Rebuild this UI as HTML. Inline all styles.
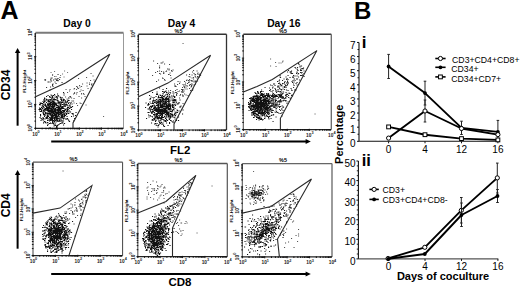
<!DOCTYPE html>
<html><head><meta charset="utf-8"><style>
html,body{margin:0;padding:0;background:#fff;}
body{width:520px;height:288px;overflow:hidden;position:relative;font-family:"Liberation Sans",sans-serif;}
svg{position:absolute;left:0;top:0;}
svg text{font-family:"Liberation Sans",sans-serif;}
</style></head><body>
<svg width="520" height="288" viewBox="0 0 520 288">
<rect width="520" height="288" fill="#fff"/>
<path fill="#777" d="M44.5 80h1.1v1.1h-1.1zM50 81.5h1.1v1.1h-1.1zM50.5 72h1.1v1.1h-1.1zM50.5 77.5h1.1v1.1h-1.1zM52 74.5h1.1v1.1h-1.1zM54 71h1.1v1.1h-1.1zM54 76h1.1v1.1h-1.1zM55.5 76h1.1v1.1h-1.1zM56 79h1.1v1.1h-1.1zM57.5 80.5h1.1v1.1h-1.1zM60 75h1.1v1.1h-1.1zM62 73.5h1.1v1.1h-1.1zM63.5 76.5h1.1v1.1h-1.1zM64 70.5h1.1v1.1h-1.1zM67 72h1.1v1.1h-1.1z"/>
<path fill="#666" d="M74 92h1.1v1.1h-1.1zM85.5 104.5h1.1v1.1h-1.1zM103 116h1.1v1.1h-1.1z"/>
<path fill="#555" d="M60.5 99h1.1v1.1h-1.1zM63.5 93h1.1v1.1h-1.1zM63.5 99h1.1v1.1h-1.1zM64.5 104h1.1v1.1h-1.1zM65 96.5h1.1v1.1h-1.1zM65 100.5h1.1v1.1h-1.1zM65 101h1.1v1.1h-1.1zM65.5 89h1.1v1.1h-1.1zM65.5 101.5h1.1v1.1h-1.1zM66.5 98.5h1.1v1.1h-1.1zM67 92h1.1v1.1h-1.1zM67 108h1.1v1.1h-1.1zM67.5 99.5h1.1v1.1h-1.1zM68 108.5h1.1v1.1h-1.1zM69 90.5h1.1v1.1h-1.1zM69.5 89h1.1v1.1h-1.1zM69.5 104.5h1.1v1.1h-1.1zM70 103h1.1v1.1h-1.1zM70.5 106.5h1.1v1.1h-1.1zM71 97.5h1.1v1.1h-1.1zM73 93.5h1.1v1.1h-1.1zM73 100.5h1.1v1.1h-1.1zM73.5 88.5h1.1v1.1h-1.1zM73.5 98h1.1v1.1h-1.1zM73.5 102.5h1.1v1.1h-1.1zM74 88h1.1v1.1h-1.1zM74 93h1.1v1.1h-1.1zM76 86h1.1v1.1h-1.1zM76 89h1.1v1.1h-1.1zM76 93.5h1.1v1.1h-1.1zM76 103h1.1v1.1h-1.1zM76.5 92h1.1v1.1h-1.1zM77 86.5h1.1v1.1h-1.1zM77 87.5h1.1v1.1h-1.1zM77 105h1.1v1.1h-1.1zM78 78h1.1v1.1h-1.1zM78 88h1.1v1.1h-1.1zM78.5 96h1.1v1.1h-1.1zM79 85h1.1v1.1h-1.1zM79.5 86.5h1.1v1.1h-1.1zM79.5 91h1.1v1.1h-1.1zM79.5 102.5h1.1v1.1h-1.1zM80.5 89.5h1.1v1.1h-1.1zM80.5 103h1.1v1.1h-1.1zM81 86h1.1v1.1h-1.1zM81 93h1.1v1.1h-1.1zM81 93.5h1.1v1.1h-1.1zM81 97.5h1.1v1.1h-1.1zM82 83.5h1.1v1.1h-1.1zM82.5 90h1.1v1.1h-1.1zM83 93h1.1v1.1h-1.1zM83.5 94h1.1v1.1h-1.1zM84.5 96h1.1v1.1h-1.1zM86 77h1.1v1.1h-1.1zM86.5 82.5h1.1v1.1h-1.1zM86.5 85.5h1.1v1.1h-1.1zM87.5 88h1.1v1.1h-1.1zM89 82.5h1.1v1.1h-1.1zM89 84h1.1v1.1h-1.1zM90 80h1.1v1.1h-1.1zM90.5 73h1.1v1.1h-1.1zM90.5 87.5h1.1v1.1h-1.1zM91 83.5h1.1v1.1h-1.1zM91 84.5h1.1v1.1h-1.1zM92 85.5h1.1v1.1h-1.1zM92.5 75.5h1.1v1.1h-1.1zM92.5 83.5h1.1v1.1h-1.1zM93.5 79.5h1.1v1.1h-1.1zM94.5 81h1.1v1.1h-1.1z"/>
<path fill="#333" d="M44.5 79h1.1v1.1h-1.1zM45 79.5h1.1v1.1h-1.1zM46 87h1.1v1.1h-1.1zM47.5 81.5h1.1v1.1h-1.1zM48.5 81.5h1.1v1.1h-1.1zM49.5 89.5h1.1v1.1h-1.1zM50 79.5h1.1v1.1h-1.1zM50 86.5h1.1v1.1h-1.1zM50.5 78.5h1.1v1.1h-1.1zM51 80.5h1.1v1.1h-1.1zM51.5 77.5h1.1v1.1h-1.1zM52 74.5h1.1v1.1h-1.1zM52 84h1.1v1.1h-1.1zM52 85h1.1v1.1h-1.1zM52.5 83.5h1.1v1.1h-1.1zM52.5 86h1.1v1.1h-1.1zM53 79.5h1.1v1.1h-1.1zM54.5 78.5h1.1v1.1h-1.1zM54.5 81.5h1.1v1.1h-1.1zM55.5 78.5h1.1v1.1h-1.1zM55.5 83h1.1v1.1h-1.1zM56 80h1.1v1.1h-1.1zM57 78.5h1.1v1.1h-1.1zM57 80h1.1v1.1h-1.1zM57.5 74h1.1v1.1h-1.1zM57.5 78h1.1v1.1h-1.1zM57.5 80h1.1v1.1h-1.1zM59 79h1.1v1.1h-1.1zM59.5 77h1.1v1.1h-1.1zM61.5 82h1.1v1.1h-1.1z"/>
<path fill="#111" d="M38.5 109h1.1v1.1h-1.1zM39 104h1.1v1.1h-1.1zM39 107.5h1.1v1.1h-1.1zM39 110.5h1.1v1.1h-1.1zM39.5 102.5h1.1v1.1h-1.1zM39.5 104h1.1v1.1h-1.1zM39.5 104.5h1.1v1.1h-1.1zM39.5 108.5h1.1v1.1h-1.1zM39.5 109h1.1v1.1h-1.1zM39.5 117h1.1v1.1h-1.1zM40 103.5h1.1v1.1h-1.1zM40 108h1.1v1.1h-1.1zM40 111h1.1v1.1h-1.1zM40 114h1.1v1.1h-1.1zM40 115h1.1v1.1h-1.1zM40 115.5h1.1v1.1h-1.1zM40.5 102.5h1.1v1.1h-1.1zM40.5 109h1.1v1.1h-1.1zM40.5 118h1.1v1.1h-1.1zM40.5 120h1.1v1.1h-1.1zM41 103h1.1v1.1h-1.1zM41 107h1.1v1.1h-1.1zM41 110h1.1v1.1h-1.1zM41 111h1.1v1.1h-1.1zM41 118.5h1.1v1.1h-1.1zM41.5 105.5h1.1v1.1h-1.1zM41.5 107.5h1.1v1.1h-1.1zM41.5 109.5h1.1v1.1h-1.1zM42 103h1.1v1.1h-1.1zM42 104.5h1.1v1.1h-1.1zM42 108h1.1v1.1h-1.1zM42 118.5h1.1v1.1h-1.1zM42.5 101h1.1v1.1h-1.1zM42.5 104.5h1.1v1.1h-1.1zM42.5 106h1.1v1.1h-1.1zM42.5 107.5h1.1v1.1h-1.1zM42.5 111.5h1.1v1.1h-1.1zM42.5 112.5h1.1v1.1h-1.1zM42.5 117h1.1v1.1h-1.1zM42.5 119.5h1.1v1.1h-1.1zM43 99.5h1.1v1.1h-1.1zM43 102h1.1v1.1h-1.1zM43 106h1.1v1.1h-1.1zM43 109.5h1.1v1.1h-1.1zM43 110h1.1v1.1h-1.1zM43 113h1.1v1.1h-1.1zM43 114h1.1v1.1h-1.1zM43 118h1.1v1.1h-1.1zM43 119.5h1.1v1.1h-1.1zM43 122.5h1.1v1.1h-1.1zM43.5 99.5h1.1v1.1h-1.1zM43.5 103.5h1.1v1.1h-1.1zM43.5 104.5h1.1v1.1h-1.1zM43.5 107h1.1v1.1h-1.1zM43.5 109.5h1.1v1.1h-1.1zM43.5 110.5h1.1v1.1h-1.1zM43.5 111.5h1.1v1.1h-1.1zM43.5 114.5h1.1v1.1h-1.1zM43.5 121.5h1.1v1.1h-1.1zM44 97.5h1.1v1.1h-1.1zM44 98.5h1.1v1.1h-1.1zM44 100.5h1.1v1.1h-1.1zM44 101.5h1.1v1.1h-1.1zM44 109h1.1v1.1h-1.1zM44 110.5h1.1v1.1h-1.1zM44 114h1.1v1.1h-1.1zM44 116h1.1v1.1h-1.1zM44 121h1.1v1.1h-1.1zM44.5 105h1.1v1.1h-1.1zM44.5 108h1.1v1.1h-1.1zM44.5 110.5h1.1v1.1h-1.1zM44.5 113.5h1.1v1.1h-1.1zM44.5 115h1.1v1.1h-1.1zM44.5 118.5h1.1v1.1h-1.1zM45 100.5h1.1v1.1h-1.1zM45 103.5h1.1v1.1h-1.1zM45 104h1.1v1.1h-1.1zM45 104.5h1.1v1.1h-1.1zM45 105.5h1.1v1.1h-1.1zM45 108h1.1v1.1h-1.1zM45 109h1.1v1.1h-1.1zM45 112h1.1v1.1h-1.1zM45 112.5h1.1v1.1h-1.1zM45 121.5h1.1v1.1h-1.1zM45 122h1.1v1.1h-1.1zM45.5 98.5h1.1v1.1h-1.1zM45.5 106h1.1v1.1h-1.1zM45.5 109.5h1.1v1.1h-1.1zM45.5 110h1.1v1.1h-1.1zM45.5 113.5h1.1v1.1h-1.1zM45.5 117h1.1v1.1h-1.1zM45.5 117.5h1.1v1.1h-1.1zM45.5 122.5h1.1v1.1h-1.1zM46 96h1.1v1.1h-1.1zM46 99h1.1v1.1h-1.1zM46 99.5h1.1v1.1h-1.1zM46 102h1.1v1.1h-1.1zM46 107h1.1v1.1h-1.1zM46 108h1.1v1.1h-1.1zM46 109.5h1.1v1.1h-1.1zM46 112.5h1.1v1.1h-1.1zM46 117h1.1v1.1h-1.1zM46 118h1.1v1.1h-1.1zM46.5 105h1.1v1.1h-1.1zM46.5 106h1.1v1.1h-1.1zM46.5 108.5h1.1v1.1h-1.1zM46.5 112.5h1.1v1.1h-1.1zM46.5 115.5h1.1v1.1h-1.1zM46.5 116h1.1v1.1h-1.1zM47 100.5h1.1v1.1h-1.1zM47 103.5h1.1v1.1h-1.1zM47 104.5h1.1v1.1h-1.1zM47 107h1.1v1.1h-1.1zM47 108h1.1v1.1h-1.1zM47 108.5h1.1v1.1h-1.1zM47 109h1.1v1.1h-1.1zM47 109.5h1.1v1.1h-1.1zM47 110.5h1.1v1.1h-1.1zM47 113h1.1v1.1h-1.1zM47 114.5h1.1v1.1h-1.1zM47 115.5h1.1v1.1h-1.1zM47 116.5h1.1v1.1h-1.1zM47 117.5h1.1v1.1h-1.1zM47 120h1.1v1.1h-1.1zM47 122h1.1v1.1h-1.1zM47 125h1.1v1.1h-1.1zM47.5 95h1.1v1.1h-1.1zM47.5 99h1.1v1.1h-1.1zM47.5 103h1.1v1.1h-1.1zM47.5 107h1.1v1.1h-1.1zM47.5 107.5h1.1v1.1h-1.1zM47.5 108.5h1.1v1.1h-1.1zM47.5 109h1.1v1.1h-1.1zM47.5 112.5h1.1v1.1h-1.1zM47.5 113.5h1.1v1.1h-1.1zM47.5 114h1.1v1.1h-1.1zM47.5 114.5h1.1v1.1h-1.1zM47.5 115.5h1.1v1.1h-1.1zM47.5 116h1.1v1.1h-1.1zM47.5 118h1.1v1.1h-1.1zM47.5 118.5h1.1v1.1h-1.1zM47.5 120h1.1v1.1h-1.1zM47.5 122.5h1.1v1.1h-1.1zM47.5 124h1.1v1.1h-1.1zM48 100h1.1v1.1h-1.1zM48 101h1.1v1.1h-1.1zM48 102.5h1.1v1.1h-1.1zM48 104h1.1v1.1h-1.1zM48 105h1.1v1.1h-1.1zM48 106.5h1.1v1.1h-1.1zM48 108.5h1.1v1.1h-1.1zM48 109h1.1v1.1h-1.1zM48 109.5h1.1v1.1h-1.1zM48 110h1.1v1.1h-1.1zM48 111h1.1v1.1h-1.1zM48 112.5h1.1v1.1h-1.1zM48 116h1.1v1.1h-1.1zM48.5 106h1.1v1.1h-1.1zM48.5 107.5h1.1v1.1h-1.1zM48.5 108h1.1v1.1h-1.1zM48.5 110h1.1v1.1h-1.1zM48.5 110.5h1.1v1.1h-1.1zM48.5 111h1.1v1.1h-1.1zM48.5 113h1.1v1.1h-1.1zM49 96h1.1v1.1h-1.1zM49 99.5h1.1v1.1h-1.1zM49 101h1.1v1.1h-1.1zM49 101.5h1.1v1.1h-1.1zM49 103h1.1v1.1h-1.1zM49 103.5h1.1v1.1h-1.1zM49 104.5h1.1v1.1h-1.1zM49 106h1.1v1.1h-1.1zM49 107h1.1v1.1h-1.1zM49 110h1.1v1.1h-1.1zM49 110.5h1.1v1.1h-1.1zM49 111h1.1v1.1h-1.1zM49 111.5h1.1v1.1h-1.1zM49 113.5h1.1v1.1h-1.1zM49 117h1.1v1.1h-1.1zM49 118.5h1.1v1.1h-1.1zM49 120.5h1.1v1.1h-1.1zM49 123h1.1v1.1h-1.1zM49.5 97h1.1v1.1h-1.1zM49.5 99h1.1v1.1h-1.1zM49.5 99.5h1.1v1.1h-1.1zM49.5 103h1.1v1.1h-1.1zM49.5 104.5h1.1v1.1h-1.1zM49.5 105.5h1.1v1.1h-1.1zM49.5 107.5h1.1v1.1h-1.1zM49.5 108.5h1.1v1.1h-1.1zM49.5 109h1.1v1.1h-1.1zM49.5 109.5h1.1v1.1h-1.1zM49.5 111h1.1v1.1h-1.1zM49.5 112.5h1.1v1.1h-1.1zM49.5 114.5h1.1v1.1h-1.1zM49.5 119h1.1v1.1h-1.1zM49.5 120h1.1v1.1h-1.1zM49.5 127h1.1v1.1h-1.1zM50 102h1.1v1.1h-1.1zM50 103h1.1v1.1h-1.1zM50 104h1.1v1.1h-1.1zM50 104.5h1.1v1.1h-1.1zM50 105h1.1v1.1h-1.1zM50 105.5h1.1v1.1h-1.1zM50 108h1.1v1.1h-1.1zM50 110.5h1.1v1.1h-1.1zM50 113h1.1v1.1h-1.1zM50 113.5h1.1v1.1h-1.1zM50 114.5h1.1v1.1h-1.1zM50 117.5h1.1v1.1h-1.1zM50 118.5h1.1v1.1h-1.1zM50 119h1.1v1.1h-1.1zM50 119.5h1.1v1.1h-1.1zM50 122.5h1.1v1.1h-1.1zM50.5 94.5h1.1v1.1h-1.1zM50.5 96.5h1.1v1.1h-1.1zM50.5 99h1.1v1.1h-1.1zM50.5 100h1.1v1.1h-1.1zM50.5 100.5h1.1v1.1h-1.1zM50.5 101h1.1v1.1h-1.1zM50.5 102h1.1v1.1h-1.1zM50.5 104h1.1v1.1h-1.1zM50.5 104.5h1.1v1.1h-1.1zM50.5 106.5h1.1v1.1h-1.1zM50.5 108h1.1v1.1h-1.1zM50.5 109.5h1.1v1.1h-1.1zM50.5 110.5h1.1v1.1h-1.1zM50.5 111.5h1.1v1.1h-1.1zM50.5 112h1.1v1.1h-1.1zM50.5 112.5h1.1v1.1h-1.1zM50.5 113.5h1.1v1.1h-1.1zM50.5 115.5h1.1v1.1h-1.1zM50.5 117h1.1v1.1h-1.1zM50.5 117.5h1.1v1.1h-1.1zM50.5 118h1.1v1.1h-1.1zM50.5 120h1.1v1.1h-1.1zM50.5 123h1.1v1.1h-1.1zM51 98.5h1.1v1.1h-1.1zM51 102h1.1v1.1h-1.1zM51 104h1.1v1.1h-1.1zM51 104.5h1.1v1.1h-1.1zM51 106h1.1v1.1h-1.1zM51 106.5h1.1v1.1h-1.1zM51 108.5h1.1v1.1h-1.1zM51 109.5h1.1v1.1h-1.1zM51 111.5h1.1v1.1h-1.1zM51 112h1.1v1.1h-1.1zM51 112.5h1.1v1.1h-1.1zM51 114.5h1.1v1.1h-1.1zM51 116.5h1.1v1.1h-1.1zM51 117.5h1.1v1.1h-1.1zM51 118.5h1.1v1.1h-1.1zM51 119.5h1.1v1.1h-1.1zM51.5 95h1.1v1.1h-1.1zM51.5 97.5h1.1v1.1h-1.1zM51.5 98h1.1v1.1h-1.1zM51.5 102h1.1v1.1h-1.1zM51.5 103h1.1v1.1h-1.1zM51.5 103.5h1.1v1.1h-1.1zM51.5 104h1.1v1.1h-1.1zM51.5 107.5h1.1v1.1h-1.1zM51.5 108.5h1.1v1.1h-1.1zM51.5 109.5h1.1v1.1h-1.1zM51.5 110h1.1v1.1h-1.1zM51.5 110.5h1.1v1.1h-1.1zM51.5 111h1.1v1.1h-1.1zM51.5 111.5h1.1v1.1h-1.1zM51.5 112.5h1.1v1.1h-1.1zM51.5 115.5h1.1v1.1h-1.1zM51.5 116h1.1v1.1h-1.1zM52 96h1.1v1.1h-1.1zM52 97h1.1v1.1h-1.1zM52 100.5h1.1v1.1h-1.1zM52 101h1.1v1.1h-1.1zM52 102.5h1.1v1.1h-1.1zM52 104h1.1v1.1h-1.1zM52 104.5h1.1v1.1h-1.1zM52 105h1.1v1.1h-1.1zM52 105.5h1.1v1.1h-1.1zM52 106h1.1v1.1h-1.1zM52 106.5h1.1v1.1h-1.1zM52 109h1.1v1.1h-1.1zM52 109.5h1.1v1.1h-1.1zM52 110h1.1v1.1h-1.1zM52 110.5h1.1v1.1h-1.1zM52 111h1.1v1.1h-1.1zM52 111.5h1.1v1.1h-1.1zM52 112h1.1v1.1h-1.1zM52 113.5h1.1v1.1h-1.1zM52 114.5h1.1v1.1h-1.1zM52 115.5h1.1v1.1h-1.1zM52 116.5h1.1v1.1h-1.1zM52 117h1.1v1.1h-1.1zM52 118h1.1v1.1h-1.1zM52 119h1.1v1.1h-1.1zM52 119.5h1.1v1.1h-1.1zM52 120.5h1.1v1.1h-1.1zM52 121.5h1.1v1.1h-1.1zM52 122.5h1.1v1.1h-1.1zM52.5 99h1.1v1.1h-1.1zM52.5 99.5h1.1v1.1h-1.1zM52.5 100.5h1.1v1.1h-1.1zM52.5 103h1.1v1.1h-1.1zM52.5 105.5h1.1v1.1h-1.1zM52.5 106h1.1v1.1h-1.1zM52.5 106.5h1.1v1.1h-1.1zM52.5 107.5h1.1v1.1h-1.1zM52.5 109h1.1v1.1h-1.1zM52.5 110.5h1.1v1.1h-1.1zM52.5 111.5h1.1v1.1h-1.1zM52.5 112h1.1v1.1h-1.1zM52.5 113.5h1.1v1.1h-1.1zM52.5 115h1.1v1.1h-1.1zM52.5 115.5h1.1v1.1h-1.1zM52.5 116.5h1.1v1.1h-1.1zM52.5 117.5h1.1v1.1h-1.1zM52.5 118h1.1v1.1h-1.1zM52.5 123h1.1v1.1h-1.1zM53 95h1.1v1.1h-1.1zM53 101h1.1v1.1h-1.1zM53 101.5h1.1v1.1h-1.1zM53 102.5h1.1v1.1h-1.1zM53 103h1.1v1.1h-1.1zM53 103.5h1.1v1.1h-1.1zM53 104h1.1v1.1h-1.1zM53 105.5h1.1v1.1h-1.1zM53 106h1.1v1.1h-1.1zM53 106.5h1.1v1.1h-1.1zM53 107h1.1v1.1h-1.1zM53 107.5h1.1v1.1h-1.1zM53 108h1.1v1.1h-1.1zM53 110.5h1.1v1.1h-1.1zM53 111.5h1.1v1.1h-1.1zM53 112h1.1v1.1h-1.1zM53 112.5h1.1v1.1h-1.1zM53 113h1.1v1.1h-1.1zM53 115h1.1v1.1h-1.1zM53 115.5h1.1v1.1h-1.1zM53 117.5h1.1v1.1h-1.1zM53 120h1.1v1.1h-1.1zM53 121.5h1.1v1.1h-1.1zM53 123h1.1v1.1h-1.1zM53.5 97.5h1.1v1.1h-1.1zM53.5 98.5h1.1v1.1h-1.1zM53.5 99h1.1v1.1h-1.1zM53.5 101.5h1.1v1.1h-1.1zM53.5 102h1.1v1.1h-1.1zM53.5 103h1.1v1.1h-1.1zM53.5 103.5h1.1v1.1h-1.1zM53.5 104.5h1.1v1.1h-1.1zM53.5 105h1.1v1.1h-1.1zM53.5 109.5h1.1v1.1h-1.1zM53.5 111.5h1.1v1.1h-1.1zM53.5 113h1.1v1.1h-1.1zM53.5 114.5h1.1v1.1h-1.1zM53.5 123.5h1.1v1.1h-1.1zM53.5 124h1.1v1.1h-1.1zM53.5 125.5h1.1v1.1h-1.1zM54 94h1.1v1.1h-1.1zM54 99h1.1v1.1h-1.1zM54 99.5h1.1v1.1h-1.1zM54 101.5h1.1v1.1h-1.1zM54 102.5h1.1v1.1h-1.1zM54 104.5h1.1v1.1h-1.1zM54 105h1.1v1.1h-1.1zM54 105.5h1.1v1.1h-1.1zM54 106h1.1v1.1h-1.1zM54 107.5h1.1v1.1h-1.1zM54 109h1.1v1.1h-1.1zM54 110.5h1.1v1.1h-1.1zM54 113.5h1.1v1.1h-1.1zM54 114h1.1v1.1h-1.1zM54 114.5h1.1v1.1h-1.1zM54 115h1.1v1.1h-1.1zM54 115.5h1.1v1.1h-1.1zM54 117h1.1v1.1h-1.1zM54 117.5h1.1v1.1h-1.1zM54 118h1.1v1.1h-1.1zM54 119h1.1v1.1h-1.1zM54 120.5h1.1v1.1h-1.1zM54 121.5h1.1v1.1h-1.1zM54.5 95.5h1.1v1.1h-1.1zM54.5 99.5h1.1v1.1h-1.1zM54.5 103.5h1.1v1.1h-1.1zM54.5 104h1.1v1.1h-1.1zM54.5 108.5h1.1v1.1h-1.1zM54.5 109h1.1v1.1h-1.1zM54.5 109.5h1.1v1.1h-1.1zM54.5 110h1.1v1.1h-1.1zM54.5 110.5h1.1v1.1h-1.1zM54.5 111h1.1v1.1h-1.1zM54.5 111.5h1.1v1.1h-1.1zM54.5 112h1.1v1.1h-1.1zM54.5 113h1.1v1.1h-1.1zM54.5 113.5h1.1v1.1h-1.1zM54.5 114h1.1v1.1h-1.1zM54.5 114.5h1.1v1.1h-1.1zM54.5 115h1.1v1.1h-1.1zM54.5 115.5h1.1v1.1h-1.1zM54.5 117h1.1v1.1h-1.1zM54.5 118h1.1v1.1h-1.1zM54.5 120h1.1v1.1h-1.1zM54.5 125h1.1v1.1h-1.1zM55 99h1.1v1.1h-1.1zM55 102.5h1.1v1.1h-1.1zM55 103h1.1v1.1h-1.1zM55 108h1.1v1.1h-1.1zM55 110h1.1v1.1h-1.1zM55 111h1.1v1.1h-1.1zM55 111.5h1.1v1.1h-1.1zM55 112h1.1v1.1h-1.1zM55 113.5h1.1v1.1h-1.1zM55 114h1.1v1.1h-1.1zM55 115h1.1v1.1h-1.1zM55 116h1.1v1.1h-1.1zM55 116.5h1.1v1.1h-1.1zM55 117.5h1.1v1.1h-1.1zM55 120h1.1v1.1h-1.1zM55 123.5h1.1v1.1h-1.1zM55.5 97h1.1v1.1h-1.1zM55.5 99h1.1v1.1h-1.1zM55.5 103h1.1v1.1h-1.1zM55.5 103.5h1.1v1.1h-1.1zM55.5 104.5h1.1v1.1h-1.1zM55.5 105h1.1v1.1h-1.1zM55.5 106.5h1.1v1.1h-1.1zM55.5 108.5h1.1v1.1h-1.1zM55.5 109h1.1v1.1h-1.1zM55.5 110.5h1.1v1.1h-1.1zM55.5 112h1.1v1.1h-1.1zM55.5 114h1.1v1.1h-1.1zM55.5 114.5h1.1v1.1h-1.1zM55.5 116.5h1.1v1.1h-1.1zM55.5 119h1.1v1.1h-1.1zM55.5 121.5h1.1v1.1h-1.1zM55.5 125h1.1v1.1h-1.1zM56 96h1.1v1.1h-1.1zM56 104h1.1v1.1h-1.1zM56 104.5h1.1v1.1h-1.1zM56 105h1.1v1.1h-1.1zM56 107h1.1v1.1h-1.1zM56 113h1.1v1.1h-1.1zM56 114h1.1v1.1h-1.1zM56 115h1.1v1.1h-1.1zM56 116h1.1v1.1h-1.1zM56 117h1.1v1.1h-1.1zM56 118h1.1v1.1h-1.1zM56 119.5h1.1v1.1h-1.1zM56 126h1.1v1.1h-1.1zM56 127h1.1v1.1h-1.1zM56.5 97.5h1.1v1.1h-1.1zM56.5 100h1.1v1.1h-1.1zM56.5 102.5h1.1v1.1h-1.1zM56.5 105h1.1v1.1h-1.1zM56.5 109.5h1.1v1.1h-1.1zM56.5 110h1.1v1.1h-1.1zM56.5 111.5h1.1v1.1h-1.1zM56.5 112.5h1.1v1.1h-1.1zM56.5 113.5h1.1v1.1h-1.1zM56.5 115.5h1.1v1.1h-1.1zM56.5 116.5h1.1v1.1h-1.1zM56.5 117.5h1.1v1.1h-1.1zM56.5 118.5h1.1v1.1h-1.1zM56.5 120.5h1.1v1.1h-1.1zM56.5 126h1.1v1.1h-1.1zM57 93.5h1.1v1.1h-1.1zM57 96.5h1.1v1.1h-1.1zM57 98.5h1.1v1.1h-1.1zM57 100.5h1.1v1.1h-1.1zM57 105h1.1v1.1h-1.1zM57 106.5h1.1v1.1h-1.1zM57 107h1.1v1.1h-1.1zM57 108.5h1.1v1.1h-1.1zM57 109h1.1v1.1h-1.1zM57 110h1.1v1.1h-1.1zM57 111.5h1.1v1.1h-1.1zM57 112.5h1.1v1.1h-1.1zM57 118h1.1v1.1h-1.1zM57 119.5h1.1v1.1h-1.1zM57 125h1.1v1.1h-1.1zM57.5 95h1.1v1.1h-1.1zM57.5 100h1.1v1.1h-1.1zM57.5 100.5h1.1v1.1h-1.1zM57.5 102.5h1.1v1.1h-1.1zM57.5 105h1.1v1.1h-1.1zM57.5 107h1.1v1.1h-1.1zM57.5 108.5h1.1v1.1h-1.1zM57.5 110h1.1v1.1h-1.1zM57.5 111h1.1v1.1h-1.1zM57.5 112h1.1v1.1h-1.1zM57.5 112.5h1.1v1.1h-1.1zM57.5 113h1.1v1.1h-1.1zM57.5 114.5h1.1v1.1h-1.1zM57.5 116h1.1v1.1h-1.1zM57.5 117.5h1.1v1.1h-1.1zM57.5 118h1.1v1.1h-1.1zM57.5 120.5h1.1v1.1h-1.1zM57.5 121h1.1v1.1h-1.1zM57.5 124.5h1.1v1.1h-1.1zM58 95.5h1.1v1.1h-1.1zM58 101.5h1.1v1.1h-1.1zM58 102h1.1v1.1h-1.1zM58 102.5h1.1v1.1h-1.1zM58 106h1.1v1.1h-1.1zM58 108h1.1v1.1h-1.1zM58 108.5h1.1v1.1h-1.1zM58 109h1.1v1.1h-1.1zM58 110.5h1.1v1.1h-1.1zM58 111.5h1.1v1.1h-1.1zM58 112h1.1v1.1h-1.1zM58 114h1.1v1.1h-1.1zM58 114.5h1.1v1.1h-1.1zM58 115h1.1v1.1h-1.1zM58 118h1.1v1.1h-1.1zM58 120.5h1.1v1.1h-1.1zM58.5 102h1.1v1.1h-1.1zM58.5 103h1.1v1.1h-1.1zM58.5 103.5h1.1v1.1h-1.1zM58.5 107h1.1v1.1h-1.1zM58.5 108h1.1v1.1h-1.1zM58.5 108.5h1.1v1.1h-1.1zM58.5 109h1.1v1.1h-1.1zM58.5 109.5h1.1v1.1h-1.1zM58.5 110.5h1.1v1.1h-1.1zM58.5 112.5h1.1v1.1h-1.1zM58.5 113h1.1v1.1h-1.1zM58.5 114h1.1v1.1h-1.1zM58.5 115.5h1.1v1.1h-1.1zM58.5 118.5h1.1v1.1h-1.1zM58.5 124h1.1v1.1h-1.1zM59 103.5h1.1v1.1h-1.1zM59 105.5h1.1v1.1h-1.1zM59 107h1.1v1.1h-1.1zM59 108h1.1v1.1h-1.1zM59 110.5h1.1v1.1h-1.1zM59 112h1.1v1.1h-1.1zM59 114h1.1v1.1h-1.1zM59 116.5h1.1v1.1h-1.1zM59 120h1.1v1.1h-1.1zM59 120.5h1.1v1.1h-1.1zM59.5 96.5h1.1v1.1h-1.1zM59.5 101h1.1v1.1h-1.1zM59.5 102h1.1v1.1h-1.1zM59.5 103.5h1.1v1.1h-1.1zM59.5 105.5h1.1v1.1h-1.1zM59.5 106h1.1v1.1h-1.1zM59.5 108h1.1v1.1h-1.1zM59.5 109h1.1v1.1h-1.1zM59.5 110h1.1v1.1h-1.1zM59.5 110.5h1.1v1.1h-1.1zM59.5 111h1.1v1.1h-1.1zM59.5 111.5h1.1v1.1h-1.1zM59.5 113.5h1.1v1.1h-1.1zM59.5 116.5h1.1v1.1h-1.1zM59.5 118h1.1v1.1h-1.1zM59.5 118.5h1.1v1.1h-1.1zM59.5 119.5h1.1v1.1h-1.1zM59.5 120.5h1.1v1.1h-1.1zM59.5 121h1.1v1.1h-1.1zM59.5 123h1.1v1.1h-1.1zM60 97h1.1v1.1h-1.1zM60 103.5h1.1v1.1h-1.1zM60 104.5h1.1v1.1h-1.1zM60 105h1.1v1.1h-1.1zM60 105.5h1.1v1.1h-1.1zM60 106h1.1v1.1h-1.1zM60 108h1.1v1.1h-1.1zM60 109h1.1v1.1h-1.1zM60 110h1.1v1.1h-1.1zM60 110.5h1.1v1.1h-1.1zM60 112h1.1v1.1h-1.1zM60 112.5h1.1v1.1h-1.1zM60 113h1.1v1.1h-1.1zM60.5 98h1.1v1.1h-1.1zM60.5 99h1.1v1.1h-1.1zM60.5 102.5h1.1v1.1h-1.1zM60.5 103.5h1.1v1.1h-1.1zM60.5 104.5h1.1v1.1h-1.1zM60.5 106.5h1.1v1.1h-1.1zM60.5 107h1.1v1.1h-1.1zM60.5 107.5h1.1v1.1h-1.1zM60.5 108.5h1.1v1.1h-1.1zM60.5 110.5h1.1v1.1h-1.1zM60.5 111h1.1v1.1h-1.1zM60.5 114h1.1v1.1h-1.1zM60.5 115h1.1v1.1h-1.1zM60.5 117h1.1v1.1h-1.1zM60.5 123h1.1v1.1h-1.1zM61 99h1.1v1.1h-1.1zM61 100h1.1v1.1h-1.1zM61 102h1.1v1.1h-1.1zM61 107h1.1v1.1h-1.1zM61 107.5h1.1v1.1h-1.1zM61 108.5h1.1v1.1h-1.1zM61 111h1.1v1.1h-1.1zM61 111.5h1.1v1.1h-1.1zM61 112.5h1.1v1.1h-1.1zM61 113h1.1v1.1h-1.1zM61 113.5h1.1v1.1h-1.1zM61 116h1.1v1.1h-1.1zM61 117h1.1v1.1h-1.1zM61 119.5h1.1v1.1h-1.1zM61.5 97h1.1v1.1h-1.1zM61.5 100h1.1v1.1h-1.1zM61.5 101h1.1v1.1h-1.1zM61.5 102h1.1v1.1h-1.1zM61.5 106h1.1v1.1h-1.1zM61.5 107h1.1v1.1h-1.1zM61.5 107.5h1.1v1.1h-1.1zM61.5 111.5h1.1v1.1h-1.1zM61.5 113.5h1.1v1.1h-1.1zM61.5 115h1.1v1.1h-1.1zM61.5 115.5h1.1v1.1h-1.1zM61.5 116.5h1.1v1.1h-1.1zM61.5 118h1.1v1.1h-1.1zM61.5 120h1.1v1.1h-1.1zM61.5 120.5h1.1v1.1h-1.1zM61.5 121.5h1.1v1.1h-1.1zM61.5 122h1.1v1.1h-1.1zM62 102h1.1v1.1h-1.1zM62 104h1.1v1.1h-1.1zM62 107h1.1v1.1h-1.1zM62 108h1.1v1.1h-1.1zM62 110h1.1v1.1h-1.1zM62 112h1.1v1.1h-1.1zM62 113.5h1.1v1.1h-1.1zM62 114.5h1.1v1.1h-1.1zM62 115.5h1.1v1.1h-1.1zM62 116.5h1.1v1.1h-1.1zM62 117h1.1v1.1h-1.1zM62 122.5h1.1v1.1h-1.1zM62.5 98.5h1.1v1.1h-1.1zM62.5 102h1.1v1.1h-1.1zM62.5 104h1.1v1.1h-1.1zM62.5 106h1.1v1.1h-1.1zM62.5 107h1.1v1.1h-1.1zM62.5 108h1.1v1.1h-1.1zM62.5 111.5h1.1v1.1h-1.1zM62.5 112h1.1v1.1h-1.1zM62.5 113.5h1.1v1.1h-1.1zM62.5 116h1.1v1.1h-1.1zM62.5 116.5h1.1v1.1h-1.1zM62.5 122.5h1.1v1.1h-1.1zM63 92h1.1v1.1h-1.1zM63 99.5h1.1v1.1h-1.1zM63 100.5h1.1v1.1h-1.1zM63 103.5h1.1v1.1h-1.1zM63 108h1.1v1.1h-1.1zM63 110h1.1v1.1h-1.1zM63 111h1.1v1.1h-1.1zM63 114.5h1.1v1.1h-1.1zM63 118h1.1v1.1h-1.1zM63 118.5h1.1v1.1h-1.1zM63 120.5h1.1v1.1h-1.1zM63 124.5h1.1v1.1h-1.1zM63.5 94.5h1.1v1.1h-1.1zM63.5 99h1.1v1.1h-1.1zM63.5 105h1.1v1.1h-1.1zM63.5 105.5h1.1v1.1h-1.1zM63.5 111.5h1.1v1.1h-1.1zM63.5 113h1.1v1.1h-1.1zM63.5 114.5h1.1v1.1h-1.1zM63.5 116.5h1.1v1.1h-1.1zM63.5 118h1.1v1.1h-1.1zM64 103.5h1.1v1.1h-1.1zM64 105.5h1.1v1.1h-1.1zM64 108.5h1.1v1.1h-1.1zM64 110h1.1v1.1h-1.1zM64 110.5h1.1v1.1h-1.1zM64 111h1.1v1.1h-1.1zM64 111.5h1.1v1.1h-1.1zM64 113.5h1.1v1.1h-1.1zM64 115h1.1v1.1h-1.1zM64 115.5h1.1v1.1h-1.1zM64 116.5h1.1v1.1h-1.1zM64 123h1.1v1.1h-1.1zM64.5 100h1.1v1.1h-1.1zM64.5 101.5h1.1v1.1h-1.1zM64.5 102.5h1.1v1.1h-1.1zM64.5 104h1.1v1.1h-1.1zM64.5 106h1.1v1.1h-1.1zM64.5 110h1.1v1.1h-1.1zM64.5 114.5h1.1v1.1h-1.1zM65 105.5h1.1v1.1h-1.1zM65 109h1.1v1.1h-1.1zM65 112.5h1.1v1.1h-1.1zM65 115h1.1v1.1h-1.1zM65.5 101.5h1.1v1.1h-1.1zM65.5 104.5h1.1v1.1h-1.1zM65.5 108.5h1.1v1.1h-1.1zM65.5 112.5h1.1v1.1h-1.1zM65.5 118h1.1v1.1h-1.1zM65.5 119h1.1v1.1h-1.1zM66 103.5h1.1v1.1h-1.1zM66 111h1.1v1.1h-1.1zM66 113h1.1v1.1h-1.1zM66 113.5h1.1v1.1h-1.1zM66 114h1.1v1.1h-1.1zM66.5 102h1.1v1.1h-1.1zM66.5 104.5h1.1v1.1h-1.1zM66.5 108.5h1.1v1.1h-1.1zM66.5 110h1.1v1.1h-1.1zM66.5 116h1.1v1.1h-1.1zM67 101h1.1v1.1h-1.1zM67 104.5h1.1v1.1h-1.1zM67 107h1.1v1.1h-1.1zM67 109.5h1.1v1.1h-1.1zM67 110.5h1.1v1.1h-1.1zM67 112.5h1.1v1.1h-1.1zM67 118h1.1v1.1h-1.1zM67 118.5h1.1v1.1h-1.1zM67.5 100h1.1v1.1h-1.1zM67.5 105.5h1.1v1.1h-1.1zM67.5 109h1.1v1.1h-1.1zM67.5 110.5h1.1v1.1h-1.1zM67.5 111h1.1v1.1h-1.1zM68 97.5h1.1v1.1h-1.1zM68 103h1.1v1.1h-1.1zM68 107h1.1v1.1h-1.1zM68 113h1.1v1.1h-1.1zM68 119.5h1.1v1.1h-1.1zM68.5 97.5h1.1v1.1h-1.1zM68.5 100h1.1v1.1h-1.1zM68.5 102h1.1v1.1h-1.1zM68.5 112.5h1.1v1.1h-1.1zM68.5 120.5h1.1v1.1h-1.1zM69 105.5h1.1v1.1h-1.1zM69 108h1.1v1.1h-1.1zM69 110.5h1.1v1.1h-1.1zM69 121h1.1v1.1h-1.1zM69.5 96h1.1v1.1h-1.1zM69.5 104.5h1.1v1.1h-1.1zM69.5 107.5h1.1v1.1h-1.1zM70 96.5h1.1v1.1h-1.1zM70 106.5h1.1v1.1h-1.1zM70 111.5h1.1v1.1h-1.1zM70.5 102h1.1v1.1h-1.1zM71 107h1.1v1.1h-1.1zM71 109h1.1v1.1h-1.1zM71 116h1.1v1.1h-1.1zM71.5 100.5h1.1v1.1h-1.1zM71.5 103.5h1.1v1.1h-1.1zM71.5 113h1.1v1.1h-1.1zM72 106h1.1v1.1h-1.1zM72.5 113h1.1v1.1h-1.1zM72.5 114h1.1v1.1h-1.1zM73 115.5h1.1v1.1h-1.1zM73 120.5h1.1v1.1h-1.1zM74 118h1.1v1.1h-1.1zM75 115h1.1v1.1h-1.1zM75.5 112h1.1v1.1h-1.1z"/>
<path fill="#666" d="M154 97h1.1v1.1h-1.1zM182.5 43h1.1v1.1h-1.1z"/>
<path fill="#444" d="M148 69h1.1v1.1h-1.1zM152 75h1.1v1.1h-1.1zM153 60.5h1.1v1.1h-1.1zM155 72h1.1v1.1h-1.1zM156 81h1.1v1.1h-1.1zM157 63h1.1v1.1h-1.1zM157 71h1.1v1.1h-1.1zM158 79.5h1.1v1.1h-1.1zM159 65.5h1.1v1.1h-1.1zM159 67h1.1v1.1h-1.1zM159 67.5h1.1v1.1h-1.1zM159 70.5h1.1v1.1h-1.1zM159 73h1.1v1.1h-1.1zM160 73.5h1.1v1.1h-1.1zM160.5 62.5h1.1v1.1h-1.1zM161 71h1.1v1.1h-1.1zM161.5 62.5h1.1v1.1h-1.1zM162 77.5h1.1v1.1h-1.1zM162.5 61.5h1.1v1.1h-1.1zM162.5 78h1.1v1.1h-1.1zM163 71.5h1.1v1.1h-1.1zM163 73h1.1v1.1h-1.1zM163.5 72.5h1.1v1.1h-1.1zM164 63.5h1.1v1.1h-1.1zM164 79h1.1v1.1h-1.1zM164.5 80h1.1v1.1h-1.1zM165 91h1.1v1.1h-1.1zM165.5 71h1.1v1.1h-1.1zM166 70.5h1.1v1.1h-1.1zM166 92h1.1v1.1h-1.1zM166.5 96h1.1v1.1h-1.1zM166.5 97.5h1.1v1.1h-1.1zM167 68.5h1.1v1.1h-1.1zM167 98h1.1v1.1h-1.1zM167.5 99h1.1v1.1h-1.1zM168 74h1.1v1.1h-1.1zM168 90.5h1.1v1.1h-1.1zM168 92.5h1.1v1.1h-1.1zM168 93h1.1v1.1h-1.1zM168 98.5h1.1v1.1h-1.1zM168 100h1.1v1.1h-1.1zM168.5 68.5h1.1v1.1h-1.1zM168.5 69.5h1.1v1.1h-1.1zM168.5 74h1.1v1.1h-1.1zM169 64h1.1v1.1h-1.1zM169 95.5h1.1v1.1h-1.1zM169 96.5h1.1v1.1h-1.1zM169.5 72.5h1.1v1.1h-1.1zM169.5 96.5h1.1v1.1h-1.1zM169.5 100.5h1.1v1.1h-1.1zM170 75h1.1v1.1h-1.1zM170 90h1.1v1.1h-1.1zM170.5 77.5h1.1v1.1h-1.1zM171 70h1.1v1.1h-1.1zM171.5 71h1.1v1.1h-1.1zM172 97.5h1.1v1.1h-1.1zM172 100.5h1.1v1.1h-1.1zM172.5 69.5h1.1v1.1h-1.1zM172.5 91h1.1v1.1h-1.1zM172.5 95.5h1.1v1.1h-1.1zM172.5 96h1.1v1.1h-1.1zM172.5 100h1.1v1.1h-1.1zM172.5 102.5h1.1v1.1h-1.1zM173 94.5h1.1v1.1h-1.1zM173 98.5h1.1v1.1h-1.1zM173.5 92.5h1.1v1.1h-1.1zM174 83.5h1.1v1.1h-1.1zM174 99h1.1v1.1h-1.1zM174 99.5h1.1v1.1h-1.1zM174 102h1.1v1.1h-1.1zM174.5 85h1.1v1.1h-1.1zM174.5 86h1.1v1.1h-1.1zM174.5 96.5h1.1v1.1h-1.1zM174.5 102.5h1.1v1.1h-1.1zM175 90h1.1v1.1h-1.1zM175 92h1.1v1.1h-1.1zM175 100.5h1.1v1.1h-1.1zM175.5 86h1.1v1.1h-1.1zM176 92h1.1v1.1h-1.1zM176 94h1.1v1.1h-1.1zM176 95h1.1v1.1h-1.1zM176 101.5h1.1v1.1h-1.1zM176 102h1.1v1.1h-1.1zM176.5 89h1.1v1.1h-1.1zM177 84h1.1v1.1h-1.1zM177.5 81h1.1v1.1h-1.1zM177.5 91h1.1v1.1h-1.1zM177.5 103h1.1v1.1h-1.1zM178.5 102h1.1v1.1h-1.1zM179 83h1.1v1.1h-1.1zM179 90.5h1.1v1.1h-1.1zM179 97.5h1.1v1.1h-1.1zM179 106.5h1.1v1.1h-1.1zM179.5 81.5h1.1v1.1h-1.1zM179.5 95h1.1v1.1h-1.1zM180 94h1.1v1.1h-1.1zM181 89h1.1v1.1h-1.1zM181 91.5h1.1v1.1h-1.1zM181.5 89h1.1v1.1h-1.1zM181.5 91h1.1v1.1h-1.1zM182 87h1.1v1.1h-1.1zM182 90h1.1v1.1h-1.1zM182 91.5h1.1v1.1h-1.1zM182 94.5h1.1v1.1h-1.1zM182.5 84h1.1v1.1h-1.1zM182.5 89h1.1v1.1h-1.1zM182.5 91.5h1.1v1.1h-1.1zM182.5 92h1.1v1.1h-1.1zM182.5 95h1.1v1.1h-1.1zM182.5 96h1.1v1.1h-1.1zM182.5 103h1.1v1.1h-1.1zM183 85.5h1.1v1.1h-1.1zM183.5 85.5h1.1v1.1h-1.1zM183.5 90.5h1.1v1.1h-1.1zM184 81h1.1v1.1h-1.1zM184 86.5h1.1v1.1h-1.1zM184 87h1.1v1.1h-1.1zM184 93.5h1.1v1.1h-1.1zM184.5 84h1.1v1.1h-1.1zM184.5 88.5h1.1v1.1h-1.1zM185 82.5h1.1v1.1h-1.1zM185.5 85h1.1v1.1h-1.1zM185.5 86.5h1.1v1.1h-1.1zM185.5 94.5h1.1v1.1h-1.1zM186 74.5h1.1v1.1h-1.1zM186 80h1.1v1.1h-1.1zM186.5 79.5h1.1v1.1h-1.1zM186.5 88.5h1.1v1.1h-1.1zM187 83h1.1v1.1h-1.1zM187 85.5h1.1v1.1h-1.1zM187.5 95h1.1v1.1h-1.1zM188 80h1.1v1.1h-1.1zM188 82h1.1v1.1h-1.1zM188.5 76h1.1v1.1h-1.1zM188.5 80h1.1v1.1h-1.1zM188.5 81.5h1.1v1.1h-1.1zM189 74h1.1v1.1h-1.1zM189 79h1.1v1.1h-1.1zM189 81.5h1.1v1.1h-1.1zM189 84.5h1.1v1.1h-1.1zM189 85h1.1v1.1h-1.1zM189 88h1.1v1.1h-1.1zM189.5 76.5h1.1v1.1h-1.1zM190 84h1.1v1.1h-1.1zM190 90h1.1v1.1h-1.1zM190.5 80h1.1v1.1h-1.1zM190.5 86.5h1.1v1.1h-1.1zM191 83.5h1.1v1.1h-1.1zM191 85h1.1v1.1h-1.1zM191 86h1.1v1.1h-1.1zM191.5 74.5h1.1v1.1h-1.1zM191.5 77.5h1.1v1.1h-1.1zM191.5 80h1.1v1.1h-1.1zM191.5 80.5h1.1v1.1h-1.1zM191.5 81h1.1v1.1h-1.1zM191.5 83.5h1.1v1.1h-1.1zM192 71.5h1.1v1.1h-1.1zM192 90h1.1v1.1h-1.1zM192.5 84.5h1.1v1.1h-1.1zM192.5 88.5h1.1v1.1h-1.1zM193 70h1.1v1.1h-1.1zM193 77h1.1v1.1h-1.1zM193 78.5h1.1v1.1h-1.1zM193.5 73h1.1v1.1h-1.1zM193.5 80.5h1.1v1.1h-1.1zM193.5 81.5h1.1v1.1h-1.1zM194.5 74h1.1v1.1h-1.1zM194.5 75.5h1.1v1.1h-1.1zM194.5 84h1.1v1.1h-1.1zM195 74h1.1v1.1h-1.1zM195 76.5h1.1v1.1h-1.1zM195 80.5h1.1v1.1h-1.1zM195 81.5h1.1v1.1h-1.1zM196.5 70.5h1.1v1.1h-1.1zM196.5 77.5h1.1v1.1h-1.1zM197 73.5h1.1v1.1h-1.1zM197 76h1.1v1.1h-1.1zM197 80.5h1.1v1.1h-1.1zM197.5 72.5h1.1v1.1h-1.1zM197.5 76.5h1.1v1.1h-1.1zM198.5 74h1.1v1.1h-1.1zM199 75.5h1.1v1.1h-1.1zM199 76.5h1.1v1.1h-1.1zM199.5 73.5h1.1v1.1h-1.1zM200 74.5h1.1v1.1h-1.1zM200 75h1.1v1.1h-1.1z"/>
<path fill="#111" d="M145 107h1.1v1.1h-1.1zM145.5 102.5h1.1v1.1h-1.1zM146 118h1.1v1.1h-1.1zM147.5 104h1.1v1.1h-1.1zM147.5 105h1.1v1.1h-1.1zM147.5 108.5h1.1v1.1h-1.1zM147.5 112h1.1v1.1h-1.1zM148 103h1.1v1.1h-1.1zM148 108.5h1.1v1.1h-1.1zM148 114.5h1.1v1.1h-1.1zM148.5 104h1.1v1.1h-1.1zM148.5 112h1.1v1.1h-1.1zM148.5 116.5h1.1v1.1h-1.1zM149 95h1.1v1.1h-1.1zM149 107h1.1v1.1h-1.1zM149 107.5h1.1v1.1h-1.1zM149.5 98.5h1.1v1.1h-1.1zM149.5 99h1.1v1.1h-1.1zM149.5 101.5h1.1v1.1h-1.1zM149.5 106.5h1.1v1.1h-1.1zM149.5 108.5h1.1v1.1h-1.1zM149.5 109.5h1.1v1.1h-1.1zM149.5 115h1.1v1.1h-1.1zM150 98h1.1v1.1h-1.1zM150 106h1.1v1.1h-1.1zM150 110.5h1.1v1.1h-1.1zM150 115.5h1.1v1.1h-1.1zM150.5 96.5h1.1v1.1h-1.1zM150.5 103h1.1v1.1h-1.1zM150.5 105.5h1.1v1.1h-1.1zM150.5 106h1.1v1.1h-1.1zM150.5 108.5h1.1v1.1h-1.1zM150.5 111.5h1.1v1.1h-1.1zM151 106h1.1v1.1h-1.1zM151 107h1.1v1.1h-1.1zM151 112h1.1v1.1h-1.1zM151 112.5h1.1v1.1h-1.1zM151 122.5h1.1v1.1h-1.1zM151.5 109h1.1v1.1h-1.1zM151.5 111.5h1.1v1.1h-1.1zM151.5 112.5h1.1v1.1h-1.1zM151.5 113h1.1v1.1h-1.1zM151.5 116h1.1v1.1h-1.1zM151.5 119.5h1.1v1.1h-1.1zM152 92h1.1v1.1h-1.1zM152 101.5h1.1v1.1h-1.1zM152 103h1.1v1.1h-1.1zM152 105h1.1v1.1h-1.1zM152 106h1.1v1.1h-1.1zM152 109h1.1v1.1h-1.1zM152 110.5h1.1v1.1h-1.1zM152 111.5h1.1v1.1h-1.1zM152 116.5h1.1v1.1h-1.1zM152 119h1.1v1.1h-1.1zM152.5 97h1.1v1.1h-1.1zM152.5 100h1.1v1.1h-1.1zM152.5 101h1.1v1.1h-1.1zM152.5 102.5h1.1v1.1h-1.1zM152.5 120h1.1v1.1h-1.1zM153 98.5h1.1v1.1h-1.1zM153 100h1.1v1.1h-1.1zM153 103h1.1v1.1h-1.1zM153 108h1.1v1.1h-1.1zM153 109.5h1.1v1.1h-1.1zM153 111h1.1v1.1h-1.1zM153 111.5h1.1v1.1h-1.1zM153 114h1.1v1.1h-1.1zM153 118.5h1.1v1.1h-1.1zM153.5 104.5h1.1v1.1h-1.1zM153.5 105.5h1.1v1.1h-1.1zM153.5 107h1.1v1.1h-1.1zM153.5 114.5h1.1v1.1h-1.1zM153.5 118h1.1v1.1h-1.1zM154 100.5h1.1v1.1h-1.1zM154 102h1.1v1.1h-1.1zM154 105.5h1.1v1.1h-1.1zM154 107.5h1.1v1.1h-1.1zM154 108.5h1.1v1.1h-1.1zM154 110h1.1v1.1h-1.1zM154 112h1.1v1.1h-1.1zM154 113.5h1.1v1.1h-1.1zM154 114.5h1.1v1.1h-1.1zM154 117.5h1.1v1.1h-1.1zM154 119h1.1v1.1h-1.1zM154 123.5h1.1v1.1h-1.1zM154.5 100h1.1v1.1h-1.1zM154.5 102h1.1v1.1h-1.1zM154.5 105.5h1.1v1.1h-1.1zM154.5 106.5h1.1v1.1h-1.1zM154.5 109h1.1v1.1h-1.1zM154.5 110h1.1v1.1h-1.1zM154.5 113.5h1.1v1.1h-1.1zM154.5 115.5h1.1v1.1h-1.1zM154.5 116h1.1v1.1h-1.1zM154.5 118h1.1v1.1h-1.1zM154.5 119.5h1.1v1.1h-1.1zM155 106.5h1.1v1.1h-1.1zM155 107h1.1v1.1h-1.1zM155 107.5h1.1v1.1h-1.1zM155 110h1.1v1.1h-1.1zM155 113.5h1.1v1.1h-1.1zM155 117h1.1v1.1h-1.1zM155 121h1.1v1.1h-1.1zM155 123h1.1v1.1h-1.1zM155.5 96h1.1v1.1h-1.1zM155.5 99.5h1.1v1.1h-1.1zM155.5 101h1.1v1.1h-1.1zM155.5 102.5h1.1v1.1h-1.1zM155.5 108.5h1.1v1.1h-1.1zM155.5 109.5h1.1v1.1h-1.1zM155.5 110h1.1v1.1h-1.1zM155.5 111h1.1v1.1h-1.1zM155.5 114h1.1v1.1h-1.1zM155.5 115.5h1.1v1.1h-1.1zM155.5 120h1.1v1.1h-1.1zM155.5 124.5h1.1v1.1h-1.1zM156 94h1.1v1.1h-1.1zM156 99h1.1v1.1h-1.1zM156 103h1.1v1.1h-1.1zM156 105h1.1v1.1h-1.1zM156 107.5h1.1v1.1h-1.1zM156 108.5h1.1v1.1h-1.1zM156 109.5h1.1v1.1h-1.1zM156 110h1.1v1.1h-1.1zM156 110.5h1.1v1.1h-1.1zM156 111h1.1v1.1h-1.1zM156 113h1.1v1.1h-1.1zM156 114h1.1v1.1h-1.1zM156 114.5h1.1v1.1h-1.1zM156 115.5h1.1v1.1h-1.1zM156 116.5h1.1v1.1h-1.1zM156.5 91.5h1.1v1.1h-1.1zM156.5 93h1.1v1.1h-1.1zM156.5 101.5h1.1v1.1h-1.1zM156.5 102h1.1v1.1h-1.1zM156.5 104.5h1.1v1.1h-1.1zM156.5 105h1.1v1.1h-1.1zM156.5 109h1.1v1.1h-1.1zM156.5 110h1.1v1.1h-1.1zM156.5 111h1.1v1.1h-1.1zM156.5 113h1.1v1.1h-1.1zM156.5 114h1.1v1.1h-1.1zM156.5 117.5h1.1v1.1h-1.1zM156.5 118h1.1v1.1h-1.1zM156.5 118.5h1.1v1.1h-1.1zM156.5 123h1.1v1.1h-1.1zM156.5 125h1.1v1.1h-1.1zM157 94h1.1v1.1h-1.1zM157 102.5h1.1v1.1h-1.1zM157 105h1.1v1.1h-1.1zM157 106.5h1.1v1.1h-1.1zM157 108.5h1.1v1.1h-1.1zM157 110h1.1v1.1h-1.1zM157 111.5h1.1v1.1h-1.1zM157 114h1.1v1.1h-1.1zM157 116h1.1v1.1h-1.1zM157 117h1.1v1.1h-1.1zM157 118h1.1v1.1h-1.1zM157.5 97.5h1.1v1.1h-1.1zM157.5 99.5h1.1v1.1h-1.1zM157.5 100.5h1.1v1.1h-1.1zM157.5 101.5h1.1v1.1h-1.1zM157.5 102.5h1.1v1.1h-1.1zM157.5 104h1.1v1.1h-1.1zM157.5 107.5h1.1v1.1h-1.1zM157.5 108h1.1v1.1h-1.1zM157.5 109.5h1.1v1.1h-1.1zM157.5 110.5h1.1v1.1h-1.1zM157.5 111.5h1.1v1.1h-1.1zM157.5 112h1.1v1.1h-1.1zM157.5 113h1.1v1.1h-1.1zM157.5 115h1.1v1.1h-1.1zM157.5 117h1.1v1.1h-1.1zM157.5 126.5h1.1v1.1h-1.1zM158 95.5h1.1v1.1h-1.1zM158 96.5h1.1v1.1h-1.1zM158 99.5h1.1v1.1h-1.1zM158 102h1.1v1.1h-1.1zM158 103.5h1.1v1.1h-1.1zM158 104h1.1v1.1h-1.1zM158 104.5h1.1v1.1h-1.1zM158 105h1.1v1.1h-1.1zM158 105.5h1.1v1.1h-1.1zM158 106h1.1v1.1h-1.1zM158 106.5h1.1v1.1h-1.1zM158 108.5h1.1v1.1h-1.1zM158 109h1.1v1.1h-1.1zM158 111.5h1.1v1.1h-1.1zM158 112h1.1v1.1h-1.1zM158 113h1.1v1.1h-1.1zM158 117.5h1.1v1.1h-1.1zM158 118.5h1.1v1.1h-1.1zM158 120.5h1.1v1.1h-1.1zM158 124.5h1.1v1.1h-1.1zM158 125h1.1v1.1h-1.1zM158.5 97h1.1v1.1h-1.1zM158.5 101h1.1v1.1h-1.1zM158.5 103.5h1.1v1.1h-1.1zM158.5 104h1.1v1.1h-1.1zM158.5 104.5h1.1v1.1h-1.1zM158.5 107.5h1.1v1.1h-1.1zM158.5 109.5h1.1v1.1h-1.1zM158.5 110h1.1v1.1h-1.1zM158.5 111h1.1v1.1h-1.1zM158.5 112.5h1.1v1.1h-1.1zM158.5 113h1.1v1.1h-1.1zM158.5 115.5h1.1v1.1h-1.1zM158.5 117h1.1v1.1h-1.1zM158.5 117.5h1.1v1.1h-1.1zM159 87.5h1.1v1.1h-1.1zM159 99h1.1v1.1h-1.1zM159 101h1.1v1.1h-1.1zM159 102.5h1.1v1.1h-1.1zM159 107h1.1v1.1h-1.1zM159 108.5h1.1v1.1h-1.1zM159 109h1.1v1.1h-1.1zM159 109.5h1.1v1.1h-1.1zM159 111.5h1.1v1.1h-1.1zM159 114.5h1.1v1.1h-1.1zM159 116.5h1.1v1.1h-1.1zM159 117h1.1v1.1h-1.1zM159 117.5h1.1v1.1h-1.1zM159 121.5h1.1v1.1h-1.1zM159 122h1.1v1.1h-1.1zM159 123.5h1.1v1.1h-1.1zM159.5 94.5h1.1v1.1h-1.1zM159.5 97.5h1.1v1.1h-1.1zM159.5 100h1.1v1.1h-1.1zM159.5 101h1.1v1.1h-1.1zM159.5 101.5h1.1v1.1h-1.1zM159.5 105.5h1.1v1.1h-1.1zM159.5 108.5h1.1v1.1h-1.1zM159.5 109.5h1.1v1.1h-1.1zM159.5 110.5h1.1v1.1h-1.1zM159.5 111h1.1v1.1h-1.1zM159.5 111.5h1.1v1.1h-1.1zM159.5 113h1.1v1.1h-1.1zM159.5 117.5h1.1v1.1h-1.1zM159.5 118h1.1v1.1h-1.1zM159.5 120h1.1v1.1h-1.1zM159.5 122h1.1v1.1h-1.1zM160 95h1.1v1.1h-1.1zM160 97h1.1v1.1h-1.1zM160 99h1.1v1.1h-1.1zM160 100.5h1.1v1.1h-1.1zM160 102h1.1v1.1h-1.1zM160 103h1.1v1.1h-1.1zM160 103.5h1.1v1.1h-1.1zM160 104.5h1.1v1.1h-1.1zM160 105.5h1.1v1.1h-1.1zM160 106h1.1v1.1h-1.1zM160 106.5h1.1v1.1h-1.1zM160 107h1.1v1.1h-1.1zM160 110.5h1.1v1.1h-1.1zM160 111h1.1v1.1h-1.1zM160 111.5h1.1v1.1h-1.1zM160 112.5h1.1v1.1h-1.1zM160 113h1.1v1.1h-1.1zM160 113.5h1.1v1.1h-1.1zM160 115h1.1v1.1h-1.1zM160 123h1.1v1.1h-1.1zM160.5 99h1.1v1.1h-1.1zM160.5 99.5h1.1v1.1h-1.1zM160.5 100.5h1.1v1.1h-1.1zM160.5 101h1.1v1.1h-1.1zM160.5 104h1.1v1.1h-1.1zM160.5 104.5h1.1v1.1h-1.1zM160.5 105h1.1v1.1h-1.1zM160.5 106.5h1.1v1.1h-1.1zM160.5 109h1.1v1.1h-1.1zM160.5 109.5h1.1v1.1h-1.1zM160.5 112.5h1.1v1.1h-1.1zM160.5 114.5h1.1v1.1h-1.1zM160.5 117h1.1v1.1h-1.1zM160.5 118h1.1v1.1h-1.1zM160.5 118.5h1.1v1.1h-1.1zM160.5 119h1.1v1.1h-1.1zM160.5 120.5h1.1v1.1h-1.1zM161 95.5h1.1v1.1h-1.1zM161 97h1.1v1.1h-1.1zM161 100.5h1.1v1.1h-1.1zM161 101h1.1v1.1h-1.1zM161 105h1.1v1.1h-1.1zM161 105.5h1.1v1.1h-1.1zM161 106.5h1.1v1.1h-1.1zM161 107.5h1.1v1.1h-1.1zM161 109h1.1v1.1h-1.1zM161 109.5h1.1v1.1h-1.1zM161 110.5h1.1v1.1h-1.1zM161 111h1.1v1.1h-1.1zM161 111.5h1.1v1.1h-1.1zM161 113h1.1v1.1h-1.1zM161 113.5h1.1v1.1h-1.1zM161 114h1.1v1.1h-1.1zM161 116h1.1v1.1h-1.1zM161 117.5h1.1v1.1h-1.1zM161 122h1.1v1.1h-1.1zM161.5 96.5h1.1v1.1h-1.1zM161.5 98h1.1v1.1h-1.1zM161.5 100.5h1.1v1.1h-1.1zM161.5 101.5h1.1v1.1h-1.1zM161.5 102h1.1v1.1h-1.1zM161.5 103.5h1.1v1.1h-1.1zM161.5 105h1.1v1.1h-1.1zM161.5 105.5h1.1v1.1h-1.1zM161.5 106.5h1.1v1.1h-1.1zM161.5 107h1.1v1.1h-1.1zM161.5 110h1.1v1.1h-1.1zM161.5 111h1.1v1.1h-1.1zM161.5 111.5h1.1v1.1h-1.1zM161.5 113h1.1v1.1h-1.1zM161.5 115.5h1.1v1.1h-1.1zM161.5 116h1.1v1.1h-1.1zM161.5 116.5h1.1v1.1h-1.1zM161.5 118.5h1.1v1.1h-1.1zM161.5 123.5h1.1v1.1h-1.1zM161.5 124h1.1v1.1h-1.1zM162 91h1.1v1.1h-1.1zM162 95h1.1v1.1h-1.1zM162 96.5h1.1v1.1h-1.1zM162 97.5h1.1v1.1h-1.1zM162 99h1.1v1.1h-1.1zM162 100h1.1v1.1h-1.1zM162 103.5h1.1v1.1h-1.1zM162 104h1.1v1.1h-1.1zM162 104.5h1.1v1.1h-1.1zM162 105h1.1v1.1h-1.1zM162 106h1.1v1.1h-1.1zM162 106.5h1.1v1.1h-1.1zM162 109h1.1v1.1h-1.1zM162 110.5h1.1v1.1h-1.1zM162 111h1.1v1.1h-1.1zM162 111.5h1.1v1.1h-1.1zM162 112h1.1v1.1h-1.1zM162 113h1.1v1.1h-1.1zM162 113.5h1.1v1.1h-1.1zM162 114h1.1v1.1h-1.1zM162 114.5h1.1v1.1h-1.1zM162 115.5h1.1v1.1h-1.1zM162 117h1.1v1.1h-1.1zM162.5 89h1.1v1.1h-1.1zM162.5 93h1.1v1.1h-1.1zM162.5 93.5h1.1v1.1h-1.1zM162.5 98h1.1v1.1h-1.1zM162.5 100.5h1.1v1.1h-1.1zM162.5 102.5h1.1v1.1h-1.1zM162.5 103h1.1v1.1h-1.1zM162.5 104.5h1.1v1.1h-1.1zM162.5 105h1.1v1.1h-1.1zM162.5 106.5h1.1v1.1h-1.1zM162.5 107h1.1v1.1h-1.1zM162.5 108h1.1v1.1h-1.1zM162.5 108.5h1.1v1.1h-1.1zM162.5 109h1.1v1.1h-1.1zM162.5 109.5h1.1v1.1h-1.1zM162.5 110h1.1v1.1h-1.1zM162.5 110.5h1.1v1.1h-1.1zM162.5 111h1.1v1.1h-1.1zM162.5 112h1.1v1.1h-1.1zM162.5 117h1.1v1.1h-1.1zM162.5 119h1.1v1.1h-1.1zM162.5 122.5h1.1v1.1h-1.1zM163 96h1.1v1.1h-1.1zM163 98h1.1v1.1h-1.1zM163 98.5h1.1v1.1h-1.1zM163 99.5h1.1v1.1h-1.1zM163 101h1.1v1.1h-1.1zM163 103h1.1v1.1h-1.1zM163 106h1.1v1.1h-1.1zM163 108.5h1.1v1.1h-1.1zM163 110h1.1v1.1h-1.1zM163 113h1.1v1.1h-1.1zM163 117h1.1v1.1h-1.1zM163 124.5h1.1v1.1h-1.1zM163 125.5h1.1v1.1h-1.1zM163.5 91h1.1v1.1h-1.1zM163.5 92h1.1v1.1h-1.1zM163.5 96.5h1.1v1.1h-1.1zM163.5 99h1.1v1.1h-1.1zM163.5 101.5h1.1v1.1h-1.1zM163.5 102h1.1v1.1h-1.1zM163.5 104h1.1v1.1h-1.1zM163.5 104.5h1.1v1.1h-1.1zM163.5 108h1.1v1.1h-1.1zM163.5 110h1.1v1.1h-1.1zM163.5 111h1.1v1.1h-1.1zM163.5 112.5h1.1v1.1h-1.1zM163.5 113h1.1v1.1h-1.1zM163.5 119.5h1.1v1.1h-1.1zM163.5 120.5h1.1v1.1h-1.1zM164 92h1.1v1.1h-1.1zM164 95.5h1.1v1.1h-1.1zM164 101.5h1.1v1.1h-1.1zM164 103h1.1v1.1h-1.1zM164 105.5h1.1v1.1h-1.1zM164 106h1.1v1.1h-1.1zM164 106.5h1.1v1.1h-1.1zM164 109h1.1v1.1h-1.1zM164 109.5h1.1v1.1h-1.1zM164 110.5h1.1v1.1h-1.1zM164 111h1.1v1.1h-1.1zM164 111.5h1.1v1.1h-1.1zM164 112.5h1.1v1.1h-1.1zM164 116h1.1v1.1h-1.1zM164 120.5h1.1v1.1h-1.1zM164 126h1.1v1.1h-1.1zM164.5 98.5h1.1v1.1h-1.1zM164.5 99h1.1v1.1h-1.1zM164.5 99.5h1.1v1.1h-1.1zM164.5 100.5h1.1v1.1h-1.1zM164.5 103h1.1v1.1h-1.1zM164.5 104h1.1v1.1h-1.1zM164.5 106h1.1v1.1h-1.1zM164.5 106.5h1.1v1.1h-1.1zM164.5 108h1.1v1.1h-1.1zM164.5 109h1.1v1.1h-1.1zM164.5 109.5h1.1v1.1h-1.1zM164.5 110h1.1v1.1h-1.1zM164.5 114.5h1.1v1.1h-1.1zM164.5 116.5h1.1v1.1h-1.1zM164.5 120.5h1.1v1.1h-1.1zM165 94.5h1.1v1.1h-1.1zM165 97.5h1.1v1.1h-1.1zM165 99h1.1v1.1h-1.1zM165 101h1.1v1.1h-1.1zM165 102h1.1v1.1h-1.1zM165 102.5h1.1v1.1h-1.1zM165 103.5h1.1v1.1h-1.1zM165 105.5h1.1v1.1h-1.1zM165 106h1.1v1.1h-1.1zM165 108h1.1v1.1h-1.1zM165 110.5h1.1v1.1h-1.1zM165 111h1.1v1.1h-1.1zM165 112h1.1v1.1h-1.1zM165 114h1.1v1.1h-1.1zM165 118h1.1v1.1h-1.1zM165 120h1.1v1.1h-1.1zM165 121h1.1v1.1h-1.1zM165.5 90.5h1.1v1.1h-1.1zM165.5 97.5h1.1v1.1h-1.1zM165.5 98h1.1v1.1h-1.1zM165.5 100.5h1.1v1.1h-1.1zM165.5 101h1.1v1.1h-1.1zM165.5 102.5h1.1v1.1h-1.1zM165.5 106.5h1.1v1.1h-1.1zM165.5 107h1.1v1.1h-1.1zM165.5 109h1.1v1.1h-1.1zM165.5 110h1.1v1.1h-1.1zM165.5 110.5h1.1v1.1h-1.1zM165.5 111h1.1v1.1h-1.1zM165.5 112.5h1.1v1.1h-1.1zM165.5 117.5h1.1v1.1h-1.1zM165.5 121h1.1v1.1h-1.1zM166 88h1.1v1.1h-1.1zM166 92h1.1v1.1h-1.1zM166 97h1.1v1.1h-1.1zM166 97.5h1.1v1.1h-1.1zM166 98h1.1v1.1h-1.1zM166 98.5h1.1v1.1h-1.1zM166 99h1.1v1.1h-1.1zM166 99.5h1.1v1.1h-1.1zM166 101.5h1.1v1.1h-1.1zM166 102h1.1v1.1h-1.1zM166 102.5h1.1v1.1h-1.1zM166 104h1.1v1.1h-1.1zM166 105h1.1v1.1h-1.1zM166 105.5h1.1v1.1h-1.1zM166 107.5h1.1v1.1h-1.1zM166 108h1.1v1.1h-1.1zM166 110h1.1v1.1h-1.1zM166 111h1.1v1.1h-1.1zM166 111.5h1.1v1.1h-1.1zM166 113.5h1.1v1.1h-1.1zM166 115.5h1.1v1.1h-1.1zM166 119h1.1v1.1h-1.1zM166 119.5h1.1v1.1h-1.1zM166 122.5h1.1v1.1h-1.1zM166.5 92.5h1.1v1.1h-1.1zM166.5 94h1.1v1.1h-1.1zM166.5 99.5h1.1v1.1h-1.1zM166.5 103h1.1v1.1h-1.1zM166.5 103.5h1.1v1.1h-1.1zM166.5 106.5h1.1v1.1h-1.1zM166.5 107h1.1v1.1h-1.1zM166.5 107.5h1.1v1.1h-1.1zM166.5 108h1.1v1.1h-1.1zM166.5 110h1.1v1.1h-1.1zM166.5 110.5h1.1v1.1h-1.1zM166.5 112h1.1v1.1h-1.1zM166.5 112.5h1.1v1.1h-1.1zM166.5 114.5h1.1v1.1h-1.1zM166.5 116.5h1.1v1.1h-1.1zM167 94h1.1v1.1h-1.1zM167 95.5h1.1v1.1h-1.1zM167 96h1.1v1.1h-1.1zM167 98.5h1.1v1.1h-1.1zM167 99h1.1v1.1h-1.1zM167 101h1.1v1.1h-1.1zM167 105h1.1v1.1h-1.1zM167 105.5h1.1v1.1h-1.1zM167 106h1.1v1.1h-1.1zM167 106.5h1.1v1.1h-1.1zM167 107h1.1v1.1h-1.1zM167 111.5h1.1v1.1h-1.1zM167 112h1.1v1.1h-1.1zM167 112.5h1.1v1.1h-1.1zM167 113h1.1v1.1h-1.1zM167 113.5h1.1v1.1h-1.1zM167 114h1.1v1.1h-1.1zM167 114.5h1.1v1.1h-1.1zM167 120h1.1v1.1h-1.1zM167.5 95.5h1.1v1.1h-1.1zM167.5 99h1.1v1.1h-1.1zM167.5 101h1.1v1.1h-1.1zM167.5 104.5h1.1v1.1h-1.1zM167.5 106.5h1.1v1.1h-1.1zM167.5 108.5h1.1v1.1h-1.1zM167.5 109h1.1v1.1h-1.1zM167.5 112h1.1v1.1h-1.1zM167.5 112.5h1.1v1.1h-1.1zM167.5 114h1.1v1.1h-1.1zM167.5 125h1.1v1.1h-1.1zM168 97.5h1.1v1.1h-1.1zM168 98h1.1v1.1h-1.1zM168 98.5h1.1v1.1h-1.1zM168 99.5h1.1v1.1h-1.1zM168 102.5h1.1v1.1h-1.1zM168 104h1.1v1.1h-1.1zM168 105h1.1v1.1h-1.1zM168 105.5h1.1v1.1h-1.1zM168 106.5h1.1v1.1h-1.1zM168 107.5h1.1v1.1h-1.1zM168 108.5h1.1v1.1h-1.1zM168 111.5h1.1v1.1h-1.1zM168 113h1.1v1.1h-1.1zM168 113.5h1.1v1.1h-1.1zM168 115h1.1v1.1h-1.1zM168 115.5h1.1v1.1h-1.1zM168 116h1.1v1.1h-1.1zM168.5 98.5h1.1v1.1h-1.1zM168.5 99h1.1v1.1h-1.1zM168.5 100.5h1.1v1.1h-1.1zM168.5 101.5h1.1v1.1h-1.1zM168.5 102h1.1v1.1h-1.1zM168.5 103h1.1v1.1h-1.1zM168.5 103.5h1.1v1.1h-1.1zM168.5 104.5h1.1v1.1h-1.1zM168.5 108.5h1.1v1.1h-1.1zM168.5 109h1.1v1.1h-1.1zM168.5 109.5h1.1v1.1h-1.1zM168.5 112h1.1v1.1h-1.1zM168.5 113h1.1v1.1h-1.1zM168.5 114h1.1v1.1h-1.1zM168.5 115.5h1.1v1.1h-1.1zM168.5 116h1.1v1.1h-1.1zM168.5 117h1.1v1.1h-1.1zM168.5 118.5h1.1v1.1h-1.1zM169 94h1.1v1.1h-1.1zM169 96.5h1.1v1.1h-1.1zM169 100.5h1.1v1.1h-1.1zM169 103.5h1.1v1.1h-1.1zM169 104.5h1.1v1.1h-1.1zM169 105.5h1.1v1.1h-1.1zM169 106h1.1v1.1h-1.1zM169 108h1.1v1.1h-1.1zM169 109h1.1v1.1h-1.1zM169 115.5h1.1v1.1h-1.1zM169 119h1.1v1.1h-1.1zM169 122h1.1v1.1h-1.1zM169 123h1.1v1.1h-1.1zM169.5 92h1.1v1.1h-1.1zM169.5 104.5h1.1v1.1h-1.1zM169.5 107.5h1.1v1.1h-1.1zM169.5 108h1.1v1.1h-1.1zM169.5 109.5h1.1v1.1h-1.1zM169.5 111h1.1v1.1h-1.1zM169.5 115h1.1v1.1h-1.1zM169.5 118h1.1v1.1h-1.1zM170 92.5h1.1v1.1h-1.1zM170 103.5h1.1v1.1h-1.1zM170 105h1.1v1.1h-1.1zM170 106h1.1v1.1h-1.1zM170 107h1.1v1.1h-1.1zM170 108h1.1v1.1h-1.1zM170 113h1.1v1.1h-1.1zM170 114.5h1.1v1.1h-1.1zM170 116h1.1v1.1h-1.1zM170 117h1.1v1.1h-1.1zM170 120h1.1v1.1h-1.1zM170.5 97.5h1.1v1.1h-1.1zM170.5 99.5h1.1v1.1h-1.1zM170.5 108.5h1.1v1.1h-1.1zM170.5 109.5h1.1v1.1h-1.1zM170.5 111h1.1v1.1h-1.1zM170.5 113.5h1.1v1.1h-1.1zM170.5 120h1.1v1.1h-1.1zM171 95.5h1.1v1.1h-1.1zM171 114h1.1v1.1h-1.1zM171.5 104.5h1.1v1.1h-1.1zM171.5 105.5h1.1v1.1h-1.1zM171.5 111h1.1v1.1h-1.1zM171.5 111.5h1.1v1.1h-1.1zM171.5 113.5h1.1v1.1h-1.1zM171.5 114h1.1v1.1h-1.1zM171.5 115h1.1v1.1h-1.1zM171.5 116h1.1v1.1h-1.1zM171.5 116.5h1.1v1.1h-1.1zM171.5 121h1.1v1.1h-1.1zM172 99.5h1.1v1.1h-1.1zM172 104h1.1v1.1h-1.1zM172 104.5h1.1v1.1h-1.1zM172 105.5h1.1v1.1h-1.1zM172 106h1.1v1.1h-1.1zM172 107h1.1v1.1h-1.1zM172 109.5h1.1v1.1h-1.1zM172 110.5h1.1v1.1h-1.1zM172 114h1.1v1.1h-1.1zM172.5 92.5h1.1v1.1h-1.1zM172.5 102h1.1v1.1h-1.1zM172.5 104.5h1.1v1.1h-1.1zM172.5 105h1.1v1.1h-1.1zM172.5 106.5h1.1v1.1h-1.1zM172.5 114.5h1.1v1.1h-1.1zM172.5 115.5h1.1v1.1h-1.1zM172.5 122h1.1v1.1h-1.1zM173 99.5h1.1v1.1h-1.1zM173 100.5h1.1v1.1h-1.1zM173 102h1.1v1.1h-1.1zM173 107.5h1.1v1.1h-1.1zM173 109h1.1v1.1h-1.1zM173 120.5h1.1v1.1h-1.1zM173.5 96h1.1v1.1h-1.1zM173.5 99.5h1.1v1.1h-1.1zM173.5 104.5h1.1v1.1h-1.1zM173.5 106.5h1.1v1.1h-1.1zM173.5 109.5h1.1v1.1h-1.1zM173.5 117h1.1v1.1h-1.1zM174 96h1.1v1.1h-1.1zM174 97h1.1v1.1h-1.1zM174 99h1.1v1.1h-1.1zM174 99.5h1.1v1.1h-1.1zM174 100.5h1.1v1.1h-1.1zM174 113.5h1.1v1.1h-1.1zM174 114h1.1v1.1h-1.1zM174.5 99h1.1v1.1h-1.1zM174.5 104h1.1v1.1h-1.1zM174.5 108h1.1v1.1h-1.1zM174.5 111.5h1.1v1.1h-1.1zM174.5 113h1.1v1.1h-1.1zM174.5 115h1.1v1.1h-1.1zM174.5 116.5h1.1v1.1h-1.1zM174.5 118.5h1.1v1.1h-1.1zM175 100h1.1v1.1h-1.1zM175 105h1.1v1.1h-1.1zM175 115h1.1v1.1h-1.1zM175.5 99.5h1.1v1.1h-1.1zM175.5 112h1.1v1.1h-1.1zM175.5 113.5h1.1v1.1h-1.1zM176 120h1.1v1.1h-1.1zM176.5 93h1.1v1.1h-1.1zM176.5 103.5h1.1v1.1h-1.1zM176.5 109.5h1.1v1.1h-1.1zM176.5 111.5h1.1v1.1h-1.1zM177 110h1.1v1.1h-1.1zM177 112h1.1v1.1h-1.1zM177.5 103.5h1.1v1.1h-1.1zM178 116.5h1.1v1.1h-1.1zM178 120h1.1v1.1h-1.1zM178.5 102.5h1.1v1.1h-1.1zM178.5 110.5h1.1v1.1h-1.1zM179.5 99.5h1.1v1.1h-1.1zM180 106.5h1.1v1.1h-1.1zM180.5 105.5h1.1v1.1h-1.1zM182 113.5h1.1v1.1h-1.1zM182.5 109.5h1.1v1.1h-1.1z"/>
<path fill="#666" d="M270 58.5h1.1v1.1h-1.1zM270 65.5h1.1v1.1h-1.1zM275 62h1.1v1.1h-1.1zM275.5 66h1.1v1.1h-1.1zM278.5 62.5h1.1v1.1h-1.1zM280.5 62.5h1.1v1.1h-1.1zM282 61.5h1.1v1.1h-1.1zM282.5 60.5h1.1v1.1h-1.1zM314.5 113.5h1.1v1.1h-1.1z"/>
<path fill="#333" d="M258 98h1.1v1.1h-1.1zM260.5 112h1.1v1.1h-1.1zM261 100h1.1v1.1h-1.1zM262 103h1.1v1.1h-1.1zM263.5 107h1.1v1.1h-1.1zM263.5 110h1.1v1.1h-1.1zM264 96h1.1v1.1h-1.1zM265.5 116h1.1v1.1h-1.1zM266 101h1.1v1.1h-1.1zM266 102h1.1v1.1h-1.1zM266 104h1.1v1.1h-1.1zM266.5 98.5h1.1v1.1h-1.1zM266.5 102.5h1.1v1.1h-1.1zM267 94.5h1.1v1.1h-1.1zM267 110.5h1.1v1.1h-1.1zM267.5 101h1.1v1.1h-1.1zM268 102.5h1.1v1.1h-1.1zM268 105h1.1v1.1h-1.1zM268 114h1.1v1.1h-1.1zM268.5 116h1.1v1.1h-1.1zM269 87.5h1.1v1.1h-1.1zM269.5 98h1.1v1.1h-1.1zM270 89h1.1v1.1h-1.1zM270 89.5h1.1v1.1h-1.1zM270 97h1.1v1.1h-1.1zM270 106h1.1v1.1h-1.1zM270 109h1.1v1.1h-1.1zM270.5 91h1.1v1.1h-1.1zM270.5 105h1.1v1.1h-1.1zM271 98h1.1v1.1h-1.1zM271 100h1.1v1.1h-1.1zM271 102.5h1.1v1.1h-1.1zM271 105.5h1.1v1.1h-1.1zM271.5 85h1.1v1.1h-1.1zM271.5 103.5h1.1v1.1h-1.1zM272 91.5h1.1v1.1h-1.1zM272 93.5h1.1v1.1h-1.1zM272 94h1.1v1.1h-1.1zM272 103h1.1v1.1h-1.1zM272 110h1.1v1.1h-1.1zM272 112h1.1v1.1h-1.1zM272.5 95h1.1v1.1h-1.1zM272.5 98h1.1v1.1h-1.1zM272.5 100h1.1v1.1h-1.1zM272.5 101h1.1v1.1h-1.1zM272.5 102h1.1v1.1h-1.1zM272.5 103h1.1v1.1h-1.1zM272.5 105.5h1.1v1.1h-1.1zM272.5 110h1.1v1.1h-1.1zM273 99.5h1.1v1.1h-1.1zM273 103h1.1v1.1h-1.1zM273 114h1.1v1.1h-1.1zM273.5 107h1.1v1.1h-1.1zM274 104.5h1.1v1.1h-1.1zM274 107h1.1v1.1h-1.1zM274.5 96.5h1.1v1.1h-1.1zM274.5 97.5h1.1v1.1h-1.1zM274.5 99h1.1v1.1h-1.1zM274.5 102h1.1v1.1h-1.1zM274.5 102.5h1.1v1.1h-1.1zM274.5 111.5h1.1v1.1h-1.1zM275 105h1.1v1.1h-1.1zM275.5 98.5h1.1v1.1h-1.1zM275.5 100h1.1v1.1h-1.1zM275.5 104h1.1v1.1h-1.1zM275.5 105.5h1.1v1.1h-1.1zM275.5 106h1.1v1.1h-1.1zM275.5 106.5h1.1v1.1h-1.1zM275.5 108h1.1v1.1h-1.1zM275.5 109.5h1.1v1.1h-1.1zM275.5 112h1.1v1.1h-1.1zM276 108h1.1v1.1h-1.1zM276 111h1.1v1.1h-1.1zM276.5 104h1.1v1.1h-1.1zM276.5 105h1.1v1.1h-1.1zM277 96h1.1v1.1h-1.1zM277 101.5h1.1v1.1h-1.1zM277 103.5h1.1v1.1h-1.1zM277 106.5h1.1v1.1h-1.1zM277.5 91h1.1v1.1h-1.1zM277.5 98h1.1v1.1h-1.1zM277.5 101h1.1v1.1h-1.1zM278 97h1.1v1.1h-1.1zM278 105.5h1.1v1.1h-1.1zM278 112.5h1.1v1.1h-1.1zM278.5 95.5h1.1v1.1h-1.1zM278.5 100h1.1v1.1h-1.1zM278.5 101h1.1v1.1h-1.1zM278.5 106h1.1v1.1h-1.1zM279 88h1.1v1.1h-1.1zM279 94h1.1v1.1h-1.1zM279 96.5h1.1v1.1h-1.1zM279 102.5h1.1v1.1h-1.1zM279 104h1.1v1.1h-1.1zM279 106h1.1v1.1h-1.1zM279 109h1.1v1.1h-1.1zM279.5 88.5h1.1v1.1h-1.1zM279.5 91.5h1.1v1.1h-1.1zM279.5 96h1.1v1.1h-1.1zM279.5 96.5h1.1v1.1h-1.1zM279.5 101h1.1v1.1h-1.1zM279.5 101.5h1.1v1.1h-1.1zM280 110h1.1v1.1h-1.1zM280.5 94.5h1.1v1.1h-1.1zM280.5 97h1.1v1.1h-1.1zM280.5 100.5h1.1v1.1h-1.1zM280.5 101h1.1v1.1h-1.1zM280.5 113h1.1v1.1h-1.1zM281 92.5h1.1v1.1h-1.1zM281 96.5h1.1v1.1h-1.1zM281 100.5h1.1v1.1h-1.1zM281.5 94h1.1v1.1h-1.1zM281.5 105.5h1.1v1.1h-1.1zM281.5 108.5h1.1v1.1h-1.1zM281.5 112h1.1v1.1h-1.1zM282 93h1.1v1.1h-1.1zM282 97h1.1v1.1h-1.1zM282 105.5h1.1v1.1h-1.1zM282.5 93h1.1v1.1h-1.1zM282.5 96h1.1v1.1h-1.1zM282.5 100h1.1v1.1h-1.1zM282.5 100.5h1.1v1.1h-1.1zM282.5 110h1.1v1.1h-1.1zM283 100h1.1v1.1h-1.1zM283 106.5h1.1v1.1h-1.1zM283.5 98h1.1v1.1h-1.1zM284 86h1.1v1.1h-1.1zM284 89h1.1v1.1h-1.1zM284.5 98h1.1v1.1h-1.1zM285 94.5h1.1v1.1h-1.1zM285 95h1.1v1.1h-1.1zM285 97h1.1v1.1h-1.1zM285 100.5h1.1v1.1h-1.1zM285.5 95h1.1v1.1h-1.1zM285.5 97.5h1.1v1.1h-1.1zM286.5 101.5h1.1v1.1h-1.1zM286.5 103h1.1v1.1h-1.1zM288 95h1.1v1.1h-1.1zM288 97h1.1v1.1h-1.1zM288.5 101h1.1v1.1h-1.1zM291.5 94.5h1.1v1.1h-1.1zM292 95.5h1.1v1.1h-1.1zM293 87h1.1v1.1h-1.1z"/>
<path fill="#222" d="M253.5 100h1.1v1.1h-1.1zM254 99h1.1v1.1h-1.1zM255 104h1.1v1.1h-1.1zM255.5 97.5h1.1v1.1h-1.1zM255.5 102h1.1v1.1h-1.1zM257.5 106.5h1.1v1.1h-1.1zM257.5 107h1.1v1.1h-1.1zM257.5 107.5h1.1v1.1h-1.1zM259.5 103h1.1v1.1h-1.1zM260 91h1.1v1.1h-1.1zM260 95h1.1v1.1h-1.1zM260.5 108h1.1v1.1h-1.1zM260.5 108.5h1.1v1.1h-1.1zM261 93h1.1v1.1h-1.1zM261 102.5h1.1v1.1h-1.1zM261.5 106h1.1v1.1h-1.1zM262 104h1.1v1.1h-1.1zM262 104.5h1.1v1.1h-1.1zM262 105h1.1v1.1h-1.1zM262.5 91h1.1v1.1h-1.1zM262.5 104.5h1.1v1.1h-1.1zM262.5 109.5h1.1v1.1h-1.1zM263 104h1.1v1.1h-1.1zM263 105.5h1.1v1.1h-1.1zM263 107h1.1v1.1h-1.1zM263 107.5h1.1v1.1h-1.1zM263.5 95.5h1.1v1.1h-1.1zM263.5 100h1.1v1.1h-1.1zM264.5 87h1.1v1.1h-1.1zM264.5 104.5h1.1v1.1h-1.1zM265 101h1.1v1.1h-1.1zM265 103h1.1v1.1h-1.1zM265.5 95h1.1v1.1h-1.1zM265.5 100.5h1.1v1.1h-1.1zM265.5 102h1.1v1.1h-1.1zM265.5 104.5h1.1v1.1h-1.1zM265.5 114.5h1.1v1.1h-1.1zM266 93h1.1v1.1h-1.1zM266 115h1.1v1.1h-1.1zM266.5 93h1.1v1.1h-1.1zM266.5 98h1.1v1.1h-1.1zM266.5 103.5h1.1v1.1h-1.1zM266.5 108.5h1.1v1.1h-1.1zM266.5 110h1.1v1.1h-1.1zM266.5 112h1.1v1.1h-1.1zM267 97.5h1.1v1.1h-1.1zM267 104.5h1.1v1.1h-1.1zM267 109h1.1v1.1h-1.1zM267 112h1.1v1.1h-1.1zM267.5 105.5h1.1v1.1h-1.1zM267.5 108.5h1.1v1.1h-1.1zM268 93h1.1v1.1h-1.1zM268 107h1.1v1.1h-1.1zM268 111.5h1.1v1.1h-1.1zM268 112h1.1v1.1h-1.1zM268.5 104.5h1.1v1.1h-1.1zM268.5 113h1.1v1.1h-1.1zM268.5 118.5h1.1v1.1h-1.1zM269 90h1.1v1.1h-1.1zM269 101.5h1.1v1.1h-1.1zM269 103h1.1v1.1h-1.1zM269 106h1.1v1.1h-1.1zM269 107h1.1v1.1h-1.1zM269 112.5h1.1v1.1h-1.1zM269.5 94.5h1.1v1.1h-1.1zM270 84.5h1.1v1.1h-1.1zM270 109h1.1v1.1h-1.1zM270 110.5h1.1v1.1h-1.1zM270.5 101h1.1v1.1h-1.1zM270.5 103h1.1v1.1h-1.1zM270.5 106h1.1v1.1h-1.1zM270.5 108.5h1.1v1.1h-1.1zM270.5 118h1.1v1.1h-1.1zM271 112h1.1v1.1h-1.1zM271 115h1.1v1.1h-1.1zM271.5 98.5h1.1v1.1h-1.1zM271.5 100h1.1v1.1h-1.1zM271.5 104.5h1.1v1.1h-1.1zM271.5 110h1.1v1.1h-1.1zM272 87.5h1.1v1.1h-1.1zM272 95.5h1.1v1.1h-1.1zM272 97.5h1.1v1.1h-1.1zM272.5 86.5h1.1v1.1h-1.1zM272.5 90h1.1v1.1h-1.1zM272.5 99h1.1v1.1h-1.1zM272.5 106h1.1v1.1h-1.1zM272.5 110h1.1v1.1h-1.1zM272.5 121h1.1v1.1h-1.1zM273 83.5h1.1v1.1h-1.1zM273 93h1.1v1.1h-1.1zM273 94.5h1.1v1.1h-1.1zM273 104h1.1v1.1h-1.1zM273 114.5h1.1v1.1h-1.1zM273.5 96.5h1.1v1.1h-1.1zM273.5 100.5h1.1v1.1h-1.1zM273.5 102.5h1.1v1.1h-1.1zM273.5 107h1.1v1.1h-1.1zM274 83.5h1.1v1.1h-1.1zM274 94h1.1v1.1h-1.1zM274 94.5h1.1v1.1h-1.1zM274 106.5h1.1v1.1h-1.1zM274.5 85h1.1v1.1h-1.1zM274.5 88h1.1v1.1h-1.1zM274.5 104.5h1.1v1.1h-1.1zM274.5 105.5h1.1v1.1h-1.1zM274.5 107h1.1v1.1h-1.1zM275 89h1.1v1.1h-1.1zM275 103.5h1.1v1.1h-1.1zM275 104h1.1v1.1h-1.1zM275.5 90h1.1v1.1h-1.1zM275.5 91h1.1v1.1h-1.1zM275.5 116.5h1.1v1.1h-1.1zM276 92h1.1v1.1h-1.1zM276 100h1.1v1.1h-1.1zM276 102.5h1.1v1.1h-1.1zM276 104.5h1.1v1.1h-1.1zM277 81h1.1v1.1h-1.1zM277 86.5h1.1v1.1h-1.1zM277 112h1.1v1.1h-1.1zM277.5 85.5h1.1v1.1h-1.1zM277.5 86h1.1v1.1h-1.1zM277.5 89h1.1v1.1h-1.1zM277.5 90.5h1.1v1.1h-1.1zM277.5 94h1.1v1.1h-1.1zM277.5 101.5h1.1v1.1h-1.1zM278 83h1.1v1.1h-1.1zM278 94h1.1v1.1h-1.1zM278.5 80.5h1.1v1.1h-1.1zM278.5 85.5h1.1v1.1h-1.1zM278.5 87h1.1v1.1h-1.1zM278.5 91h1.1v1.1h-1.1zM278.5 104h1.1v1.1h-1.1zM279 79.5h1.1v1.1h-1.1zM279 82.5h1.1v1.1h-1.1zM279 95h1.1v1.1h-1.1zM279 100.5h1.1v1.1h-1.1zM279 107h1.1v1.1h-1.1zM279.5 75h1.1v1.1h-1.1zM279.5 76.5h1.1v1.1h-1.1zM279.5 83.5h1.1v1.1h-1.1zM279.5 113h1.1v1.1h-1.1zM280 77h1.1v1.1h-1.1zM280 84h1.1v1.1h-1.1zM280 91h1.1v1.1h-1.1zM280 93.5h1.1v1.1h-1.1zM280 99h1.1v1.1h-1.1zM280 100h1.1v1.1h-1.1zM280 106h1.1v1.1h-1.1zM280.5 85h1.1v1.1h-1.1zM280.5 85.5h1.1v1.1h-1.1zM280.5 89h1.1v1.1h-1.1zM280.5 91.5h1.1v1.1h-1.1zM280.5 94h1.1v1.1h-1.1zM280.5 101.5h1.1v1.1h-1.1zM281 85h1.1v1.1h-1.1zM281 89h1.1v1.1h-1.1zM281 89.5h1.1v1.1h-1.1zM281 108.5h1.1v1.1h-1.1zM281.5 84.5h1.1v1.1h-1.1zM281.5 96h1.1v1.1h-1.1zM281.5 98h1.1v1.1h-1.1zM281.5 115.5h1.1v1.1h-1.1zM282 80h1.1v1.1h-1.1zM282 83h1.1v1.1h-1.1zM282 96.5h1.1v1.1h-1.1zM282.5 83h1.1v1.1h-1.1zM282.5 86.5h1.1v1.1h-1.1zM282.5 88.5h1.1v1.1h-1.1zM282.5 91.5h1.1v1.1h-1.1zM282.5 97.5h1.1v1.1h-1.1zM282.5 107h1.1v1.1h-1.1zM283 91.5h1.1v1.1h-1.1zM283 97h1.1v1.1h-1.1zM283 97.5h1.1v1.1h-1.1zM283.5 78.5h1.1v1.1h-1.1zM283.5 99.5h1.1v1.1h-1.1zM284 82h1.1v1.1h-1.1zM284 83.5h1.1v1.1h-1.1zM284 87h1.1v1.1h-1.1zM284.5 81h1.1v1.1h-1.1zM284.5 100h1.1v1.1h-1.1zM285 84.5h1.1v1.1h-1.1zM285 85.5h1.1v1.1h-1.1zM285 100h1.1v1.1h-1.1zM285.5 76.5h1.1v1.1h-1.1zM285.5 85.5h1.1v1.1h-1.1zM285.5 87h1.1v1.1h-1.1zM285.5 92h1.1v1.1h-1.1zM285.5 95.5h1.1v1.1h-1.1zM285.5 100h1.1v1.1h-1.1zM286 79h1.1v1.1h-1.1zM286 82.5h1.1v1.1h-1.1zM286 89.5h1.1v1.1h-1.1zM286 94h1.1v1.1h-1.1zM286.5 78h1.1v1.1h-1.1zM286.5 85h1.1v1.1h-1.1zM286.5 93.5h1.1v1.1h-1.1zM286.5 96h1.1v1.1h-1.1zM287 71.5h1.1v1.1h-1.1zM287 80.5h1.1v1.1h-1.1zM287 81.5h1.1v1.1h-1.1zM287 84h1.1v1.1h-1.1zM287 94h1.1v1.1h-1.1zM287.5 75h1.1v1.1h-1.1zM287.5 79h1.1v1.1h-1.1zM287.5 82h1.1v1.1h-1.1zM287.5 83h1.1v1.1h-1.1zM287.5 90h1.1v1.1h-1.1zM288 70h1.1v1.1h-1.1zM288.5 92.5h1.1v1.1h-1.1zM288.5 93h1.1v1.1h-1.1zM289.5 71.5h1.1v1.1h-1.1zM289.5 77h1.1v1.1h-1.1zM289.5 93h1.1v1.1h-1.1zM289.5 97.5h1.1v1.1h-1.1zM290 98.5h1.1v1.1h-1.1zM290.5 71h1.1v1.1h-1.1zM290.5 72h1.1v1.1h-1.1zM290.5 73h1.1v1.1h-1.1zM290.5 88h1.1v1.1h-1.1zM291 70.5h1.1v1.1h-1.1zM291 89.5h1.1v1.1h-1.1zM291 95h1.1v1.1h-1.1zM291.5 73h1.1v1.1h-1.1zM291.5 81h1.1v1.1h-1.1zM291.5 90h1.1v1.1h-1.1zM292 73h1.1v1.1h-1.1zM292 76.5h1.1v1.1h-1.1zM292 82h1.1v1.1h-1.1zM292.5 77h1.1v1.1h-1.1zM292.5 80h1.1v1.1h-1.1zM293 75h1.1v1.1h-1.1zM293 76.5h1.1v1.1h-1.1zM293 83.5h1.1v1.1h-1.1zM293.5 78.5h1.1v1.1h-1.1zM293.5 81.5h1.1v1.1h-1.1zM293.5 85h1.1v1.1h-1.1zM294 78.5h1.1v1.1h-1.1zM294 90.5h1.1v1.1h-1.1zM294.5 67h1.1v1.1h-1.1zM294.5 75.5h1.1v1.1h-1.1zM294.5 80h1.1v1.1h-1.1zM294.5 89h1.1v1.1h-1.1zM295 67.5h1.1v1.1h-1.1zM295.5 83h1.1v1.1h-1.1zM295.5 89.5h1.1v1.1h-1.1zM296 73h1.1v1.1h-1.1zM296 78.5h1.1v1.1h-1.1zM296.5 68.5h1.1v1.1h-1.1zM296.5 71.5h1.1v1.1h-1.1zM296.5 72h1.1v1.1h-1.1zM296.5 75.5h1.1v1.1h-1.1zM296.5 82h1.1v1.1h-1.1zM296.5 84.5h1.1v1.1h-1.1zM297 67h1.1v1.1h-1.1zM297 69.5h1.1v1.1h-1.1zM297 78.5h1.1v1.1h-1.1zM297.5 70h1.1v1.1h-1.1zM297.5 73.5h1.1v1.1h-1.1zM298 63h1.1v1.1h-1.1zM298 73h1.1v1.1h-1.1zM298 76.5h1.1v1.1h-1.1zM298 84h1.1v1.1h-1.1zM298.5 64h1.1v1.1h-1.1zM299 79.5h1.1v1.1h-1.1zM299.5 65.5h1.1v1.1h-1.1zM299.5 66.5h1.1v1.1h-1.1zM300 69.5h1.1v1.1h-1.1zM300 70h1.1v1.1h-1.1zM300 72h1.1v1.1h-1.1zM300 75h1.1v1.1h-1.1zM300.5 68.5h1.1v1.1h-1.1zM300.5 75h1.1v1.1h-1.1zM301 65.5h1.1v1.1h-1.1zM301 70h1.1v1.1h-1.1zM301 72.5h1.1v1.1h-1.1zM301.5 68h1.1v1.1h-1.1zM301.5 72h1.1v1.1h-1.1zM301.5 75h1.1v1.1h-1.1zM302 68h1.1v1.1h-1.1zM302 74.5h1.1v1.1h-1.1zM302.5 68.5h1.1v1.1h-1.1zM303 67.5h1.1v1.1h-1.1zM303.5 70.5h1.1v1.1h-1.1zM303.5 73h1.1v1.1h-1.1zM303.5 76h1.1v1.1h-1.1z"/>
<path fill="#111" d="M248 102h1.1v1.1h-1.1zM248 104h1.1v1.1h-1.1zM248 106h1.1v1.1h-1.1zM248.5 103h1.1v1.1h-1.1zM248.5 106h1.1v1.1h-1.1zM248.5 107h1.1v1.1h-1.1zM248.5 110h1.1v1.1h-1.1zM249 98h1.1v1.1h-1.1zM249 104h1.1v1.1h-1.1zM249 107.5h1.1v1.1h-1.1zM249.5 100.5h1.1v1.1h-1.1zM249.5 103.5h1.1v1.1h-1.1zM249.5 104h1.1v1.1h-1.1zM249.5 105h1.1v1.1h-1.1zM249.5 106.5h1.1v1.1h-1.1zM250 98h1.1v1.1h-1.1zM250 100.5h1.1v1.1h-1.1zM250 101h1.1v1.1h-1.1zM250 102h1.1v1.1h-1.1zM250 102.5h1.1v1.1h-1.1zM250 103.5h1.1v1.1h-1.1zM250 108h1.1v1.1h-1.1zM250 108.5h1.1v1.1h-1.1zM250 109.5h1.1v1.1h-1.1zM250.5 97h1.1v1.1h-1.1zM250.5 98.5h1.1v1.1h-1.1zM250.5 99.5h1.1v1.1h-1.1zM250.5 100.5h1.1v1.1h-1.1zM250.5 102h1.1v1.1h-1.1zM250.5 103h1.1v1.1h-1.1zM250.5 106h1.1v1.1h-1.1zM250.5 107.5h1.1v1.1h-1.1zM250.5 108h1.1v1.1h-1.1zM251 97.5h1.1v1.1h-1.1zM251 99.5h1.1v1.1h-1.1zM251 100.5h1.1v1.1h-1.1zM251 105h1.1v1.1h-1.1zM251 106.5h1.1v1.1h-1.1zM251 108.5h1.1v1.1h-1.1zM251 110h1.1v1.1h-1.1zM251 112.5h1.1v1.1h-1.1zM251 114.5h1.1v1.1h-1.1zM251.5 99.5h1.1v1.1h-1.1zM251.5 100.5h1.1v1.1h-1.1zM251.5 104.5h1.1v1.1h-1.1zM251.5 105.5h1.1v1.1h-1.1zM251.5 106h1.1v1.1h-1.1zM251.5 106.5h1.1v1.1h-1.1zM251.5 109h1.1v1.1h-1.1zM251.5 109.5h1.1v1.1h-1.1zM251.5 112h1.1v1.1h-1.1zM252 97.5h1.1v1.1h-1.1zM252 98h1.1v1.1h-1.1zM252 99h1.1v1.1h-1.1zM252 99.5h1.1v1.1h-1.1zM252 101h1.1v1.1h-1.1zM252 104.5h1.1v1.1h-1.1zM252 106h1.1v1.1h-1.1zM252 106.5h1.1v1.1h-1.1zM252 109h1.1v1.1h-1.1zM252 112h1.1v1.1h-1.1zM252 114.5h1.1v1.1h-1.1zM252.5 96h1.1v1.1h-1.1zM252.5 98.5h1.1v1.1h-1.1zM252.5 100.5h1.1v1.1h-1.1zM252.5 101h1.1v1.1h-1.1zM252.5 103h1.1v1.1h-1.1zM252.5 105h1.1v1.1h-1.1zM252.5 106.5h1.1v1.1h-1.1zM252.5 108h1.1v1.1h-1.1zM252.5 111h1.1v1.1h-1.1zM252.5 112h1.1v1.1h-1.1zM252.5 113h1.1v1.1h-1.1zM253 96h1.1v1.1h-1.1zM253 96.5h1.1v1.1h-1.1zM253 97.5h1.1v1.1h-1.1zM253 99.5h1.1v1.1h-1.1zM253 103.5h1.1v1.1h-1.1zM253 105h1.1v1.1h-1.1zM253 105.5h1.1v1.1h-1.1zM253 106h1.1v1.1h-1.1zM253 106.5h1.1v1.1h-1.1zM253 107h1.1v1.1h-1.1zM253 107.5h1.1v1.1h-1.1zM253 109h1.1v1.1h-1.1zM253 112h1.1v1.1h-1.1zM253 113h1.1v1.1h-1.1zM253 113.5h1.1v1.1h-1.1zM253 114h1.1v1.1h-1.1zM253 117h1.1v1.1h-1.1zM253.5 95.5h1.1v1.1h-1.1zM253.5 98.5h1.1v1.1h-1.1zM253.5 99h1.1v1.1h-1.1zM253.5 99.5h1.1v1.1h-1.1zM253.5 100.5h1.1v1.1h-1.1zM253.5 101h1.1v1.1h-1.1zM253.5 102h1.1v1.1h-1.1zM253.5 104h1.1v1.1h-1.1zM253.5 105h1.1v1.1h-1.1zM253.5 107h1.1v1.1h-1.1zM253.5 110.5h1.1v1.1h-1.1zM253.5 111.5h1.1v1.1h-1.1zM253.5 112.5h1.1v1.1h-1.1zM253.5 113h1.1v1.1h-1.1zM253.5 114.5h1.1v1.1h-1.1zM253.5 117h1.1v1.1h-1.1zM254 96h1.1v1.1h-1.1zM254 96.5h1.1v1.1h-1.1zM254 99h1.1v1.1h-1.1zM254 100h1.1v1.1h-1.1zM254 100.5h1.1v1.1h-1.1zM254 105h1.1v1.1h-1.1zM254 105.5h1.1v1.1h-1.1zM254 106h1.1v1.1h-1.1zM254 107.5h1.1v1.1h-1.1zM254 109.5h1.1v1.1h-1.1zM254 111.5h1.1v1.1h-1.1zM254 115h1.1v1.1h-1.1zM254 115.5h1.1v1.1h-1.1zM254.5 92h1.1v1.1h-1.1zM254.5 95.5h1.1v1.1h-1.1zM254.5 98.5h1.1v1.1h-1.1zM254.5 99.5h1.1v1.1h-1.1zM254.5 100.5h1.1v1.1h-1.1zM254.5 101.5h1.1v1.1h-1.1zM254.5 102h1.1v1.1h-1.1zM254.5 105h1.1v1.1h-1.1zM254.5 105.5h1.1v1.1h-1.1zM254.5 106.5h1.1v1.1h-1.1zM254.5 107h1.1v1.1h-1.1zM254.5 108h1.1v1.1h-1.1zM254.5 108.5h1.1v1.1h-1.1zM254.5 109h1.1v1.1h-1.1zM254.5 109.5h1.1v1.1h-1.1zM254.5 111h1.1v1.1h-1.1zM254.5 113h1.1v1.1h-1.1zM254.5 113.5h1.1v1.1h-1.1zM254.5 115h1.1v1.1h-1.1zM255 93h1.1v1.1h-1.1zM255 96.5h1.1v1.1h-1.1zM255 98h1.1v1.1h-1.1zM255 102.5h1.1v1.1h-1.1zM255 103h1.1v1.1h-1.1zM255 104h1.1v1.1h-1.1zM255 105.5h1.1v1.1h-1.1zM255 106.5h1.1v1.1h-1.1zM255 108h1.1v1.1h-1.1zM255 108.5h1.1v1.1h-1.1zM255 109h1.1v1.1h-1.1zM255 109.5h1.1v1.1h-1.1zM255 112.5h1.1v1.1h-1.1zM255.5 93h1.1v1.1h-1.1zM255.5 95.5h1.1v1.1h-1.1zM255.5 96h1.1v1.1h-1.1zM255.5 98h1.1v1.1h-1.1zM255.5 100h1.1v1.1h-1.1zM255.5 101.5h1.1v1.1h-1.1zM255.5 103h1.1v1.1h-1.1zM255.5 103.5h1.1v1.1h-1.1zM255.5 104h1.1v1.1h-1.1zM255.5 105h1.1v1.1h-1.1zM255.5 105.5h1.1v1.1h-1.1zM255.5 106h1.1v1.1h-1.1zM255.5 108h1.1v1.1h-1.1zM255.5 110h1.1v1.1h-1.1zM255.5 111h1.1v1.1h-1.1zM255.5 113h1.1v1.1h-1.1zM255.5 113.5h1.1v1.1h-1.1zM255.5 116h1.1v1.1h-1.1zM256 94.5h1.1v1.1h-1.1zM256 98.5h1.1v1.1h-1.1zM256 99h1.1v1.1h-1.1zM256 101h1.1v1.1h-1.1zM256 101.5h1.1v1.1h-1.1zM256 102h1.1v1.1h-1.1zM256 104h1.1v1.1h-1.1zM256 105.5h1.1v1.1h-1.1zM256 106h1.1v1.1h-1.1zM256 106.5h1.1v1.1h-1.1zM256 107h1.1v1.1h-1.1zM256 107.5h1.1v1.1h-1.1zM256 110.5h1.1v1.1h-1.1zM256 111h1.1v1.1h-1.1zM256 114h1.1v1.1h-1.1zM256 115.5h1.1v1.1h-1.1zM256 117h1.1v1.1h-1.1zM256 119h1.1v1.1h-1.1zM256.5 94.5h1.1v1.1h-1.1zM256.5 95.5h1.1v1.1h-1.1zM256.5 96h1.1v1.1h-1.1zM256.5 97h1.1v1.1h-1.1zM256.5 98h1.1v1.1h-1.1zM256.5 98.5h1.1v1.1h-1.1zM256.5 99.5h1.1v1.1h-1.1zM256.5 100h1.1v1.1h-1.1zM256.5 100.5h1.1v1.1h-1.1zM256.5 101h1.1v1.1h-1.1zM256.5 101.5h1.1v1.1h-1.1zM256.5 102.5h1.1v1.1h-1.1zM256.5 103h1.1v1.1h-1.1zM256.5 103.5h1.1v1.1h-1.1zM256.5 104h1.1v1.1h-1.1zM256.5 104.5h1.1v1.1h-1.1zM256.5 105h1.1v1.1h-1.1zM256.5 105.5h1.1v1.1h-1.1zM256.5 107.5h1.1v1.1h-1.1zM256.5 108h1.1v1.1h-1.1zM256.5 108.5h1.1v1.1h-1.1zM256.5 109h1.1v1.1h-1.1zM256.5 110h1.1v1.1h-1.1zM256.5 110.5h1.1v1.1h-1.1zM256.5 111h1.1v1.1h-1.1zM256.5 114h1.1v1.1h-1.1zM257 91h1.1v1.1h-1.1zM257 92.5h1.1v1.1h-1.1zM257 96h1.1v1.1h-1.1zM257 96.5h1.1v1.1h-1.1zM257 98h1.1v1.1h-1.1zM257 98.5h1.1v1.1h-1.1zM257 99h1.1v1.1h-1.1zM257 100h1.1v1.1h-1.1zM257 101.5h1.1v1.1h-1.1zM257 104h1.1v1.1h-1.1zM257 105.5h1.1v1.1h-1.1zM257 106h1.1v1.1h-1.1zM257 106.5h1.1v1.1h-1.1zM257 107.5h1.1v1.1h-1.1zM257 108h1.1v1.1h-1.1zM257 108.5h1.1v1.1h-1.1zM257 109h1.1v1.1h-1.1zM257 111h1.1v1.1h-1.1zM257 115.5h1.1v1.1h-1.1zM257 117h1.1v1.1h-1.1zM257.5 91.5h1.1v1.1h-1.1zM257.5 95.5h1.1v1.1h-1.1zM257.5 97h1.1v1.1h-1.1zM257.5 98.5h1.1v1.1h-1.1zM257.5 99.5h1.1v1.1h-1.1zM257.5 100.5h1.1v1.1h-1.1zM257.5 102.5h1.1v1.1h-1.1zM257.5 103.5h1.1v1.1h-1.1zM257.5 104.5h1.1v1.1h-1.1zM257.5 105h1.1v1.1h-1.1zM257.5 105.5h1.1v1.1h-1.1zM257.5 106h1.1v1.1h-1.1zM257.5 106.5h1.1v1.1h-1.1zM257.5 107.5h1.1v1.1h-1.1zM257.5 109h1.1v1.1h-1.1zM257.5 109.5h1.1v1.1h-1.1zM257.5 110h1.1v1.1h-1.1zM257.5 111h1.1v1.1h-1.1zM257.5 111.5h1.1v1.1h-1.1zM257.5 112h1.1v1.1h-1.1zM257.5 112.5h1.1v1.1h-1.1zM257.5 114h1.1v1.1h-1.1zM257.5 114.5h1.1v1.1h-1.1zM257.5 115.5h1.1v1.1h-1.1zM257.5 117h1.1v1.1h-1.1zM257.5 118h1.1v1.1h-1.1zM258 92.5h1.1v1.1h-1.1zM258 93h1.1v1.1h-1.1zM258 97h1.1v1.1h-1.1zM258 97.5h1.1v1.1h-1.1zM258 99h1.1v1.1h-1.1zM258 100h1.1v1.1h-1.1zM258 100.5h1.1v1.1h-1.1zM258 102h1.1v1.1h-1.1zM258 103.5h1.1v1.1h-1.1zM258 104h1.1v1.1h-1.1zM258 105h1.1v1.1h-1.1zM258 105.5h1.1v1.1h-1.1zM258 106.5h1.1v1.1h-1.1zM258 108h1.1v1.1h-1.1zM258 109h1.1v1.1h-1.1zM258 109.5h1.1v1.1h-1.1zM258 111.5h1.1v1.1h-1.1zM258 112h1.1v1.1h-1.1zM258 112.5h1.1v1.1h-1.1zM258 113h1.1v1.1h-1.1zM258 115h1.1v1.1h-1.1zM258.5 95.5h1.1v1.1h-1.1zM258.5 96.5h1.1v1.1h-1.1zM258.5 101.5h1.1v1.1h-1.1zM258.5 102h1.1v1.1h-1.1zM258.5 103h1.1v1.1h-1.1zM258.5 104.5h1.1v1.1h-1.1zM258.5 105.5h1.1v1.1h-1.1zM258.5 106h1.1v1.1h-1.1zM258.5 106.5h1.1v1.1h-1.1zM258.5 107h1.1v1.1h-1.1zM258.5 107.5h1.1v1.1h-1.1zM258.5 109h1.1v1.1h-1.1zM258.5 113h1.1v1.1h-1.1zM258.5 117h1.1v1.1h-1.1zM258.5 118h1.1v1.1h-1.1zM258.5 119.5h1.1v1.1h-1.1zM259 96h1.1v1.1h-1.1zM259 98.5h1.1v1.1h-1.1zM259 99.5h1.1v1.1h-1.1zM259 101.5h1.1v1.1h-1.1zM259 103.5h1.1v1.1h-1.1zM259 104h1.1v1.1h-1.1zM259 106h1.1v1.1h-1.1zM259 106.5h1.1v1.1h-1.1zM259 110h1.1v1.1h-1.1zM259 111h1.1v1.1h-1.1zM259 111.5h1.1v1.1h-1.1zM259 112h1.1v1.1h-1.1zM259 113h1.1v1.1h-1.1zM259 116.5h1.1v1.1h-1.1zM259.5 93.5h1.1v1.1h-1.1zM259.5 96.5h1.1v1.1h-1.1zM259.5 97.5h1.1v1.1h-1.1zM259.5 99h1.1v1.1h-1.1zM259.5 102.5h1.1v1.1h-1.1zM259.5 103h1.1v1.1h-1.1zM259.5 103.5h1.1v1.1h-1.1zM259.5 104h1.1v1.1h-1.1zM259.5 105.5h1.1v1.1h-1.1zM259.5 107.5h1.1v1.1h-1.1zM259.5 108h1.1v1.1h-1.1zM259.5 109.5h1.1v1.1h-1.1zM259.5 112h1.1v1.1h-1.1zM259.5 112.5h1.1v1.1h-1.1zM259.5 113h1.1v1.1h-1.1zM259.5 115.5h1.1v1.1h-1.1zM259.5 117.5h1.1v1.1h-1.1zM259.5 118.5h1.1v1.1h-1.1zM260 92h1.1v1.1h-1.1zM260 96.5h1.1v1.1h-1.1zM260 97h1.1v1.1h-1.1zM260 97.5h1.1v1.1h-1.1zM260 98.5h1.1v1.1h-1.1zM260 99.5h1.1v1.1h-1.1zM260 100h1.1v1.1h-1.1zM260 101h1.1v1.1h-1.1zM260 101.5h1.1v1.1h-1.1zM260 102h1.1v1.1h-1.1zM260 102.5h1.1v1.1h-1.1zM260 103h1.1v1.1h-1.1zM260 104h1.1v1.1h-1.1zM260 105h1.1v1.1h-1.1zM260 105.5h1.1v1.1h-1.1zM260 106h1.1v1.1h-1.1zM260 107h1.1v1.1h-1.1zM260 107.5h1.1v1.1h-1.1zM260 108h1.1v1.1h-1.1zM260 108.5h1.1v1.1h-1.1zM260 109h1.1v1.1h-1.1zM260 110h1.1v1.1h-1.1zM260 110.5h1.1v1.1h-1.1zM260 113h1.1v1.1h-1.1zM260 113.5h1.1v1.1h-1.1zM260 119h1.1v1.1h-1.1zM260.5 93.5h1.1v1.1h-1.1zM260.5 94.5h1.1v1.1h-1.1zM260.5 95h1.1v1.1h-1.1zM260.5 97h1.1v1.1h-1.1zM260.5 98h1.1v1.1h-1.1zM260.5 98.5h1.1v1.1h-1.1zM260.5 100h1.1v1.1h-1.1zM260.5 101.5h1.1v1.1h-1.1zM260.5 102h1.1v1.1h-1.1zM260.5 103h1.1v1.1h-1.1zM260.5 103.5h1.1v1.1h-1.1zM260.5 104.5h1.1v1.1h-1.1zM260.5 106.5h1.1v1.1h-1.1zM260.5 107h1.1v1.1h-1.1zM260.5 108.5h1.1v1.1h-1.1zM260.5 109h1.1v1.1h-1.1zM260.5 110h1.1v1.1h-1.1zM260.5 110.5h1.1v1.1h-1.1zM260.5 111h1.1v1.1h-1.1zM260.5 111.5h1.1v1.1h-1.1zM260.5 113h1.1v1.1h-1.1zM260.5 117.5h1.1v1.1h-1.1zM261 89.5h1.1v1.1h-1.1zM261 91h1.1v1.1h-1.1zM261 93h1.1v1.1h-1.1zM261 94h1.1v1.1h-1.1zM261 94.5h1.1v1.1h-1.1zM261 95h1.1v1.1h-1.1zM261 97h1.1v1.1h-1.1zM261 98.5h1.1v1.1h-1.1zM261 100h1.1v1.1h-1.1zM261 100.5h1.1v1.1h-1.1zM261 101.5h1.1v1.1h-1.1zM261 102.5h1.1v1.1h-1.1zM261 103.5h1.1v1.1h-1.1zM261 104h1.1v1.1h-1.1zM261 105h1.1v1.1h-1.1zM261 105.5h1.1v1.1h-1.1zM261 108h1.1v1.1h-1.1zM261 109h1.1v1.1h-1.1zM261 112h1.1v1.1h-1.1zM261 113.5h1.1v1.1h-1.1zM261 118h1.1v1.1h-1.1zM261 119h1.1v1.1h-1.1zM261.5 93h1.1v1.1h-1.1zM261.5 100h1.1v1.1h-1.1zM261.5 102h1.1v1.1h-1.1zM261.5 102.5h1.1v1.1h-1.1zM261.5 103h1.1v1.1h-1.1zM261.5 103.5h1.1v1.1h-1.1zM261.5 104h1.1v1.1h-1.1zM261.5 104.5h1.1v1.1h-1.1zM261.5 105h1.1v1.1h-1.1zM261.5 105.5h1.1v1.1h-1.1zM261.5 106h1.1v1.1h-1.1zM261.5 107h1.1v1.1h-1.1zM261.5 107.5h1.1v1.1h-1.1zM261.5 110.5h1.1v1.1h-1.1zM261.5 112.5h1.1v1.1h-1.1zM261.5 114.5h1.1v1.1h-1.1zM261.5 115.5h1.1v1.1h-1.1zM262 93.5h1.1v1.1h-1.1zM262 94.5h1.1v1.1h-1.1zM262 95.5h1.1v1.1h-1.1zM262 96h1.1v1.1h-1.1zM262 100h1.1v1.1h-1.1zM262 102h1.1v1.1h-1.1zM262 102.5h1.1v1.1h-1.1zM262 103h1.1v1.1h-1.1zM262 104h1.1v1.1h-1.1zM262 105h1.1v1.1h-1.1zM262 105.5h1.1v1.1h-1.1zM262 108.5h1.1v1.1h-1.1zM262 110h1.1v1.1h-1.1zM262 111h1.1v1.1h-1.1zM262 111.5h1.1v1.1h-1.1zM262 112h1.1v1.1h-1.1zM262 113h1.1v1.1h-1.1zM262 113.5h1.1v1.1h-1.1zM262 115h1.1v1.1h-1.1zM262 119.5h1.1v1.1h-1.1zM262.5 93.5h1.1v1.1h-1.1zM262.5 95.5h1.1v1.1h-1.1zM262.5 96h1.1v1.1h-1.1zM262.5 96.5h1.1v1.1h-1.1zM262.5 97.5h1.1v1.1h-1.1zM262.5 99h1.1v1.1h-1.1zM262.5 99.5h1.1v1.1h-1.1zM262.5 101.5h1.1v1.1h-1.1zM262.5 102h1.1v1.1h-1.1zM262.5 102.5h1.1v1.1h-1.1zM262.5 103h1.1v1.1h-1.1zM262.5 104.5h1.1v1.1h-1.1zM262.5 106h1.1v1.1h-1.1zM262.5 109h1.1v1.1h-1.1zM262.5 113h1.1v1.1h-1.1zM262.5 119h1.1v1.1h-1.1zM263 94h1.1v1.1h-1.1zM263 95.5h1.1v1.1h-1.1zM263 96.5h1.1v1.1h-1.1zM263 97.5h1.1v1.1h-1.1zM263 100h1.1v1.1h-1.1zM263 101h1.1v1.1h-1.1zM263 101.5h1.1v1.1h-1.1zM263 103h1.1v1.1h-1.1zM263 103.5h1.1v1.1h-1.1zM263 104h1.1v1.1h-1.1zM263 104.5h1.1v1.1h-1.1zM263 106h1.1v1.1h-1.1zM263 106.5h1.1v1.1h-1.1zM263 112h1.1v1.1h-1.1zM263 112.5h1.1v1.1h-1.1zM263 113.5h1.1v1.1h-1.1zM263.5 95.5h1.1v1.1h-1.1zM263.5 96.5h1.1v1.1h-1.1zM263.5 99h1.1v1.1h-1.1zM263.5 100.5h1.1v1.1h-1.1zM263.5 102h1.1v1.1h-1.1zM263.5 102.5h1.1v1.1h-1.1zM263.5 103h1.1v1.1h-1.1zM263.5 105.5h1.1v1.1h-1.1zM263.5 106.5h1.1v1.1h-1.1zM263.5 107.5h1.1v1.1h-1.1zM263.5 108h1.1v1.1h-1.1zM263.5 108.5h1.1v1.1h-1.1zM263.5 111.5h1.1v1.1h-1.1zM263.5 112.5h1.1v1.1h-1.1zM263.5 114h1.1v1.1h-1.1zM263.5 115h1.1v1.1h-1.1zM264 93.5h1.1v1.1h-1.1zM264 95.5h1.1v1.1h-1.1zM264 96h1.1v1.1h-1.1zM264 98.5h1.1v1.1h-1.1zM264 100h1.1v1.1h-1.1zM264 101.5h1.1v1.1h-1.1zM264 103h1.1v1.1h-1.1zM264 104h1.1v1.1h-1.1zM264 105h1.1v1.1h-1.1zM264 105.5h1.1v1.1h-1.1zM264 106.5h1.1v1.1h-1.1zM264 108h1.1v1.1h-1.1zM264 110.5h1.1v1.1h-1.1zM264 111h1.1v1.1h-1.1zM264 112h1.1v1.1h-1.1zM264 113.5h1.1v1.1h-1.1zM264 114h1.1v1.1h-1.1zM264 115.5h1.1v1.1h-1.1zM264 118h1.1v1.1h-1.1zM264.5 95h1.1v1.1h-1.1zM264.5 97.5h1.1v1.1h-1.1zM264.5 99h1.1v1.1h-1.1zM264.5 100.5h1.1v1.1h-1.1zM264.5 101h1.1v1.1h-1.1zM264.5 104.5h1.1v1.1h-1.1zM264.5 106.5h1.1v1.1h-1.1zM264.5 108.5h1.1v1.1h-1.1zM264.5 109h1.1v1.1h-1.1zM264.5 109.5h1.1v1.1h-1.1zM264.5 111h1.1v1.1h-1.1zM264.5 117.5h1.1v1.1h-1.1zM265 95.5h1.1v1.1h-1.1zM265 96h1.1v1.1h-1.1zM265 99.5h1.1v1.1h-1.1zM265 100.5h1.1v1.1h-1.1zM265 101.5h1.1v1.1h-1.1zM265 102h1.1v1.1h-1.1zM265 103h1.1v1.1h-1.1zM265 105h1.1v1.1h-1.1zM265 106.5h1.1v1.1h-1.1zM265 107.5h1.1v1.1h-1.1zM265 108h1.1v1.1h-1.1zM265 109h1.1v1.1h-1.1zM265 110.5h1.1v1.1h-1.1zM265 111h1.1v1.1h-1.1zM265 113h1.1v1.1h-1.1zM265.5 95h1.1v1.1h-1.1zM265.5 97h1.1v1.1h-1.1zM265.5 98h1.1v1.1h-1.1zM265.5 98.5h1.1v1.1h-1.1zM265.5 100h1.1v1.1h-1.1zM265.5 101h1.1v1.1h-1.1zM265.5 103h1.1v1.1h-1.1zM265.5 103.5h1.1v1.1h-1.1zM265.5 104h1.1v1.1h-1.1zM265.5 104.5h1.1v1.1h-1.1zM265.5 105.5h1.1v1.1h-1.1zM265.5 106h1.1v1.1h-1.1zM265.5 106.5h1.1v1.1h-1.1zM265.5 111h1.1v1.1h-1.1zM265.5 111.5h1.1v1.1h-1.1zM265.5 112h1.1v1.1h-1.1zM266 94.5h1.1v1.1h-1.1zM266 97.5h1.1v1.1h-1.1zM266 100h1.1v1.1h-1.1zM266 102h1.1v1.1h-1.1zM266 104h1.1v1.1h-1.1zM266 104.5h1.1v1.1h-1.1zM266 106.5h1.1v1.1h-1.1zM266 107.5h1.1v1.1h-1.1zM266 108h1.1v1.1h-1.1zM266 109h1.1v1.1h-1.1zM266 112h1.1v1.1h-1.1zM266.5 94h1.1v1.1h-1.1zM266.5 94.5h1.1v1.1h-1.1zM266.5 95h1.1v1.1h-1.1zM266.5 98h1.1v1.1h-1.1zM266.5 99.5h1.1v1.1h-1.1zM266.5 103h1.1v1.1h-1.1zM266.5 106h1.1v1.1h-1.1zM266.5 106.5h1.1v1.1h-1.1zM266.5 107.5h1.1v1.1h-1.1zM266.5 110h1.1v1.1h-1.1zM266.5 114.5h1.1v1.1h-1.1zM267 95h1.1v1.1h-1.1zM267 96h1.1v1.1h-1.1zM267 97.5h1.1v1.1h-1.1zM267 99.5h1.1v1.1h-1.1zM267 100.5h1.1v1.1h-1.1zM267 101h1.1v1.1h-1.1zM267 105h1.1v1.1h-1.1zM267 105.5h1.1v1.1h-1.1zM267 107h1.1v1.1h-1.1zM267 108h1.1v1.1h-1.1zM267 108.5h1.1v1.1h-1.1zM267 110h1.1v1.1h-1.1zM267 111.5h1.1v1.1h-1.1zM267 113h1.1v1.1h-1.1zM267 116h1.1v1.1h-1.1zM267.5 95h1.1v1.1h-1.1zM267.5 96h1.1v1.1h-1.1zM267.5 104.5h1.1v1.1h-1.1zM267.5 108h1.1v1.1h-1.1zM267.5 110.5h1.1v1.1h-1.1zM267.5 112.5h1.1v1.1h-1.1zM268 94h1.1v1.1h-1.1zM268 99.5h1.1v1.1h-1.1zM268 100h1.1v1.1h-1.1zM268 101h1.1v1.1h-1.1zM268 101.5h1.1v1.1h-1.1zM268 102h1.1v1.1h-1.1zM268 103h1.1v1.1h-1.1zM268 108h1.1v1.1h-1.1zM268 116.5h1.1v1.1h-1.1zM268 117.5h1.1v1.1h-1.1zM268.5 95h1.1v1.1h-1.1zM268.5 95.5h1.1v1.1h-1.1zM268.5 96h1.1v1.1h-1.1zM268.5 96.5h1.1v1.1h-1.1zM268.5 98.5h1.1v1.1h-1.1zM268.5 99h1.1v1.1h-1.1zM268.5 103.5h1.1v1.1h-1.1zM268.5 109h1.1v1.1h-1.1zM268.5 110h1.1v1.1h-1.1zM268.5 113.5h1.1v1.1h-1.1zM269 95.5h1.1v1.1h-1.1zM269 96h1.1v1.1h-1.1zM269 99.5h1.1v1.1h-1.1zM269 101h1.1v1.1h-1.1zM269 102.5h1.1v1.1h-1.1zM269 106.5h1.1v1.1h-1.1zM269 110.5h1.1v1.1h-1.1zM269 116h1.1v1.1h-1.1zM269.5 97h1.1v1.1h-1.1zM269.5 102.5h1.1v1.1h-1.1zM269.5 107.5h1.1v1.1h-1.1zM269.5 108.5h1.1v1.1h-1.1zM269.5 115.5h1.1v1.1h-1.1zM270 101.5h1.1v1.1h-1.1zM270 107.5h1.1v1.1h-1.1zM270 109h1.1v1.1h-1.1zM270.5 95h1.1v1.1h-1.1zM270.5 99.5h1.1v1.1h-1.1zM270.5 100h1.1v1.1h-1.1zM270.5 105h1.1v1.1h-1.1zM270.5 105.5h1.1v1.1h-1.1zM271 96h1.1v1.1h-1.1zM271 110.5h1.1v1.1h-1.1zM271.5 95.5h1.1v1.1h-1.1zM271.5 104.5h1.1v1.1h-1.1zM271.5 108.5h1.1v1.1h-1.1zM271.5 114.5h1.1v1.1h-1.1zM272 95h1.1v1.1h-1.1zM272 95.5h1.1v1.1h-1.1zM272 96h1.1v1.1h-1.1zM272.5 105h1.1v1.1h-1.1zM273 95.5h1.1v1.1h-1.1zM273 97h1.1v1.1h-1.1zM273.5 96h1.1v1.1h-1.1zM273.5 106.5h1.1v1.1h-1.1zM274 96h1.1v1.1h-1.1zM274.5 95h1.1v1.1h-1.1zM274.5 95.5h1.1v1.1h-1.1zM274.5 96h1.1v1.1h-1.1zM275 95.5h1.1v1.1h-1.1zM275 100h1.1v1.1h-1.1zM275 101h1.1v1.1h-1.1zM275.5 94.5h1.1v1.1h-1.1zM275.5 95h1.1v1.1h-1.1zM275.5 96h1.1v1.1h-1.1zM276 95h1.1v1.1h-1.1zM276.5 95.5h1.1v1.1h-1.1zM276.5 96h1.1v1.1h-1.1zM277 96h1.1v1.1h-1.1zM278.5 94.5h1.1v1.1h-1.1zM279 95h1.1v1.1h-1.1zM280 95h1.1v1.1h-1.1zM280 95.5h1.1v1.1h-1.1zM280 96h1.1v1.1h-1.1zM280.5 95.5h1.1v1.1h-1.1zM280.5 96h1.1v1.1h-1.1zM280.5 97h1.1v1.1h-1.1zM281 94.5h1.1v1.1h-1.1zM281 95h1.1v1.1h-1.1z"/>
<path fill="#666" d="M62.5 170.5h1.1v1.1h-1.1zM83.5 191h1.1v1.1h-1.1z"/>
<path fill="#444" d="M56 215.5h1.1v1.1h-1.1zM58 213h1.1v1.1h-1.1zM60.5 216.5h1.1v1.1h-1.1zM60.5 217.5h1.1v1.1h-1.1zM61.5 218h1.1v1.1h-1.1zM63 215h1.1v1.1h-1.1zM64 218h1.1v1.1h-1.1zM64.5 211.5h1.1v1.1h-1.1zM64.5 213h1.1v1.1h-1.1zM64.5 223h1.1v1.1h-1.1zM65 219h1.1v1.1h-1.1zM65.5 213h1.1v1.1h-1.1zM65.5 216h1.1v1.1h-1.1zM65.5 217h1.1v1.1h-1.1zM65.5 218.5h1.1v1.1h-1.1zM65.5 221h1.1v1.1h-1.1zM66 211.5h1.1v1.1h-1.1zM67 218h1.1v1.1h-1.1zM67.5 208.5h1.1v1.1h-1.1zM68 208.5h1.1v1.1h-1.1zM69 208h1.1v1.1h-1.1zM69 213h1.1v1.1h-1.1zM69 218.5h1.1v1.1h-1.1zM69 222.5h1.1v1.1h-1.1zM70.5 203.5h1.1v1.1h-1.1zM70.5 207.5h1.1v1.1h-1.1zM70.5 210h1.1v1.1h-1.1zM72 204.5h1.1v1.1h-1.1zM72 206.5h1.1v1.1h-1.1zM72 211h1.1v1.1h-1.1zM72 212h1.1v1.1h-1.1zM72 213.5h1.1v1.1h-1.1zM73 213.5h1.1v1.1h-1.1zM73.5 213.5h1.1v1.1h-1.1zM73.5 223.5h1.1v1.1h-1.1zM74 204.5h1.1v1.1h-1.1zM74 210.5h1.1v1.1h-1.1zM74.5 202h1.1v1.1h-1.1zM74.5 204.5h1.1v1.1h-1.1zM75 198.5h1.1v1.1h-1.1zM75 217h1.1v1.1h-1.1zM75.5 207h1.1v1.1h-1.1zM75.5 209.5h1.1v1.1h-1.1zM76 208h1.1v1.1h-1.1zM76.5 209.5h1.1v1.1h-1.1zM76.5 210h1.1v1.1h-1.1zM76.5 211h1.1v1.1h-1.1zM77 215h1.1v1.1h-1.1zM78 199.5h1.1v1.1h-1.1zM78.5 206h1.1v1.1h-1.1zM79 200.5h1.1v1.1h-1.1zM79 204.5h1.1v1.1h-1.1zM79.5 203.5h1.1v1.1h-1.1zM79.5 207.5h1.1v1.1h-1.1zM80 203h1.1v1.1h-1.1zM80 205h1.1v1.1h-1.1zM80 206h1.1v1.1h-1.1zM80 209.5h1.1v1.1h-1.1zM80 215h1.1v1.1h-1.1zM80.5 213.5h1.1v1.1h-1.1zM81 199h1.1v1.1h-1.1zM81 205.5h1.1v1.1h-1.1zM81 206h1.1v1.1h-1.1zM81 209.5h1.1v1.1h-1.1zM81.5 198.5h1.1v1.1h-1.1zM81.5 202.5h1.1v1.1h-1.1zM82 202h1.1v1.1h-1.1zM82.5 196.5h1.1v1.1h-1.1zM82.5 200.5h1.1v1.1h-1.1zM82.5 203.5h1.1v1.1h-1.1zM82.5 207h1.1v1.1h-1.1zM83 196.5h1.1v1.1h-1.1zM84 194.5h1.1v1.1h-1.1zM84 196.5h1.1v1.1h-1.1zM84.5 196.5h1.1v1.1h-1.1zM85 195h1.1v1.1h-1.1zM85 197.5h1.1v1.1h-1.1zM85 200.5h1.1v1.1h-1.1zM85.5 191h1.1v1.1h-1.1zM85.5 193.5h1.1v1.1h-1.1zM85.5 197h1.1v1.1h-1.1zM85.5 202h1.1v1.1h-1.1zM86 190h1.1v1.1h-1.1zM86 191h1.1v1.1h-1.1zM86 194h1.1v1.1h-1.1zM86 200h1.1v1.1h-1.1zM87.5 195h1.1v1.1h-1.1zM88.5 193.5h1.1v1.1h-1.1z"/>
<path fill="#111" d="M42 227h1.1v1.1h-1.1zM42 230.5h1.1v1.1h-1.1zM42 234h1.1v1.1h-1.1zM42 238.5h1.1v1.1h-1.1zM42.5 236h1.1v1.1h-1.1zM43 225h1.1v1.1h-1.1zM43 230.5h1.1v1.1h-1.1zM43 239h1.1v1.1h-1.1zM43.5 227h1.1v1.1h-1.1zM43.5 233h1.1v1.1h-1.1zM43.5 234.5h1.1v1.1h-1.1zM43.5 235h1.1v1.1h-1.1zM43.5 238h1.1v1.1h-1.1zM44 230h1.1v1.1h-1.1zM44 240h1.1v1.1h-1.1zM44.5 226.5h1.1v1.1h-1.1zM44.5 229.5h1.1v1.1h-1.1zM44.5 231.5h1.1v1.1h-1.1zM44.5 232.5h1.1v1.1h-1.1zM44.5 239.5h1.1v1.1h-1.1zM44.5 241.5h1.1v1.1h-1.1zM44.5 244h1.1v1.1h-1.1zM44.5 245h1.1v1.1h-1.1zM45 222.5h1.1v1.1h-1.1zM45 229.5h1.1v1.1h-1.1zM45 235.5h1.1v1.1h-1.1zM45 238h1.1v1.1h-1.1zM45 244h1.1v1.1h-1.1zM45 245.5h1.1v1.1h-1.1zM45 246.5h1.1v1.1h-1.1zM45.5 224.5h1.1v1.1h-1.1zM45.5 227h1.1v1.1h-1.1zM45.5 236.5h1.1v1.1h-1.1zM45.5 247.5h1.1v1.1h-1.1zM46 221.5h1.1v1.1h-1.1zM46 223h1.1v1.1h-1.1zM46 224h1.1v1.1h-1.1zM46 227.5h1.1v1.1h-1.1zM46 229.5h1.1v1.1h-1.1zM46 234.5h1.1v1.1h-1.1zM46 235h1.1v1.1h-1.1zM46 235.5h1.1v1.1h-1.1zM46 246h1.1v1.1h-1.1zM46.5 223h1.1v1.1h-1.1zM46.5 224h1.1v1.1h-1.1zM46.5 234.5h1.1v1.1h-1.1zM46.5 235h1.1v1.1h-1.1zM46.5 242.5h1.1v1.1h-1.1zM46.5 246.5h1.1v1.1h-1.1zM47 220.5h1.1v1.1h-1.1zM47 222h1.1v1.1h-1.1zM47 224.5h1.1v1.1h-1.1zM47 227.5h1.1v1.1h-1.1zM47 228h1.1v1.1h-1.1zM47 243h1.1v1.1h-1.1zM47 249.5h1.1v1.1h-1.1zM47 251h1.1v1.1h-1.1zM47.5 220.5h1.1v1.1h-1.1zM47.5 229.5h1.1v1.1h-1.1zM47.5 231h1.1v1.1h-1.1zM47.5 234h1.1v1.1h-1.1zM47.5 246h1.1v1.1h-1.1zM47.5 247h1.1v1.1h-1.1zM48 220.5h1.1v1.1h-1.1zM48 228.5h1.1v1.1h-1.1zM48 229h1.1v1.1h-1.1zM48 230h1.1v1.1h-1.1zM48 230.5h1.1v1.1h-1.1zM48 232.5h1.1v1.1h-1.1zM48 233.5h1.1v1.1h-1.1zM48 234.5h1.1v1.1h-1.1zM48 235h1.1v1.1h-1.1zM48 237h1.1v1.1h-1.1zM48 240h1.1v1.1h-1.1zM48 240.5h1.1v1.1h-1.1zM48 242h1.1v1.1h-1.1zM48 243h1.1v1.1h-1.1zM48 244.5h1.1v1.1h-1.1zM48 246h1.1v1.1h-1.1zM48.5 219h1.1v1.1h-1.1zM48.5 226h1.1v1.1h-1.1zM48.5 228.5h1.1v1.1h-1.1zM48.5 229.5h1.1v1.1h-1.1zM48.5 230h1.1v1.1h-1.1zM48.5 230.5h1.1v1.1h-1.1zM48.5 232h1.1v1.1h-1.1zM48.5 234.5h1.1v1.1h-1.1zM48.5 235h1.1v1.1h-1.1zM48.5 236h1.1v1.1h-1.1zM49 217.5h1.1v1.1h-1.1zM49 219h1.1v1.1h-1.1zM49 222.5h1.1v1.1h-1.1zM49 224.5h1.1v1.1h-1.1zM49 225.5h1.1v1.1h-1.1zM49 226h1.1v1.1h-1.1zM49 230h1.1v1.1h-1.1zM49 231.5h1.1v1.1h-1.1zM49 232h1.1v1.1h-1.1zM49 232.5h1.1v1.1h-1.1zM49 233.5h1.1v1.1h-1.1zM49 235.5h1.1v1.1h-1.1zM49 238.5h1.1v1.1h-1.1zM49 240h1.1v1.1h-1.1zM49 240.5h1.1v1.1h-1.1zM49 241h1.1v1.1h-1.1zM49 246.5h1.1v1.1h-1.1zM49 247.5h1.1v1.1h-1.1zM49 248h1.1v1.1h-1.1zM49.5 222.5h1.1v1.1h-1.1zM49.5 223h1.1v1.1h-1.1zM49.5 227.5h1.1v1.1h-1.1zM49.5 228h1.1v1.1h-1.1zM49.5 228.5h1.1v1.1h-1.1zM49.5 229h1.1v1.1h-1.1zM49.5 229.5h1.1v1.1h-1.1zM49.5 231.5h1.1v1.1h-1.1zM49.5 232.5h1.1v1.1h-1.1zM49.5 234h1.1v1.1h-1.1zM49.5 237h1.1v1.1h-1.1zM49.5 238.5h1.1v1.1h-1.1zM49.5 245h1.1v1.1h-1.1zM49.5 245.5h1.1v1.1h-1.1zM49.5 246.5h1.1v1.1h-1.1zM49.5 247h1.1v1.1h-1.1zM50 218h1.1v1.1h-1.1zM50 226.5h1.1v1.1h-1.1zM50 230h1.1v1.1h-1.1zM50 230.5h1.1v1.1h-1.1zM50 231.5h1.1v1.1h-1.1zM50 233h1.1v1.1h-1.1zM50 234h1.1v1.1h-1.1zM50 234.5h1.1v1.1h-1.1zM50 235.5h1.1v1.1h-1.1zM50 238h1.1v1.1h-1.1zM50 239h1.1v1.1h-1.1zM50 239.5h1.1v1.1h-1.1zM50 240h1.1v1.1h-1.1zM50 240.5h1.1v1.1h-1.1zM50 241h1.1v1.1h-1.1zM50 242h1.1v1.1h-1.1zM50 243.5h1.1v1.1h-1.1zM50 245.5h1.1v1.1h-1.1zM50 250.5h1.1v1.1h-1.1zM50.5 216.5h1.1v1.1h-1.1zM50.5 218.5h1.1v1.1h-1.1zM50.5 219.5h1.1v1.1h-1.1zM50.5 220h1.1v1.1h-1.1zM50.5 223.5h1.1v1.1h-1.1zM50.5 224.5h1.1v1.1h-1.1zM50.5 226.5h1.1v1.1h-1.1zM50.5 228.5h1.1v1.1h-1.1zM50.5 229h1.1v1.1h-1.1zM50.5 230h1.1v1.1h-1.1zM50.5 235h1.1v1.1h-1.1zM50.5 236.5h1.1v1.1h-1.1zM50.5 238h1.1v1.1h-1.1zM50.5 238.5h1.1v1.1h-1.1zM50.5 239.5h1.1v1.1h-1.1zM50.5 245h1.1v1.1h-1.1zM50.5 248h1.1v1.1h-1.1zM50.5 248.5h1.1v1.1h-1.1zM50.5 252h1.1v1.1h-1.1zM51 217h1.1v1.1h-1.1zM51 219h1.1v1.1h-1.1zM51 222.5h1.1v1.1h-1.1zM51 223h1.1v1.1h-1.1zM51 227h1.1v1.1h-1.1zM51 228h1.1v1.1h-1.1zM51 229h1.1v1.1h-1.1zM51 229.5h1.1v1.1h-1.1zM51 231.5h1.1v1.1h-1.1zM51 232h1.1v1.1h-1.1zM51 233.5h1.1v1.1h-1.1zM51 234h1.1v1.1h-1.1zM51 234.5h1.1v1.1h-1.1zM51 236h1.1v1.1h-1.1zM51 236.5h1.1v1.1h-1.1zM51 237.5h1.1v1.1h-1.1zM51 239.5h1.1v1.1h-1.1zM51 240h1.1v1.1h-1.1zM51 243.5h1.1v1.1h-1.1zM51 245.5h1.1v1.1h-1.1zM51 246h1.1v1.1h-1.1zM51 252h1.1v1.1h-1.1zM51.5 220.5h1.1v1.1h-1.1zM51.5 223.5h1.1v1.1h-1.1zM51.5 224.5h1.1v1.1h-1.1zM51.5 225.5h1.1v1.1h-1.1zM51.5 228.5h1.1v1.1h-1.1zM51.5 230.5h1.1v1.1h-1.1zM51.5 232h1.1v1.1h-1.1zM51.5 233h1.1v1.1h-1.1zM51.5 234.5h1.1v1.1h-1.1zM51.5 238.5h1.1v1.1h-1.1zM51.5 239.5h1.1v1.1h-1.1zM51.5 240.5h1.1v1.1h-1.1zM51.5 243.5h1.1v1.1h-1.1zM51.5 251h1.1v1.1h-1.1zM52 221h1.1v1.1h-1.1zM52 228h1.1v1.1h-1.1zM52 230.5h1.1v1.1h-1.1zM52 232.5h1.1v1.1h-1.1zM52 233.5h1.1v1.1h-1.1zM52 234h1.1v1.1h-1.1zM52 236h1.1v1.1h-1.1zM52 238h1.1v1.1h-1.1zM52 238.5h1.1v1.1h-1.1zM52 241.5h1.1v1.1h-1.1zM52 242h1.1v1.1h-1.1zM52 243.5h1.1v1.1h-1.1zM52 244.5h1.1v1.1h-1.1zM52 245.5h1.1v1.1h-1.1zM52 247.5h1.1v1.1h-1.1zM52.5 219.5h1.1v1.1h-1.1zM52.5 228.5h1.1v1.1h-1.1zM52.5 230h1.1v1.1h-1.1zM52.5 230.5h1.1v1.1h-1.1zM52.5 231h1.1v1.1h-1.1zM52.5 232.5h1.1v1.1h-1.1zM52.5 234h1.1v1.1h-1.1zM52.5 237h1.1v1.1h-1.1zM52.5 237.5h1.1v1.1h-1.1zM52.5 239h1.1v1.1h-1.1zM52.5 239.5h1.1v1.1h-1.1zM52.5 240h1.1v1.1h-1.1zM52.5 240.5h1.1v1.1h-1.1zM52.5 242h1.1v1.1h-1.1zM52.5 247h1.1v1.1h-1.1zM52.5 250.5h1.1v1.1h-1.1zM53 219.5h1.1v1.1h-1.1zM53 220h1.1v1.1h-1.1zM53 220.5h1.1v1.1h-1.1zM53 221.5h1.1v1.1h-1.1zM53 222h1.1v1.1h-1.1zM53 223h1.1v1.1h-1.1zM53 225h1.1v1.1h-1.1zM53 226h1.1v1.1h-1.1zM53 227h1.1v1.1h-1.1zM53 231.5h1.1v1.1h-1.1zM53 232.5h1.1v1.1h-1.1zM53 233h1.1v1.1h-1.1zM53 235h1.1v1.1h-1.1zM53 235.5h1.1v1.1h-1.1zM53 236h1.1v1.1h-1.1zM53 236.5h1.1v1.1h-1.1zM53 239.5h1.1v1.1h-1.1zM53 240.5h1.1v1.1h-1.1zM53 242h1.1v1.1h-1.1zM53 245h1.1v1.1h-1.1zM53 245.5h1.1v1.1h-1.1zM53 250h1.1v1.1h-1.1zM53 250.5h1.1v1.1h-1.1zM53.5 219h1.1v1.1h-1.1zM53.5 219.5h1.1v1.1h-1.1zM53.5 220.5h1.1v1.1h-1.1zM53.5 223h1.1v1.1h-1.1zM53.5 223.5h1.1v1.1h-1.1zM53.5 225h1.1v1.1h-1.1zM53.5 227h1.1v1.1h-1.1zM53.5 227.5h1.1v1.1h-1.1zM53.5 228.5h1.1v1.1h-1.1zM53.5 230h1.1v1.1h-1.1zM53.5 230.5h1.1v1.1h-1.1zM53.5 231h1.1v1.1h-1.1zM53.5 231.5h1.1v1.1h-1.1zM53.5 232h1.1v1.1h-1.1zM53.5 232.5h1.1v1.1h-1.1zM53.5 236h1.1v1.1h-1.1zM53.5 237h1.1v1.1h-1.1zM53.5 238h1.1v1.1h-1.1zM53.5 240.5h1.1v1.1h-1.1zM53.5 241h1.1v1.1h-1.1zM53.5 241.5h1.1v1.1h-1.1zM53.5 243h1.1v1.1h-1.1zM53.5 244h1.1v1.1h-1.1zM54 219h1.1v1.1h-1.1zM54 219.5h1.1v1.1h-1.1zM54 222h1.1v1.1h-1.1zM54 225.5h1.1v1.1h-1.1zM54 226.5h1.1v1.1h-1.1zM54 227h1.1v1.1h-1.1zM54 228h1.1v1.1h-1.1zM54 228.5h1.1v1.1h-1.1zM54 231.5h1.1v1.1h-1.1zM54 232h1.1v1.1h-1.1zM54 235h1.1v1.1h-1.1zM54 236h1.1v1.1h-1.1zM54 237h1.1v1.1h-1.1zM54 238.5h1.1v1.1h-1.1zM54 239h1.1v1.1h-1.1zM54 239.5h1.1v1.1h-1.1zM54 240.5h1.1v1.1h-1.1zM54 241.5h1.1v1.1h-1.1zM54 242h1.1v1.1h-1.1zM54 245h1.1v1.1h-1.1zM54 249h1.1v1.1h-1.1zM54.5 217.5h1.1v1.1h-1.1zM54.5 218h1.1v1.1h-1.1zM54.5 223.5h1.1v1.1h-1.1zM54.5 226.5h1.1v1.1h-1.1zM54.5 229h1.1v1.1h-1.1zM54.5 230h1.1v1.1h-1.1zM54.5 230.5h1.1v1.1h-1.1zM54.5 232h1.1v1.1h-1.1zM54.5 233h1.1v1.1h-1.1zM54.5 235.5h1.1v1.1h-1.1zM54.5 236h1.1v1.1h-1.1zM54.5 238h1.1v1.1h-1.1zM54.5 238.5h1.1v1.1h-1.1zM54.5 241.5h1.1v1.1h-1.1zM54.5 242h1.1v1.1h-1.1zM54.5 243h1.1v1.1h-1.1zM54.5 246h1.1v1.1h-1.1zM54.5 247.5h1.1v1.1h-1.1zM54.5 248h1.1v1.1h-1.1zM54.5 249h1.1v1.1h-1.1zM54.5 252h1.1v1.1h-1.1zM55 221.5h1.1v1.1h-1.1zM55 223h1.1v1.1h-1.1zM55 227.5h1.1v1.1h-1.1zM55 228h1.1v1.1h-1.1zM55 229h1.1v1.1h-1.1zM55 230h1.1v1.1h-1.1zM55 230.5h1.1v1.1h-1.1zM55 231h1.1v1.1h-1.1zM55 232h1.1v1.1h-1.1zM55 232.5h1.1v1.1h-1.1zM55 233h1.1v1.1h-1.1zM55 234h1.1v1.1h-1.1zM55 236.5h1.1v1.1h-1.1zM55 237.5h1.1v1.1h-1.1zM55 240.5h1.1v1.1h-1.1zM55 242.5h1.1v1.1h-1.1zM55 249h1.1v1.1h-1.1zM55.5 216h1.1v1.1h-1.1zM55.5 219h1.1v1.1h-1.1zM55.5 222.5h1.1v1.1h-1.1zM55.5 223.5h1.1v1.1h-1.1zM55.5 224.5h1.1v1.1h-1.1zM55.5 227.5h1.1v1.1h-1.1zM55.5 228h1.1v1.1h-1.1zM55.5 228.5h1.1v1.1h-1.1zM55.5 230h1.1v1.1h-1.1zM55.5 230.5h1.1v1.1h-1.1zM55.5 232h1.1v1.1h-1.1zM55.5 232.5h1.1v1.1h-1.1zM55.5 234.5h1.1v1.1h-1.1zM55.5 235.5h1.1v1.1h-1.1zM55.5 238h1.1v1.1h-1.1zM55.5 240.5h1.1v1.1h-1.1zM55.5 242.5h1.1v1.1h-1.1zM55.5 243.5h1.1v1.1h-1.1zM55.5 244h1.1v1.1h-1.1zM55.5 251h1.1v1.1h-1.1zM56 223.5h1.1v1.1h-1.1zM56 224h1.1v1.1h-1.1zM56 225h1.1v1.1h-1.1zM56 226h1.1v1.1h-1.1zM56 227.5h1.1v1.1h-1.1zM56 229h1.1v1.1h-1.1zM56 231h1.1v1.1h-1.1zM56 231.5h1.1v1.1h-1.1zM56 233h1.1v1.1h-1.1zM56 235h1.1v1.1h-1.1zM56 236.5h1.1v1.1h-1.1zM56 237h1.1v1.1h-1.1zM56 238h1.1v1.1h-1.1zM56 238.5h1.1v1.1h-1.1zM56 239h1.1v1.1h-1.1zM56 239.5h1.1v1.1h-1.1zM56 241h1.1v1.1h-1.1zM56 242h1.1v1.1h-1.1zM56 244h1.1v1.1h-1.1zM56 245h1.1v1.1h-1.1zM56 245.5h1.1v1.1h-1.1zM56 248.5h1.1v1.1h-1.1zM56 252h1.1v1.1h-1.1zM56.5 217.5h1.1v1.1h-1.1zM56.5 223.5h1.1v1.1h-1.1zM56.5 225.5h1.1v1.1h-1.1zM56.5 226h1.1v1.1h-1.1zM56.5 226.5h1.1v1.1h-1.1zM56.5 227.5h1.1v1.1h-1.1zM56.5 228h1.1v1.1h-1.1zM56.5 229h1.1v1.1h-1.1zM56.5 229.5h1.1v1.1h-1.1zM56.5 230h1.1v1.1h-1.1zM56.5 231h1.1v1.1h-1.1zM56.5 232.5h1.1v1.1h-1.1zM56.5 234.5h1.1v1.1h-1.1zM56.5 235.5h1.1v1.1h-1.1zM56.5 237h1.1v1.1h-1.1zM56.5 237.5h1.1v1.1h-1.1zM56.5 238h1.1v1.1h-1.1zM56.5 240h1.1v1.1h-1.1zM56.5 244.5h1.1v1.1h-1.1zM56.5 246h1.1v1.1h-1.1zM56.5 247.5h1.1v1.1h-1.1zM56.5 249.5h1.1v1.1h-1.1zM56.5 250.5h1.1v1.1h-1.1zM56.5 251.5h1.1v1.1h-1.1zM57 222.5h1.1v1.1h-1.1zM57 224h1.1v1.1h-1.1zM57 224.5h1.1v1.1h-1.1zM57 227.5h1.1v1.1h-1.1zM57 229.5h1.1v1.1h-1.1zM57 230h1.1v1.1h-1.1zM57 230.5h1.1v1.1h-1.1zM57 231h1.1v1.1h-1.1zM57 231.5h1.1v1.1h-1.1zM57 232.5h1.1v1.1h-1.1zM57 233h1.1v1.1h-1.1zM57 233.5h1.1v1.1h-1.1zM57 235.5h1.1v1.1h-1.1zM57 236h1.1v1.1h-1.1zM57 237.5h1.1v1.1h-1.1zM57 238.5h1.1v1.1h-1.1zM57 239h1.1v1.1h-1.1zM57 243h1.1v1.1h-1.1zM57 244h1.1v1.1h-1.1zM57 246.5h1.1v1.1h-1.1zM57 247.5h1.1v1.1h-1.1zM57.5 216.5h1.1v1.1h-1.1zM57.5 219.5h1.1v1.1h-1.1zM57.5 222.5h1.1v1.1h-1.1zM57.5 223h1.1v1.1h-1.1zM57.5 224.5h1.1v1.1h-1.1zM57.5 228.5h1.1v1.1h-1.1zM57.5 229h1.1v1.1h-1.1zM57.5 229.5h1.1v1.1h-1.1zM57.5 231h1.1v1.1h-1.1zM57.5 231.5h1.1v1.1h-1.1zM57.5 234h1.1v1.1h-1.1zM57.5 234.5h1.1v1.1h-1.1zM57.5 236h1.1v1.1h-1.1zM57.5 237h1.1v1.1h-1.1zM57.5 238.5h1.1v1.1h-1.1zM57.5 242h1.1v1.1h-1.1zM57.5 243h1.1v1.1h-1.1zM57.5 244h1.1v1.1h-1.1zM57.5 245.5h1.1v1.1h-1.1zM57.5 246.5h1.1v1.1h-1.1zM57.5 248h1.1v1.1h-1.1zM58 219.5h1.1v1.1h-1.1zM58 221h1.1v1.1h-1.1zM58 225.5h1.1v1.1h-1.1zM58 226h1.1v1.1h-1.1zM58 227h1.1v1.1h-1.1zM58 228h1.1v1.1h-1.1zM58 230h1.1v1.1h-1.1zM58 231h1.1v1.1h-1.1zM58 233h1.1v1.1h-1.1zM58 236h1.1v1.1h-1.1zM58 237.5h1.1v1.1h-1.1zM58 238.5h1.1v1.1h-1.1zM58 240h1.1v1.1h-1.1zM58 241.5h1.1v1.1h-1.1zM58 242.5h1.1v1.1h-1.1zM58 243h1.1v1.1h-1.1zM58 246.5h1.1v1.1h-1.1zM58 250h1.1v1.1h-1.1zM58.5 214.5h1.1v1.1h-1.1zM58.5 220.5h1.1v1.1h-1.1zM58.5 221.5h1.1v1.1h-1.1zM58.5 223h1.1v1.1h-1.1zM58.5 227.5h1.1v1.1h-1.1zM58.5 229h1.1v1.1h-1.1zM58.5 229.5h1.1v1.1h-1.1zM58.5 230h1.1v1.1h-1.1zM58.5 230.5h1.1v1.1h-1.1zM58.5 231h1.1v1.1h-1.1zM58.5 231.5h1.1v1.1h-1.1zM58.5 232h1.1v1.1h-1.1zM58.5 232.5h1.1v1.1h-1.1zM58.5 233h1.1v1.1h-1.1zM58.5 235h1.1v1.1h-1.1zM58.5 235.5h1.1v1.1h-1.1zM58.5 236.5h1.1v1.1h-1.1zM58.5 237h1.1v1.1h-1.1zM58.5 238h1.1v1.1h-1.1zM58.5 238.5h1.1v1.1h-1.1zM58.5 241.5h1.1v1.1h-1.1zM58.5 242h1.1v1.1h-1.1zM58.5 246h1.1v1.1h-1.1zM58.5 246.5h1.1v1.1h-1.1zM58.5 249h1.1v1.1h-1.1zM58.5 249.5h1.1v1.1h-1.1zM59 215.5h1.1v1.1h-1.1zM59 219.5h1.1v1.1h-1.1zM59 220h1.1v1.1h-1.1zM59 223h1.1v1.1h-1.1zM59 225h1.1v1.1h-1.1zM59 227h1.1v1.1h-1.1zM59 229h1.1v1.1h-1.1zM59 230.5h1.1v1.1h-1.1zM59 231.5h1.1v1.1h-1.1zM59 232.5h1.1v1.1h-1.1zM59 234h1.1v1.1h-1.1zM59 236h1.1v1.1h-1.1zM59 236.5h1.1v1.1h-1.1zM59 237h1.1v1.1h-1.1zM59 238h1.1v1.1h-1.1zM59 238.5h1.1v1.1h-1.1zM59.5 222h1.1v1.1h-1.1zM59.5 223.5h1.1v1.1h-1.1zM59.5 227h1.1v1.1h-1.1zM59.5 227.5h1.1v1.1h-1.1zM59.5 228h1.1v1.1h-1.1zM59.5 228.5h1.1v1.1h-1.1zM59.5 229.5h1.1v1.1h-1.1zM59.5 230h1.1v1.1h-1.1zM59.5 230.5h1.1v1.1h-1.1zM59.5 231.5h1.1v1.1h-1.1zM59.5 233h1.1v1.1h-1.1zM59.5 234h1.1v1.1h-1.1zM59.5 234.5h1.1v1.1h-1.1zM59.5 235.5h1.1v1.1h-1.1zM59.5 236.5h1.1v1.1h-1.1zM59.5 237.5h1.1v1.1h-1.1zM59.5 241h1.1v1.1h-1.1zM59.5 241.5h1.1v1.1h-1.1zM59.5 242h1.1v1.1h-1.1zM59.5 242.5h1.1v1.1h-1.1zM59.5 243h1.1v1.1h-1.1zM59.5 244h1.1v1.1h-1.1zM59.5 244.5h1.1v1.1h-1.1zM59.5 245.5h1.1v1.1h-1.1zM60 216h1.1v1.1h-1.1zM60 220h1.1v1.1h-1.1zM60 222.5h1.1v1.1h-1.1zM60 224h1.1v1.1h-1.1zM60 227h1.1v1.1h-1.1zM60 235h1.1v1.1h-1.1zM60 236h1.1v1.1h-1.1zM60 237h1.1v1.1h-1.1zM60 238h1.1v1.1h-1.1zM60 238.5h1.1v1.1h-1.1zM60 239.5h1.1v1.1h-1.1zM60 245.5h1.1v1.1h-1.1zM60 247h1.1v1.1h-1.1zM60 248.5h1.1v1.1h-1.1zM60.5 219.5h1.1v1.1h-1.1zM60.5 224h1.1v1.1h-1.1zM60.5 224.5h1.1v1.1h-1.1zM60.5 226.5h1.1v1.1h-1.1zM60.5 229h1.1v1.1h-1.1zM60.5 229.5h1.1v1.1h-1.1zM60.5 230h1.1v1.1h-1.1zM60.5 231h1.1v1.1h-1.1zM60.5 232h1.1v1.1h-1.1zM60.5 233h1.1v1.1h-1.1zM60.5 234h1.1v1.1h-1.1zM60.5 236.5h1.1v1.1h-1.1zM60.5 237.5h1.1v1.1h-1.1zM60.5 238.5h1.1v1.1h-1.1zM60.5 241h1.1v1.1h-1.1zM60.5 243h1.1v1.1h-1.1zM60.5 244h1.1v1.1h-1.1zM60.5 246.5h1.1v1.1h-1.1zM60.5 248h1.1v1.1h-1.1zM60.5 248.5h1.1v1.1h-1.1zM60.5 249h1.1v1.1h-1.1zM61 217.5h1.1v1.1h-1.1zM61 220h1.1v1.1h-1.1zM61 223.5h1.1v1.1h-1.1zM61 224h1.1v1.1h-1.1zM61 226.5h1.1v1.1h-1.1zM61 228.5h1.1v1.1h-1.1zM61 230h1.1v1.1h-1.1zM61 231h1.1v1.1h-1.1zM61 232h1.1v1.1h-1.1zM61 232.5h1.1v1.1h-1.1zM61 233h1.1v1.1h-1.1zM61 237.5h1.1v1.1h-1.1zM61 239h1.1v1.1h-1.1zM61 245h1.1v1.1h-1.1zM61 245.5h1.1v1.1h-1.1zM61.5 217h1.1v1.1h-1.1zM61.5 218h1.1v1.1h-1.1zM61.5 219.5h1.1v1.1h-1.1zM61.5 220h1.1v1.1h-1.1zM61.5 223.5h1.1v1.1h-1.1zM61.5 225h1.1v1.1h-1.1zM61.5 225.5h1.1v1.1h-1.1zM61.5 228h1.1v1.1h-1.1zM61.5 229h1.1v1.1h-1.1zM61.5 230h1.1v1.1h-1.1zM61.5 231.5h1.1v1.1h-1.1zM61.5 232h1.1v1.1h-1.1zM61.5 241h1.1v1.1h-1.1zM61.5 242h1.1v1.1h-1.1zM61.5 242.5h1.1v1.1h-1.1zM61.5 244h1.1v1.1h-1.1zM61.5 245h1.1v1.1h-1.1zM61.5 246.5h1.1v1.1h-1.1zM61.5 248h1.1v1.1h-1.1zM61.5 249.5h1.1v1.1h-1.1zM61.5 251h1.1v1.1h-1.1zM61.5 252.5h1.1v1.1h-1.1zM62 224.5h1.1v1.1h-1.1zM62 225h1.1v1.1h-1.1zM62 226.5h1.1v1.1h-1.1zM62 227h1.1v1.1h-1.1zM62 228h1.1v1.1h-1.1zM62 229h1.1v1.1h-1.1zM62 231.5h1.1v1.1h-1.1zM62 232h1.1v1.1h-1.1zM62 236h1.1v1.1h-1.1zM62 236.5h1.1v1.1h-1.1zM62 241h1.1v1.1h-1.1zM62 248.5h1.1v1.1h-1.1zM62.5 220h1.1v1.1h-1.1zM62.5 220.5h1.1v1.1h-1.1zM62.5 221.5h1.1v1.1h-1.1zM62.5 223.5h1.1v1.1h-1.1zM62.5 226h1.1v1.1h-1.1zM62.5 228h1.1v1.1h-1.1zM62.5 228.5h1.1v1.1h-1.1zM62.5 229.5h1.1v1.1h-1.1zM62.5 231h1.1v1.1h-1.1zM62.5 234h1.1v1.1h-1.1zM62.5 234.5h1.1v1.1h-1.1zM62.5 235.5h1.1v1.1h-1.1zM62.5 236.5h1.1v1.1h-1.1zM62.5 237.5h1.1v1.1h-1.1zM62.5 238h1.1v1.1h-1.1zM62.5 239.5h1.1v1.1h-1.1zM62.5 250h1.1v1.1h-1.1zM63 222h1.1v1.1h-1.1zM63 227h1.1v1.1h-1.1zM63 233.5h1.1v1.1h-1.1zM63 235h1.1v1.1h-1.1zM63 237h1.1v1.1h-1.1zM63 237.5h1.1v1.1h-1.1zM63 243h1.1v1.1h-1.1zM63 244.5h1.1v1.1h-1.1zM63.5 217h1.1v1.1h-1.1zM63.5 229h1.1v1.1h-1.1zM63.5 229.5h1.1v1.1h-1.1zM63.5 233.5h1.1v1.1h-1.1zM63.5 235h1.1v1.1h-1.1zM63.5 240h1.1v1.1h-1.1zM63.5 246.5h1.1v1.1h-1.1zM64 220.5h1.1v1.1h-1.1zM64 222h1.1v1.1h-1.1zM64 225h1.1v1.1h-1.1zM64 227.5h1.1v1.1h-1.1zM64 228h1.1v1.1h-1.1zM64 229h1.1v1.1h-1.1zM64 229.5h1.1v1.1h-1.1zM64 231h1.1v1.1h-1.1zM64 232h1.1v1.1h-1.1zM64 234.5h1.1v1.1h-1.1zM64 236h1.1v1.1h-1.1zM64 236.5h1.1v1.1h-1.1zM64 237h1.1v1.1h-1.1zM64 238.5h1.1v1.1h-1.1zM64 239h1.1v1.1h-1.1zM64 239.5h1.1v1.1h-1.1zM64 240h1.1v1.1h-1.1zM64 242.5h1.1v1.1h-1.1zM64 244.5h1.1v1.1h-1.1zM64.5 220.5h1.1v1.1h-1.1zM64.5 222h1.1v1.1h-1.1zM64.5 223h1.1v1.1h-1.1zM64.5 231.5h1.1v1.1h-1.1zM64.5 232h1.1v1.1h-1.1zM64.5 232.5h1.1v1.1h-1.1zM64.5 233h1.1v1.1h-1.1zM64.5 233.5h1.1v1.1h-1.1zM64.5 234.5h1.1v1.1h-1.1zM64.5 235h1.1v1.1h-1.1zM64.5 236h1.1v1.1h-1.1zM64.5 240.5h1.1v1.1h-1.1zM65 225h1.1v1.1h-1.1zM65 230h1.1v1.1h-1.1zM65 232.5h1.1v1.1h-1.1zM65 233.5h1.1v1.1h-1.1zM65 237h1.1v1.1h-1.1zM65 238h1.1v1.1h-1.1zM65 238.5h1.1v1.1h-1.1zM65 244h1.1v1.1h-1.1zM65 247h1.1v1.1h-1.1zM65 248.5h1.1v1.1h-1.1zM65.5 225.5h1.1v1.1h-1.1zM65.5 227h1.1v1.1h-1.1zM65.5 227.5h1.1v1.1h-1.1zM65.5 231h1.1v1.1h-1.1zM65.5 232.5h1.1v1.1h-1.1zM65.5 234.5h1.1v1.1h-1.1zM65.5 243h1.1v1.1h-1.1zM65.5 245h1.1v1.1h-1.1zM66 230.5h1.1v1.1h-1.1zM66 232h1.1v1.1h-1.1zM66 233.5h1.1v1.1h-1.1zM66 234.5h1.1v1.1h-1.1zM66 240.5h1.1v1.1h-1.1zM66 247h1.1v1.1h-1.1zM66.5 219.5h1.1v1.1h-1.1zM66.5 226h1.1v1.1h-1.1zM66.5 229.5h1.1v1.1h-1.1zM66.5 232h1.1v1.1h-1.1zM66.5 235h1.1v1.1h-1.1zM66.5 237h1.1v1.1h-1.1zM66.5 238h1.1v1.1h-1.1zM66.5 239h1.1v1.1h-1.1zM66.5 241.5h1.1v1.1h-1.1zM67 234.5h1.1v1.1h-1.1zM67 235.5h1.1v1.1h-1.1zM67 237.5h1.1v1.1h-1.1zM67 238.5h1.1v1.1h-1.1zM67.5 219.5h1.1v1.1h-1.1zM67.5 228h1.1v1.1h-1.1zM67.5 229h1.1v1.1h-1.1zM67.5 230.5h1.1v1.1h-1.1zM67.5 233.5h1.1v1.1h-1.1zM67.5 235.5h1.1v1.1h-1.1zM67.5 236h1.1v1.1h-1.1zM67.5 238h1.1v1.1h-1.1zM67.5 241h1.1v1.1h-1.1zM67.5 244.5h1.1v1.1h-1.1zM68 223h1.1v1.1h-1.1zM68 231h1.1v1.1h-1.1zM68 231.5h1.1v1.1h-1.1zM68 237.5h1.1v1.1h-1.1zM68 240.5h1.1v1.1h-1.1zM68 241h1.1v1.1h-1.1zM68 243h1.1v1.1h-1.1zM68 247h1.1v1.1h-1.1zM68.5 237.5h1.1v1.1h-1.1zM69 230h1.1v1.1h-1.1zM69 231.5h1.1v1.1h-1.1zM69 233.5h1.1v1.1h-1.1zM69.5 229.5h1.1v1.1h-1.1zM69.5 239h1.1v1.1h-1.1zM70 231.5h1.1v1.1h-1.1zM70.5 237h1.1v1.1h-1.1zM71 232h1.1v1.1h-1.1zM72 221h1.1v1.1h-1.1zM74.5 235.5h1.1v1.1h-1.1z"/>
<path fill="#666" d="M196.5 232.5h1.1v1.1h-1.1zM211.5 185.5h1.1v1.1h-1.1z"/>
<path fill="#555" d="M146.5 187.5h1.1v1.1h-1.1zM146.5 196.5h1.1v1.1h-1.1zM146.5 198.5h1.1v1.1h-1.1zM147 182h1.1v1.1h-1.1zM147 190h1.1v1.1h-1.1zM147.5 186.5h1.1v1.1h-1.1zM148 192.5h1.1v1.1h-1.1zM148 194h1.1v1.1h-1.1zM150 184h1.1v1.1h-1.1zM150 197h1.1v1.1h-1.1zM151 191h1.1v1.1h-1.1zM151.5 188h1.1v1.1h-1.1zM152.5 180.5h1.1v1.1h-1.1zM152.5 189.5h1.1v1.1h-1.1zM153 198.5h1.1v1.1h-1.1zM153.5 188h1.1v1.1h-1.1zM153.5 194h1.1v1.1h-1.1zM154 188.5h1.1v1.1h-1.1zM154 190h1.1v1.1h-1.1zM156 181.5h1.1v1.1h-1.1zM156 190h1.1v1.1h-1.1zM156 193h1.1v1.1h-1.1zM156.5 192h1.1v1.1h-1.1zM157 185h1.1v1.1h-1.1zM157 188h1.1v1.1h-1.1zM157 199.5h1.1v1.1h-1.1zM157.5 186h1.1v1.1h-1.1zM157.5 188.5h1.1v1.1h-1.1zM158.5 197.5h1.1v1.1h-1.1zM159.5 186.5h1.1v1.1h-1.1zM159.5 195.5h1.1v1.1h-1.1zM160.5 185.5h1.1v1.1h-1.1zM160.5 194.5h1.1v1.1h-1.1zM161.5 184h1.1v1.1h-1.1zM161.5 192h1.1v1.1h-1.1zM163 187.5h1.1v1.1h-1.1zM163 190h1.1v1.1h-1.1zM163 191.5h1.1v1.1h-1.1zM163 195h1.1v1.1h-1.1zM163.5 198h1.1v1.1h-1.1zM164 186.5h1.1v1.1h-1.1zM164.5 187.5h1.1v1.1h-1.1zM165 193.5h1.1v1.1h-1.1zM166.5 193h1.1v1.1h-1.1zM168.5 191.5h1.1v1.1h-1.1zM175.5 231h1.1v1.1h-1.1zM176 223h1.1v1.1h-1.1zM177 222h1.1v1.1h-1.1zM177 232h1.1v1.1h-1.1zM178 225h1.1v1.1h-1.1zM178 233h1.1v1.1h-1.1zM179 219.5h1.1v1.1h-1.1zM179 228.5h1.1v1.1h-1.1zM180 230.5h1.1v1.1h-1.1zM180.5 222.5h1.1v1.1h-1.1zM180.5 230.5h1.1v1.1h-1.1zM180.5 235h1.1v1.1h-1.1zM181 222.5h1.1v1.1h-1.1zM181.5 233.5h1.1v1.1h-1.1zM182.5 230h1.1v1.1h-1.1zM184.5 223h1.1v1.1h-1.1zM185.5 221h1.1v1.1h-1.1zM186.5 222.5h1.1v1.1h-1.1z"/>
<path fill="#444" d="M155.5 215.5h1.1v1.1h-1.1zM155.5 216.5h1.1v1.1h-1.1zM157 219h1.1v1.1h-1.1zM158 213.5h1.1v1.1h-1.1zM158 217h1.1v1.1h-1.1zM160 220.5h1.1v1.1h-1.1zM160.5 216.5h1.1v1.1h-1.1zM160.5 222h1.1v1.1h-1.1zM161 208.5h1.1v1.1h-1.1zM161 212.5h1.1v1.1h-1.1zM161 219.5h1.1v1.1h-1.1zM161 220.5h1.1v1.1h-1.1zM161.5 218.5h1.1v1.1h-1.1zM162.5 211h1.1v1.1h-1.1zM162.5 219h1.1v1.1h-1.1zM163 220.5h1.1v1.1h-1.1zM163 221h1.1v1.1h-1.1zM163.5 202.5h1.1v1.1h-1.1zM164 210.5h1.1v1.1h-1.1zM164 221.5h1.1v1.1h-1.1zM164.5 212h1.1v1.1h-1.1zM164.5 218h1.1v1.1h-1.1zM164.5 219.5h1.1v1.1h-1.1zM165 220.5h1.1v1.1h-1.1zM165.5 215h1.1v1.1h-1.1zM165.5 217h1.1v1.1h-1.1zM166 218h1.1v1.1h-1.1zM166.5 207.5h1.1v1.1h-1.1zM166.5 208h1.1v1.1h-1.1zM166.5 208.5h1.1v1.1h-1.1zM167 207.5h1.1v1.1h-1.1zM167.5 210h1.1v1.1h-1.1zM167.5 214h1.1v1.1h-1.1zM167.5 217.5h1.1v1.1h-1.1zM168 212.5h1.1v1.1h-1.1zM168 214.5h1.1v1.1h-1.1zM168.5 207.5h1.1v1.1h-1.1zM168.5 209h1.1v1.1h-1.1zM168.5 216.5h1.1v1.1h-1.1zM168.5 222.5h1.1v1.1h-1.1zM169 205.5h1.1v1.1h-1.1zM169 213.5h1.1v1.1h-1.1zM170 212h1.1v1.1h-1.1zM170 221h1.1v1.1h-1.1zM170.5 210h1.1v1.1h-1.1zM170.5 212.5h1.1v1.1h-1.1zM171 205.5h1.1v1.1h-1.1zM171.5 217h1.1v1.1h-1.1zM172 205h1.1v1.1h-1.1zM172 206.5h1.1v1.1h-1.1zM172 208.5h1.1v1.1h-1.1zM172 212.5h1.1v1.1h-1.1zM172.5 204h1.1v1.1h-1.1zM173 197h1.1v1.1h-1.1zM173 204h1.1v1.1h-1.1zM173 207h1.1v1.1h-1.1zM173 208h1.1v1.1h-1.1zM173.5 199.5h1.1v1.1h-1.1zM173.5 202.5h1.1v1.1h-1.1zM173.5 204h1.1v1.1h-1.1zM173.5 206h1.1v1.1h-1.1zM173.5 211h1.1v1.1h-1.1zM173.5 216h1.1v1.1h-1.1zM174 196h1.1v1.1h-1.1zM174 204h1.1v1.1h-1.1zM174.5 203h1.1v1.1h-1.1zM174.5 213.5h1.1v1.1h-1.1zM174.5 216.5h1.1v1.1h-1.1zM175 199h1.1v1.1h-1.1zM176 201.5h1.1v1.1h-1.1zM176 202.5h1.1v1.1h-1.1zM176 205h1.1v1.1h-1.1zM176.5 198.5h1.1v1.1h-1.1zM176.5 199h1.1v1.1h-1.1zM176.5 213h1.1v1.1h-1.1zM177 196h1.1v1.1h-1.1zM177 197h1.1v1.1h-1.1zM177 202.5h1.1v1.1h-1.1zM177 204h1.1v1.1h-1.1zM177 205.5h1.1v1.1h-1.1zM177.5 199.5h1.1v1.1h-1.1zM177.5 210h1.1v1.1h-1.1zM178 194h1.1v1.1h-1.1zM178 201.5h1.1v1.1h-1.1zM178 205.5h1.1v1.1h-1.1zM178 214h1.1v1.1h-1.1zM178.5 192.5h1.1v1.1h-1.1zM178.5 195h1.1v1.1h-1.1zM178.5 203h1.1v1.1h-1.1zM178.5 204.5h1.1v1.1h-1.1zM179 194.5h1.1v1.1h-1.1zM179 197h1.1v1.1h-1.1zM179 201h1.1v1.1h-1.1zM179.5 192h1.1v1.1h-1.1zM179.5 195.5h1.1v1.1h-1.1zM179.5 198h1.1v1.1h-1.1zM179.5 199.5h1.1v1.1h-1.1zM179.5 200.5h1.1v1.1h-1.1zM180 194.5h1.1v1.1h-1.1zM180 195h1.1v1.1h-1.1zM180 210.5h1.1v1.1h-1.1zM180.5 195.5h1.1v1.1h-1.1zM180.5 203.5h1.1v1.1h-1.1zM181 195.5h1.1v1.1h-1.1zM181 201h1.1v1.1h-1.1zM181.5 191.5h1.1v1.1h-1.1zM181.5 194h1.1v1.1h-1.1zM181.5 199.5h1.1v1.1h-1.1zM182.5 197h1.1v1.1h-1.1zM183 187.5h1.1v1.1h-1.1zM183 188h1.1v1.1h-1.1zM183 198h1.1v1.1h-1.1zM183.5 192h1.1v1.1h-1.1zM184 190h1.1v1.1h-1.1zM184 198.5h1.1v1.1h-1.1zM185 190h1.1v1.1h-1.1zM185 190.5h1.1v1.1h-1.1zM185 192.5h1.1v1.1h-1.1zM185 193.5h1.1v1.1h-1.1zM186.5 186.5h1.1v1.1h-1.1zM186.5 195h1.1v1.1h-1.1zM187 191h1.1v1.1h-1.1zM187 192h1.1v1.1h-1.1zM187.5 189h1.1v1.1h-1.1zM188 183h1.1v1.1h-1.1zM188 185.5h1.1v1.1h-1.1zM188 192.5h1.1v1.1h-1.1zM188.5 183.5h1.1v1.1h-1.1zM188.5 187h1.1v1.1h-1.1zM188.5 187.5h1.1v1.1h-1.1zM188.5 188h1.1v1.1h-1.1zM189 181.5h1.1v1.1h-1.1zM189 184.5h1.1v1.1h-1.1zM189 189h1.1v1.1h-1.1zM190 182h1.1v1.1h-1.1zM190.5 183.5h1.1v1.1h-1.1zM191 182.5h1.1v1.1h-1.1zM191 184.5h1.1v1.1h-1.1zM191.5 183h1.1v1.1h-1.1zM192.5 179h1.1v1.1h-1.1z"/>
<path fill="#111" d="M142 238h1.1v1.1h-1.1zM142.5 239.5h1.1v1.1h-1.1zM143 232.5h1.1v1.1h-1.1zM143 233.5h1.1v1.1h-1.1zM143 235.5h1.1v1.1h-1.1zM143 238h1.1v1.1h-1.1zM143 239h1.1v1.1h-1.1zM143 240.5h1.1v1.1h-1.1zM143.5 239h1.1v1.1h-1.1zM143.5 243h1.1v1.1h-1.1zM144 231.5h1.1v1.1h-1.1zM144 232h1.1v1.1h-1.1zM144 234.5h1.1v1.1h-1.1zM144 241h1.1v1.1h-1.1zM144 242h1.1v1.1h-1.1zM144 244.5h1.1v1.1h-1.1zM144.5 232h1.1v1.1h-1.1zM144.5 237.5h1.1v1.1h-1.1zM144.5 244h1.1v1.1h-1.1zM144.5 246h1.1v1.1h-1.1zM145 229h1.1v1.1h-1.1zM145 240h1.1v1.1h-1.1zM145 240.5h1.1v1.1h-1.1zM145 246.5h1.1v1.1h-1.1zM145 247.5h1.1v1.1h-1.1zM145.5 229.5h1.1v1.1h-1.1zM145.5 236h1.1v1.1h-1.1zM145.5 237h1.1v1.1h-1.1zM145.5 240h1.1v1.1h-1.1zM145.5 241.5h1.1v1.1h-1.1zM145.5 243h1.1v1.1h-1.1zM145.5 245h1.1v1.1h-1.1zM145.5 250h1.1v1.1h-1.1zM146 230.5h1.1v1.1h-1.1zM146 231h1.1v1.1h-1.1zM146 249h1.1v1.1h-1.1zM146 250h1.1v1.1h-1.1zM146.5 226.5h1.1v1.1h-1.1zM146.5 233h1.1v1.1h-1.1zM146.5 235.5h1.1v1.1h-1.1zM146.5 236.5h1.1v1.1h-1.1zM146.5 237h1.1v1.1h-1.1zM146.5 243.5h1.1v1.1h-1.1zM147 223h1.1v1.1h-1.1zM147 227.5h1.1v1.1h-1.1zM147 230h1.1v1.1h-1.1zM147 234.5h1.1v1.1h-1.1zM147 238.5h1.1v1.1h-1.1zM147 243.5h1.1v1.1h-1.1zM147 247h1.1v1.1h-1.1zM147 247.5h1.1v1.1h-1.1zM147 249.5h1.1v1.1h-1.1zM147.5 228h1.1v1.1h-1.1zM147.5 231h1.1v1.1h-1.1zM147.5 234.5h1.1v1.1h-1.1zM147.5 239h1.1v1.1h-1.1zM147.5 245.5h1.1v1.1h-1.1zM147.5 246h1.1v1.1h-1.1zM147.5 247.5h1.1v1.1h-1.1zM148 226.5h1.1v1.1h-1.1zM148 230.5h1.1v1.1h-1.1zM148 231.5h1.1v1.1h-1.1zM148 232.5h1.1v1.1h-1.1zM148 233h1.1v1.1h-1.1zM148 235h1.1v1.1h-1.1zM148 236.5h1.1v1.1h-1.1zM148 237.5h1.1v1.1h-1.1zM148 240.5h1.1v1.1h-1.1zM148 244h1.1v1.1h-1.1zM148 247h1.1v1.1h-1.1zM148.5 226.5h1.1v1.1h-1.1zM148.5 228.5h1.1v1.1h-1.1zM148.5 229h1.1v1.1h-1.1zM148.5 234h1.1v1.1h-1.1zM148.5 236.5h1.1v1.1h-1.1zM148.5 237h1.1v1.1h-1.1zM148.5 239h1.1v1.1h-1.1zM148.5 240h1.1v1.1h-1.1zM148.5 243h1.1v1.1h-1.1zM148.5 244h1.1v1.1h-1.1zM148.5 245h1.1v1.1h-1.1zM149 225h1.1v1.1h-1.1zM149 225.5h1.1v1.1h-1.1zM149 227h1.1v1.1h-1.1zM149 227.5h1.1v1.1h-1.1zM149 229h1.1v1.1h-1.1zM149 230.5h1.1v1.1h-1.1zM149 231.5h1.1v1.1h-1.1zM149 232.5h1.1v1.1h-1.1zM149 233.5h1.1v1.1h-1.1zM149 234h1.1v1.1h-1.1zM149 234.5h1.1v1.1h-1.1zM149 235h1.1v1.1h-1.1zM149 236h1.1v1.1h-1.1zM149 237h1.1v1.1h-1.1zM149 238h1.1v1.1h-1.1zM149 239h1.1v1.1h-1.1zM149 240.5h1.1v1.1h-1.1zM149 246.5h1.1v1.1h-1.1zM149 250.5h1.1v1.1h-1.1zM149.5 220.5h1.1v1.1h-1.1zM149.5 224.5h1.1v1.1h-1.1zM149.5 227h1.1v1.1h-1.1zM149.5 229h1.1v1.1h-1.1zM149.5 229.5h1.1v1.1h-1.1zM149.5 230h1.1v1.1h-1.1zM149.5 238h1.1v1.1h-1.1zM149.5 244.5h1.1v1.1h-1.1zM149.5 247.5h1.1v1.1h-1.1zM149.5 252h1.1v1.1h-1.1zM150 227h1.1v1.1h-1.1zM150 229.5h1.1v1.1h-1.1zM150 233h1.1v1.1h-1.1zM150 233.5h1.1v1.1h-1.1zM150 235.5h1.1v1.1h-1.1zM150 239.5h1.1v1.1h-1.1zM150 241h1.1v1.1h-1.1zM150 242.5h1.1v1.1h-1.1zM150 244.5h1.1v1.1h-1.1zM150 248h1.1v1.1h-1.1zM150 249h1.1v1.1h-1.1zM150.5 227h1.1v1.1h-1.1zM150.5 227.5h1.1v1.1h-1.1zM150.5 228.5h1.1v1.1h-1.1zM150.5 231h1.1v1.1h-1.1zM150.5 234h1.1v1.1h-1.1zM150.5 235h1.1v1.1h-1.1zM150.5 235.5h1.1v1.1h-1.1zM150.5 237h1.1v1.1h-1.1zM150.5 237.5h1.1v1.1h-1.1zM150.5 238h1.1v1.1h-1.1zM150.5 238.5h1.1v1.1h-1.1zM150.5 239h1.1v1.1h-1.1zM150.5 241h1.1v1.1h-1.1zM150.5 242.5h1.1v1.1h-1.1zM150.5 244.5h1.1v1.1h-1.1zM150.5 246.5h1.1v1.1h-1.1zM150.5 248h1.1v1.1h-1.1zM150.5 248.5h1.1v1.1h-1.1zM151 220h1.1v1.1h-1.1zM151 228.5h1.1v1.1h-1.1zM151 231h1.1v1.1h-1.1zM151 232h1.1v1.1h-1.1zM151 233h1.1v1.1h-1.1zM151 233.5h1.1v1.1h-1.1zM151 235h1.1v1.1h-1.1zM151 236h1.1v1.1h-1.1zM151 239.5h1.1v1.1h-1.1zM151 241.5h1.1v1.1h-1.1zM151 246h1.1v1.1h-1.1zM151 247h1.1v1.1h-1.1zM151 247.5h1.1v1.1h-1.1zM151 248.5h1.1v1.1h-1.1zM151 249h1.1v1.1h-1.1zM151 250.5h1.1v1.1h-1.1zM151 251.5h1.1v1.1h-1.1zM151.5 221h1.1v1.1h-1.1zM151.5 223.5h1.1v1.1h-1.1zM151.5 225.5h1.1v1.1h-1.1zM151.5 227.5h1.1v1.1h-1.1zM151.5 229h1.1v1.1h-1.1zM151.5 230h1.1v1.1h-1.1zM151.5 231h1.1v1.1h-1.1zM151.5 232h1.1v1.1h-1.1zM151.5 234.5h1.1v1.1h-1.1zM151.5 236h1.1v1.1h-1.1zM151.5 236.5h1.1v1.1h-1.1zM151.5 237h1.1v1.1h-1.1zM151.5 238h1.1v1.1h-1.1zM151.5 239h1.1v1.1h-1.1zM151.5 241h1.1v1.1h-1.1zM151.5 242.5h1.1v1.1h-1.1zM151.5 245h1.1v1.1h-1.1zM151.5 249.5h1.1v1.1h-1.1zM152 216h1.1v1.1h-1.1zM152 225.5h1.1v1.1h-1.1zM152 226.5h1.1v1.1h-1.1zM152 227h1.1v1.1h-1.1zM152 228h1.1v1.1h-1.1zM152 230h1.1v1.1h-1.1zM152 230.5h1.1v1.1h-1.1zM152 231h1.1v1.1h-1.1zM152 232h1.1v1.1h-1.1zM152 232.5h1.1v1.1h-1.1zM152 235h1.1v1.1h-1.1zM152 237h1.1v1.1h-1.1zM152 237.5h1.1v1.1h-1.1zM152 238h1.1v1.1h-1.1zM152 239h1.1v1.1h-1.1zM152 240h1.1v1.1h-1.1zM152 241h1.1v1.1h-1.1zM152 243h1.1v1.1h-1.1zM152 244.5h1.1v1.1h-1.1zM152 245.5h1.1v1.1h-1.1zM152 247h1.1v1.1h-1.1zM152 251.5h1.1v1.1h-1.1zM152.5 225h1.1v1.1h-1.1zM152.5 225.5h1.1v1.1h-1.1zM152.5 226h1.1v1.1h-1.1zM152.5 227h1.1v1.1h-1.1zM152.5 227.5h1.1v1.1h-1.1zM152.5 228.5h1.1v1.1h-1.1zM152.5 230h1.1v1.1h-1.1zM152.5 230.5h1.1v1.1h-1.1zM152.5 231h1.1v1.1h-1.1zM152.5 234h1.1v1.1h-1.1zM152.5 235h1.1v1.1h-1.1zM152.5 236.5h1.1v1.1h-1.1zM152.5 238h1.1v1.1h-1.1zM152.5 239h1.1v1.1h-1.1zM152.5 240.5h1.1v1.1h-1.1zM152.5 242h1.1v1.1h-1.1zM152.5 242.5h1.1v1.1h-1.1zM152.5 244h1.1v1.1h-1.1zM152.5 248h1.1v1.1h-1.1zM152.5 251.5h1.1v1.1h-1.1zM153 219h1.1v1.1h-1.1zM153 219.5h1.1v1.1h-1.1zM153 222h1.1v1.1h-1.1zM153 223h1.1v1.1h-1.1zM153 224h1.1v1.1h-1.1zM153 225h1.1v1.1h-1.1zM153 225.5h1.1v1.1h-1.1zM153 226.5h1.1v1.1h-1.1zM153 227.5h1.1v1.1h-1.1zM153 229h1.1v1.1h-1.1zM153 230.5h1.1v1.1h-1.1zM153 232.5h1.1v1.1h-1.1zM153 233h1.1v1.1h-1.1zM153 234h1.1v1.1h-1.1zM153 235.5h1.1v1.1h-1.1zM153 236h1.1v1.1h-1.1zM153 236.5h1.1v1.1h-1.1zM153 237.5h1.1v1.1h-1.1zM153 239.5h1.1v1.1h-1.1zM153 240h1.1v1.1h-1.1zM153 240.5h1.1v1.1h-1.1zM153 241h1.1v1.1h-1.1zM153 243h1.1v1.1h-1.1zM153 243.5h1.1v1.1h-1.1zM153 245h1.1v1.1h-1.1zM153 246h1.1v1.1h-1.1zM153 247.5h1.1v1.1h-1.1zM153.5 225.5h1.1v1.1h-1.1zM153.5 227h1.1v1.1h-1.1zM153.5 230h1.1v1.1h-1.1zM153.5 230.5h1.1v1.1h-1.1zM153.5 231.5h1.1v1.1h-1.1zM153.5 232.5h1.1v1.1h-1.1zM153.5 233h1.1v1.1h-1.1zM153.5 234h1.1v1.1h-1.1zM153.5 235.5h1.1v1.1h-1.1zM153.5 236h1.1v1.1h-1.1zM153.5 239.5h1.1v1.1h-1.1zM153.5 240h1.1v1.1h-1.1zM153.5 241h1.1v1.1h-1.1zM153.5 241.5h1.1v1.1h-1.1zM153.5 242.5h1.1v1.1h-1.1zM153.5 244h1.1v1.1h-1.1zM153.5 244.5h1.1v1.1h-1.1zM153.5 245h1.1v1.1h-1.1zM153.5 248h1.1v1.1h-1.1zM153.5 253h1.1v1.1h-1.1zM154 216.5h1.1v1.1h-1.1zM154 219.5h1.1v1.1h-1.1zM154 223.5h1.1v1.1h-1.1zM154 225h1.1v1.1h-1.1zM154 226h1.1v1.1h-1.1zM154 227h1.1v1.1h-1.1zM154 228h1.1v1.1h-1.1zM154 231.5h1.1v1.1h-1.1zM154 232h1.1v1.1h-1.1zM154 233.5h1.1v1.1h-1.1zM154 234h1.1v1.1h-1.1zM154 236h1.1v1.1h-1.1zM154 237.5h1.1v1.1h-1.1zM154 239h1.1v1.1h-1.1zM154 240h1.1v1.1h-1.1zM154 241.5h1.1v1.1h-1.1zM154 243.5h1.1v1.1h-1.1zM154 244.5h1.1v1.1h-1.1zM154 245h1.1v1.1h-1.1zM154 246h1.1v1.1h-1.1zM154 246.5h1.1v1.1h-1.1zM154 248.5h1.1v1.1h-1.1zM154 249.5h1.1v1.1h-1.1zM154.5 213.5h1.1v1.1h-1.1zM154.5 219h1.1v1.1h-1.1zM154.5 223h1.1v1.1h-1.1zM154.5 228.5h1.1v1.1h-1.1zM154.5 230h1.1v1.1h-1.1zM154.5 230.5h1.1v1.1h-1.1zM154.5 231h1.1v1.1h-1.1zM154.5 234h1.1v1.1h-1.1zM154.5 234.5h1.1v1.1h-1.1zM154.5 235.5h1.1v1.1h-1.1zM154.5 236.5h1.1v1.1h-1.1zM154.5 238h1.1v1.1h-1.1zM154.5 239.5h1.1v1.1h-1.1zM154.5 240h1.1v1.1h-1.1zM154.5 241.5h1.1v1.1h-1.1zM154.5 242.5h1.1v1.1h-1.1zM154.5 243h1.1v1.1h-1.1zM154.5 246.5h1.1v1.1h-1.1zM154.5 247h1.1v1.1h-1.1zM154.5 249.5h1.1v1.1h-1.1zM154.5 252h1.1v1.1h-1.1zM155 219.5h1.1v1.1h-1.1zM155 220h1.1v1.1h-1.1zM155 224.5h1.1v1.1h-1.1zM155 226h1.1v1.1h-1.1zM155 228h1.1v1.1h-1.1zM155 229h1.1v1.1h-1.1zM155 230.5h1.1v1.1h-1.1zM155 232h1.1v1.1h-1.1zM155 233h1.1v1.1h-1.1zM155 235h1.1v1.1h-1.1zM155 236.5h1.1v1.1h-1.1zM155 237h1.1v1.1h-1.1zM155 237.5h1.1v1.1h-1.1zM155 242h1.1v1.1h-1.1zM155 244h1.1v1.1h-1.1zM155 244.5h1.1v1.1h-1.1zM155 245h1.1v1.1h-1.1zM155 248h1.1v1.1h-1.1zM155 249.5h1.1v1.1h-1.1zM155 251.5h1.1v1.1h-1.1zM155 252h1.1v1.1h-1.1zM155 252.5h1.1v1.1h-1.1zM155 253.5h1.1v1.1h-1.1zM155.5 223.5h1.1v1.1h-1.1zM155.5 225h1.1v1.1h-1.1zM155.5 225.5h1.1v1.1h-1.1zM155.5 227.5h1.1v1.1h-1.1zM155.5 228.5h1.1v1.1h-1.1zM155.5 229h1.1v1.1h-1.1zM155.5 230.5h1.1v1.1h-1.1zM155.5 232.5h1.1v1.1h-1.1zM155.5 234h1.1v1.1h-1.1zM155.5 234.5h1.1v1.1h-1.1zM155.5 235h1.1v1.1h-1.1zM155.5 235.5h1.1v1.1h-1.1zM155.5 237h1.1v1.1h-1.1zM155.5 238h1.1v1.1h-1.1zM155.5 242h1.1v1.1h-1.1zM155.5 242.5h1.1v1.1h-1.1zM155.5 243.5h1.1v1.1h-1.1zM155.5 244h1.1v1.1h-1.1zM155.5 244.5h1.1v1.1h-1.1zM155.5 250.5h1.1v1.1h-1.1zM155.5 251.5h1.1v1.1h-1.1zM155.5 253.5h1.1v1.1h-1.1zM156 220h1.1v1.1h-1.1zM156 222h1.1v1.1h-1.1zM156 223h1.1v1.1h-1.1zM156 225.5h1.1v1.1h-1.1zM156 226h1.1v1.1h-1.1zM156 229h1.1v1.1h-1.1zM156 229.5h1.1v1.1h-1.1zM156 230.5h1.1v1.1h-1.1zM156 231h1.1v1.1h-1.1zM156 231.5h1.1v1.1h-1.1zM156 234.5h1.1v1.1h-1.1zM156 236h1.1v1.1h-1.1zM156 237h1.1v1.1h-1.1zM156 237.5h1.1v1.1h-1.1zM156 239.5h1.1v1.1h-1.1zM156 241h1.1v1.1h-1.1zM156 243.5h1.1v1.1h-1.1zM156 244h1.1v1.1h-1.1zM156 245h1.1v1.1h-1.1zM156 246.5h1.1v1.1h-1.1zM156 247h1.1v1.1h-1.1zM156 247.5h1.1v1.1h-1.1zM156 249h1.1v1.1h-1.1zM156.5 218h1.1v1.1h-1.1zM156.5 222.5h1.1v1.1h-1.1zM156.5 223h1.1v1.1h-1.1zM156.5 225.5h1.1v1.1h-1.1zM156.5 227.5h1.1v1.1h-1.1zM156.5 229h1.1v1.1h-1.1zM156.5 229.5h1.1v1.1h-1.1zM156.5 231.5h1.1v1.1h-1.1zM156.5 233h1.1v1.1h-1.1zM156.5 233.5h1.1v1.1h-1.1zM156.5 234.5h1.1v1.1h-1.1zM156.5 236h1.1v1.1h-1.1zM156.5 237h1.1v1.1h-1.1zM156.5 237.5h1.1v1.1h-1.1zM156.5 238.5h1.1v1.1h-1.1zM156.5 239.5h1.1v1.1h-1.1zM156.5 240.5h1.1v1.1h-1.1zM156.5 241h1.1v1.1h-1.1zM156.5 241.5h1.1v1.1h-1.1zM156.5 242.5h1.1v1.1h-1.1zM156.5 243h1.1v1.1h-1.1zM156.5 243.5h1.1v1.1h-1.1zM156.5 244.5h1.1v1.1h-1.1zM156.5 245h1.1v1.1h-1.1zM156.5 247h1.1v1.1h-1.1zM156.5 249h1.1v1.1h-1.1zM156.5 251.5h1.1v1.1h-1.1zM156.5 254.5h1.1v1.1h-1.1zM157 221.5h1.1v1.1h-1.1zM157 223.5h1.1v1.1h-1.1zM157 224.5h1.1v1.1h-1.1zM157 225h1.1v1.1h-1.1zM157 225.5h1.1v1.1h-1.1zM157 227h1.1v1.1h-1.1zM157 227.5h1.1v1.1h-1.1zM157 229h1.1v1.1h-1.1zM157 231h1.1v1.1h-1.1zM157 232.5h1.1v1.1h-1.1zM157 233h1.1v1.1h-1.1zM157 236h1.1v1.1h-1.1zM157 237h1.1v1.1h-1.1zM157 237.5h1.1v1.1h-1.1zM157 238h1.1v1.1h-1.1zM157 239.5h1.1v1.1h-1.1zM157 240h1.1v1.1h-1.1zM157 240.5h1.1v1.1h-1.1zM157 244.5h1.1v1.1h-1.1zM157 246h1.1v1.1h-1.1zM157 247h1.1v1.1h-1.1zM157 255h1.1v1.1h-1.1zM157.5 219h1.1v1.1h-1.1zM157.5 221h1.1v1.1h-1.1zM157.5 222.5h1.1v1.1h-1.1zM157.5 226h1.1v1.1h-1.1zM157.5 227.5h1.1v1.1h-1.1zM157.5 231h1.1v1.1h-1.1zM157.5 231.5h1.1v1.1h-1.1zM157.5 233h1.1v1.1h-1.1zM157.5 233.5h1.1v1.1h-1.1zM157.5 234h1.1v1.1h-1.1zM157.5 234.5h1.1v1.1h-1.1zM157.5 236h1.1v1.1h-1.1zM157.5 237.5h1.1v1.1h-1.1zM157.5 241.5h1.1v1.1h-1.1zM157.5 243h1.1v1.1h-1.1zM157.5 243.5h1.1v1.1h-1.1zM157.5 245.5h1.1v1.1h-1.1zM157.5 248.5h1.1v1.1h-1.1zM157.5 250h1.1v1.1h-1.1zM157.5 253h1.1v1.1h-1.1zM158 218h1.1v1.1h-1.1zM158 219h1.1v1.1h-1.1zM158 220.5h1.1v1.1h-1.1zM158 222.5h1.1v1.1h-1.1zM158 225h1.1v1.1h-1.1zM158 225.5h1.1v1.1h-1.1zM158 226h1.1v1.1h-1.1zM158 227h1.1v1.1h-1.1zM158 227.5h1.1v1.1h-1.1zM158 231h1.1v1.1h-1.1zM158 232.5h1.1v1.1h-1.1zM158 233h1.1v1.1h-1.1zM158 233.5h1.1v1.1h-1.1zM158 234h1.1v1.1h-1.1zM158 235.5h1.1v1.1h-1.1zM158 236h1.1v1.1h-1.1zM158 237h1.1v1.1h-1.1zM158 238h1.1v1.1h-1.1zM158 239.5h1.1v1.1h-1.1zM158 240h1.1v1.1h-1.1zM158 242h1.1v1.1h-1.1zM158 243h1.1v1.1h-1.1zM158 244.5h1.1v1.1h-1.1zM158 247h1.1v1.1h-1.1zM158 249h1.1v1.1h-1.1zM158 250.5h1.1v1.1h-1.1zM158 252h1.1v1.1h-1.1zM158.5 215h1.1v1.1h-1.1zM158.5 218.5h1.1v1.1h-1.1zM158.5 220.5h1.1v1.1h-1.1zM158.5 221h1.1v1.1h-1.1zM158.5 222h1.1v1.1h-1.1zM158.5 225h1.1v1.1h-1.1zM158.5 228.5h1.1v1.1h-1.1zM158.5 230h1.1v1.1h-1.1zM158.5 230.5h1.1v1.1h-1.1zM158.5 231.5h1.1v1.1h-1.1zM158.5 232h1.1v1.1h-1.1zM158.5 233.5h1.1v1.1h-1.1zM158.5 234.5h1.1v1.1h-1.1zM158.5 236h1.1v1.1h-1.1zM158.5 236.5h1.1v1.1h-1.1zM158.5 237h1.1v1.1h-1.1zM158.5 239.5h1.1v1.1h-1.1zM158.5 240.5h1.1v1.1h-1.1zM158.5 242.5h1.1v1.1h-1.1zM158.5 250.5h1.1v1.1h-1.1zM158.5 253.5h1.1v1.1h-1.1zM159 214.5h1.1v1.1h-1.1zM159 218.5h1.1v1.1h-1.1zM159 219.5h1.1v1.1h-1.1zM159 222h1.1v1.1h-1.1zM159 222.5h1.1v1.1h-1.1zM159 223h1.1v1.1h-1.1zM159 227.5h1.1v1.1h-1.1zM159 229.5h1.1v1.1h-1.1zM159 231h1.1v1.1h-1.1zM159 231.5h1.1v1.1h-1.1zM159 232h1.1v1.1h-1.1zM159 232.5h1.1v1.1h-1.1zM159 233h1.1v1.1h-1.1zM159 233.5h1.1v1.1h-1.1zM159 234h1.1v1.1h-1.1zM159 234.5h1.1v1.1h-1.1zM159 236h1.1v1.1h-1.1zM159 236.5h1.1v1.1h-1.1zM159 237.5h1.1v1.1h-1.1zM159 238h1.1v1.1h-1.1zM159 238.5h1.1v1.1h-1.1zM159 239h1.1v1.1h-1.1zM159 240h1.1v1.1h-1.1zM159 242.5h1.1v1.1h-1.1zM159 244h1.1v1.1h-1.1zM159 246h1.1v1.1h-1.1zM159 253h1.1v1.1h-1.1zM159 254h1.1v1.1h-1.1zM159.5 223h1.1v1.1h-1.1zM159.5 224.5h1.1v1.1h-1.1zM159.5 225.5h1.1v1.1h-1.1zM159.5 226h1.1v1.1h-1.1zM159.5 227h1.1v1.1h-1.1zM159.5 227.5h1.1v1.1h-1.1zM159.5 228.5h1.1v1.1h-1.1zM159.5 232h1.1v1.1h-1.1zM159.5 232.5h1.1v1.1h-1.1zM159.5 234.5h1.1v1.1h-1.1zM159.5 237h1.1v1.1h-1.1zM159.5 237.5h1.1v1.1h-1.1zM159.5 238h1.1v1.1h-1.1zM159.5 239h1.1v1.1h-1.1zM159.5 240.5h1.1v1.1h-1.1zM159.5 241.5h1.1v1.1h-1.1zM159.5 242h1.1v1.1h-1.1zM159.5 243h1.1v1.1h-1.1zM159.5 243.5h1.1v1.1h-1.1zM159.5 245.5h1.1v1.1h-1.1zM159.5 246.5h1.1v1.1h-1.1zM159.5 247.5h1.1v1.1h-1.1zM160 210.5h1.1v1.1h-1.1zM160 212h1.1v1.1h-1.1zM160 219h1.1v1.1h-1.1zM160 220.5h1.1v1.1h-1.1zM160 221h1.1v1.1h-1.1zM160 223.5h1.1v1.1h-1.1zM160 225h1.1v1.1h-1.1zM160 225.5h1.1v1.1h-1.1zM160 226h1.1v1.1h-1.1zM160 228.5h1.1v1.1h-1.1zM160 229h1.1v1.1h-1.1zM160 229.5h1.1v1.1h-1.1zM160 230.5h1.1v1.1h-1.1zM160 232.5h1.1v1.1h-1.1zM160 233h1.1v1.1h-1.1zM160 233.5h1.1v1.1h-1.1zM160 234h1.1v1.1h-1.1zM160 234.5h1.1v1.1h-1.1zM160 236h1.1v1.1h-1.1zM160 238h1.1v1.1h-1.1zM160 240.5h1.1v1.1h-1.1zM160 241h1.1v1.1h-1.1zM160 242h1.1v1.1h-1.1zM160 242.5h1.1v1.1h-1.1zM160 246h1.1v1.1h-1.1zM160 249h1.1v1.1h-1.1zM160 252.5h1.1v1.1h-1.1zM160.5 211h1.1v1.1h-1.1zM160.5 213h1.1v1.1h-1.1zM160.5 215.5h1.1v1.1h-1.1zM160.5 222.5h1.1v1.1h-1.1zM160.5 225h1.1v1.1h-1.1zM160.5 226.5h1.1v1.1h-1.1zM160.5 228h1.1v1.1h-1.1zM160.5 229h1.1v1.1h-1.1zM160.5 231h1.1v1.1h-1.1zM160.5 233h1.1v1.1h-1.1zM160.5 236.5h1.1v1.1h-1.1zM160.5 238.5h1.1v1.1h-1.1zM160.5 243.5h1.1v1.1h-1.1zM160.5 244h1.1v1.1h-1.1zM160.5 246.5h1.1v1.1h-1.1zM160.5 248h1.1v1.1h-1.1zM161 214h1.1v1.1h-1.1zM161 219.5h1.1v1.1h-1.1zM161 220.5h1.1v1.1h-1.1zM161 221h1.1v1.1h-1.1zM161 223h1.1v1.1h-1.1zM161 224h1.1v1.1h-1.1zM161 227h1.1v1.1h-1.1zM161 228.5h1.1v1.1h-1.1zM161 229h1.1v1.1h-1.1zM161 231h1.1v1.1h-1.1zM161 231.5h1.1v1.1h-1.1zM161 235.5h1.1v1.1h-1.1zM161 237.5h1.1v1.1h-1.1zM161 239.5h1.1v1.1h-1.1zM161 241h1.1v1.1h-1.1zM161 241.5h1.1v1.1h-1.1zM161 243h1.1v1.1h-1.1zM161 244.5h1.1v1.1h-1.1zM161 246.5h1.1v1.1h-1.1zM161 248h1.1v1.1h-1.1zM161 249.5h1.1v1.1h-1.1zM161.5 209.5h1.1v1.1h-1.1zM161.5 218.5h1.1v1.1h-1.1zM161.5 219h1.1v1.1h-1.1zM161.5 221h1.1v1.1h-1.1zM161.5 222h1.1v1.1h-1.1zM161.5 226.5h1.1v1.1h-1.1zM161.5 227.5h1.1v1.1h-1.1zM161.5 228.5h1.1v1.1h-1.1zM161.5 229.5h1.1v1.1h-1.1zM161.5 232.5h1.1v1.1h-1.1zM161.5 233.5h1.1v1.1h-1.1zM161.5 238.5h1.1v1.1h-1.1zM161.5 242h1.1v1.1h-1.1zM161.5 243h1.1v1.1h-1.1zM161.5 246h1.1v1.1h-1.1zM161.5 247h1.1v1.1h-1.1zM161.5 249h1.1v1.1h-1.1zM162 220.5h1.1v1.1h-1.1zM162 225.5h1.1v1.1h-1.1zM162 230h1.1v1.1h-1.1zM162 231.5h1.1v1.1h-1.1zM162 232h1.1v1.1h-1.1zM162 232.5h1.1v1.1h-1.1zM162 233.5h1.1v1.1h-1.1zM162 234h1.1v1.1h-1.1zM162 235.5h1.1v1.1h-1.1zM162 236h1.1v1.1h-1.1zM162 236.5h1.1v1.1h-1.1zM162 239h1.1v1.1h-1.1zM162 239.5h1.1v1.1h-1.1zM162 240h1.1v1.1h-1.1zM162 240.5h1.1v1.1h-1.1zM162 243.5h1.1v1.1h-1.1zM162 245h1.1v1.1h-1.1zM162 250h1.1v1.1h-1.1zM162.5 210h1.1v1.1h-1.1zM162.5 210.5h1.1v1.1h-1.1zM162.5 215h1.1v1.1h-1.1zM162.5 216.5h1.1v1.1h-1.1zM162.5 217h1.1v1.1h-1.1zM162.5 225.5h1.1v1.1h-1.1zM162.5 227.5h1.1v1.1h-1.1zM162.5 228.5h1.1v1.1h-1.1zM162.5 229.5h1.1v1.1h-1.1zM162.5 230h1.1v1.1h-1.1zM162.5 231.5h1.1v1.1h-1.1zM162.5 235.5h1.1v1.1h-1.1zM162.5 236h1.1v1.1h-1.1zM162.5 236.5h1.1v1.1h-1.1zM162.5 237.5h1.1v1.1h-1.1zM162.5 240.5h1.1v1.1h-1.1zM162.5 243h1.1v1.1h-1.1zM162.5 246h1.1v1.1h-1.1zM162.5 246.5h1.1v1.1h-1.1zM162.5 247.5h1.1v1.1h-1.1zM163 210.5h1.1v1.1h-1.1zM163 215.5h1.1v1.1h-1.1zM163 218h1.1v1.1h-1.1zM163 220h1.1v1.1h-1.1zM163 221h1.1v1.1h-1.1zM163 221.5h1.1v1.1h-1.1zM163 229.5h1.1v1.1h-1.1zM163 231h1.1v1.1h-1.1zM163 232h1.1v1.1h-1.1zM163 235h1.1v1.1h-1.1zM163 237h1.1v1.1h-1.1zM163 239h1.1v1.1h-1.1zM163 241.5h1.1v1.1h-1.1zM163 243.5h1.1v1.1h-1.1zM163 244h1.1v1.1h-1.1zM163.5 218.5h1.1v1.1h-1.1zM163.5 220.5h1.1v1.1h-1.1zM163.5 224h1.1v1.1h-1.1zM163.5 225.5h1.1v1.1h-1.1zM163.5 226.5h1.1v1.1h-1.1zM163.5 227h1.1v1.1h-1.1zM163.5 230.5h1.1v1.1h-1.1zM163.5 233h1.1v1.1h-1.1zM163.5 235h1.1v1.1h-1.1zM163.5 236h1.1v1.1h-1.1zM163.5 244.5h1.1v1.1h-1.1zM164 214.5h1.1v1.1h-1.1zM164 217h1.1v1.1h-1.1zM164 220h1.1v1.1h-1.1zM164 223.5h1.1v1.1h-1.1zM164 225h1.1v1.1h-1.1zM164 226.5h1.1v1.1h-1.1zM164 232.5h1.1v1.1h-1.1zM164 240.5h1.1v1.1h-1.1zM164.5 217h1.1v1.1h-1.1zM164.5 218h1.1v1.1h-1.1zM164.5 223.5h1.1v1.1h-1.1zM164.5 224.5h1.1v1.1h-1.1zM164.5 225.5h1.1v1.1h-1.1zM164.5 228h1.1v1.1h-1.1zM164.5 228.5h1.1v1.1h-1.1zM164.5 229.5h1.1v1.1h-1.1zM164.5 232.5h1.1v1.1h-1.1zM164.5 234.5h1.1v1.1h-1.1zM164.5 236.5h1.1v1.1h-1.1zM164.5 237h1.1v1.1h-1.1zM164.5 241.5h1.1v1.1h-1.1zM164.5 248h1.1v1.1h-1.1zM165 207.5h1.1v1.1h-1.1zM165 211.5h1.1v1.1h-1.1zM165 212h1.1v1.1h-1.1zM165 220h1.1v1.1h-1.1zM165 224h1.1v1.1h-1.1zM165 227.5h1.1v1.1h-1.1zM165 228h1.1v1.1h-1.1zM165 231h1.1v1.1h-1.1zM165 234h1.1v1.1h-1.1zM165 234.5h1.1v1.1h-1.1zM165 236.5h1.1v1.1h-1.1zM165 238.5h1.1v1.1h-1.1zM165.5 211h1.1v1.1h-1.1zM165.5 220h1.1v1.1h-1.1zM165.5 221.5h1.1v1.1h-1.1zM165.5 223.5h1.1v1.1h-1.1zM165.5 224.5h1.1v1.1h-1.1zM165.5 226.5h1.1v1.1h-1.1zM165.5 228h1.1v1.1h-1.1zM165.5 233.5h1.1v1.1h-1.1zM165.5 236h1.1v1.1h-1.1zM165.5 250h1.1v1.1h-1.1zM166 221h1.1v1.1h-1.1zM166 224h1.1v1.1h-1.1zM166 228.5h1.1v1.1h-1.1zM166 232.5h1.1v1.1h-1.1zM166 234.5h1.1v1.1h-1.1zM166 236.5h1.1v1.1h-1.1zM166 239h1.1v1.1h-1.1zM166 240h1.1v1.1h-1.1zM166 244h1.1v1.1h-1.1zM166.5 213.5h1.1v1.1h-1.1zM166.5 218.5h1.1v1.1h-1.1zM166.5 220.5h1.1v1.1h-1.1zM166.5 224h1.1v1.1h-1.1zM166.5 232.5h1.1v1.1h-1.1zM166.5 233h1.1v1.1h-1.1zM167 206h1.1v1.1h-1.1zM167 216h1.1v1.1h-1.1zM167 223h1.1v1.1h-1.1zM167 226h1.1v1.1h-1.1zM167 227.5h1.1v1.1h-1.1zM167 237.5h1.1v1.1h-1.1zM167 244h1.1v1.1h-1.1zM167.5 208.5h1.1v1.1h-1.1zM167.5 217h1.1v1.1h-1.1zM167.5 222h1.1v1.1h-1.1zM167.5 223h1.1v1.1h-1.1zM167.5 232.5h1.1v1.1h-1.1zM167.5 234h1.1v1.1h-1.1zM167.5 237.5h1.1v1.1h-1.1zM167.5 241h1.1v1.1h-1.1zM167.5 243h1.1v1.1h-1.1zM168 207.5h1.1v1.1h-1.1zM168 213.5h1.1v1.1h-1.1zM168 217.5h1.1v1.1h-1.1zM168 223h1.1v1.1h-1.1zM168 228h1.1v1.1h-1.1zM168 229h1.1v1.1h-1.1zM168 230h1.1v1.1h-1.1zM168 231.5h1.1v1.1h-1.1zM168 234h1.1v1.1h-1.1zM168 238h1.1v1.1h-1.1zM168 241h1.1v1.1h-1.1zM168.5 213h1.1v1.1h-1.1zM168.5 219h1.1v1.1h-1.1zM168.5 239h1.1v1.1h-1.1zM169 208h1.1v1.1h-1.1zM169 218.5h1.1v1.1h-1.1zM169 224.5h1.1v1.1h-1.1zM169 228.5h1.1v1.1h-1.1zM169 236.5h1.1v1.1h-1.1zM169.5 212h1.1v1.1h-1.1zM169.5 213h1.1v1.1h-1.1zM169.5 213.5h1.1v1.1h-1.1zM169.5 215h1.1v1.1h-1.1zM169.5 219.5h1.1v1.1h-1.1zM169.5 237h1.1v1.1h-1.1zM169.5 245h1.1v1.1h-1.1zM170 206h1.1v1.1h-1.1zM170 218.5h1.1v1.1h-1.1zM170.5 205h1.1v1.1h-1.1zM170.5 209.5h1.1v1.1h-1.1zM170.5 213.5h1.1v1.1h-1.1zM171 215h1.1v1.1h-1.1zM171 232h1.1v1.1h-1.1zM171.5 222h1.1v1.1h-1.1zM172.5 212h1.1v1.1h-1.1zM172.5 214.5h1.1v1.1h-1.1zM172.5 215h1.1v1.1h-1.1zM172.5 217h1.1v1.1h-1.1zM172.5 220.5h1.1v1.1h-1.1zM173 210h1.1v1.1h-1.1zM173 231.5h1.1v1.1h-1.1zM173.5 228h1.1v1.1h-1.1zM174 218.5h1.1v1.1h-1.1zM174.5 216.5h1.1v1.1h-1.1zM175 203.5h1.1v1.1h-1.1zM175 207h1.1v1.1h-1.1zM176 210.5h1.1v1.1h-1.1zM176.5 214h1.1v1.1h-1.1z"/>
<path fill="#666" d="M249.5 202.5h1.1v1.1h-1.1zM252.5 241.5h1.1v1.1h-1.1zM253 171h1.1v1.1h-1.1z"/>
<path fill="#555" d="M245.5 185h1.1v1.1h-1.1zM246 187h1.1v1.1h-1.1zM248.5 188.5h1.1v1.1h-1.1zM249.5 187h1.1v1.1h-1.1zM249.5 194.5h1.1v1.1h-1.1zM250 187h1.1v1.1h-1.1zM250 203.5h1.1v1.1h-1.1zM250.5 192.5h1.1v1.1h-1.1zM251 196h1.1v1.1h-1.1zM251.5 193h1.1v1.1h-1.1zM251.5 197.5h1.1v1.1h-1.1zM252 188.5h1.1v1.1h-1.1zM253 185.5h1.1v1.1h-1.1zM253 204h1.1v1.1h-1.1zM253.5 196h1.1v1.1h-1.1zM253.5 201.5h1.1v1.1h-1.1zM254 189.5h1.1v1.1h-1.1zM254 191.5h1.1v1.1h-1.1zM254 198h1.1v1.1h-1.1zM254.5 189.5h1.1v1.1h-1.1zM254.5 192h1.1v1.1h-1.1zM254.5 197h1.1v1.1h-1.1zM254.5 202.5h1.1v1.1h-1.1zM255 184.5h1.1v1.1h-1.1zM255 185.5h1.1v1.1h-1.1zM255 192.5h1.1v1.1h-1.1zM255.5 191h1.1v1.1h-1.1zM255.5 195h1.1v1.1h-1.1zM255.5 203h1.1v1.1h-1.1zM256 192.5h1.1v1.1h-1.1zM256 201.5h1.1v1.1h-1.1zM258 191h1.1v1.1h-1.1zM259 186h1.1v1.1h-1.1zM259.5 189h1.1v1.1h-1.1zM259.5 192.5h1.1v1.1h-1.1zM259.5 199h1.1v1.1h-1.1zM260.5 190h1.1v1.1h-1.1zM260.5 194.5h1.1v1.1h-1.1zM260.5 202h1.1v1.1h-1.1zM261.5 193.5h1.1v1.1h-1.1zM262 196.5h1.1v1.1h-1.1zM262.5 185h1.1v1.1h-1.1zM262.5 190.5h1.1v1.1h-1.1zM263 200.5h1.1v1.1h-1.1zM263.5 199.5h1.1v1.1h-1.1zM264.5 189.5h1.1v1.1h-1.1zM265 194h1.1v1.1h-1.1zM266 191.5h1.1v1.1h-1.1zM267 185.5h1.1v1.1h-1.1zM267 188.5h1.1v1.1h-1.1zM267 189h1.1v1.1h-1.1zM267 193.5h1.1v1.1h-1.1zM267.5 186.5h1.1v1.1h-1.1zM268 188h1.1v1.1h-1.1zM283.5 230.5h1.1v1.1h-1.1zM283.5 233h1.1v1.1h-1.1zM284 247h1.1v1.1h-1.1zM285 232h1.1v1.1h-1.1zM285 242.5h1.1v1.1h-1.1zM286 228.5h1.1v1.1h-1.1zM288 241.5h1.1v1.1h-1.1zM290.5 219h1.1v1.1h-1.1zM291 238h1.1v1.1h-1.1zM292 221.5h1.1v1.1h-1.1zM293 220.5h1.1v1.1h-1.1zM293.5 247h1.1v1.1h-1.1zM295.5 235h1.1v1.1h-1.1zM297 241h1.1v1.1h-1.1zM298 229h1.1v1.1h-1.1zM298 233.5h1.1v1.1h-1.1zM298 235.5h1.1v1.1h-1.1z"/>
<path fill="#333" d="M244.5 226.5h1.1v1.1h-1.1zM244.5 233h1.1v1.1h-1.1zM245 226.5h1.1v1.1h-1.1zM245 233h1.1v1.1h-1.1zM245.5 243.5h1.1v1.1h-1.1zM246 234h1.1v1.1h-1.1zM246.5 237h1.1v1.1h-1.1zM246.5 240.5h1.1v1.1h-1.1zM247 238.5h1.1v1.1h-1.1zM247.5 236h1.1v1.1h-1.1zM248 230h1.1v1.1h-1.1zM248 232.5h1.1v1.1h-1.1zM248 236h1.1v1.1h-1.1zM248.5 224h1.1v1.1h-1.1zM248.5 229h1.1v1.1h-1.1zM249 243h1.1v1.1h-1.1zM249 252h1.1v1.1h-1.1zM249.5 232.5h1.1v1.1h-1.1zM249.5 236h1.1v1.1h-1.1zM250 239.5h1.1v1.1h-1.1zM250 242h1.1v1.1h-1.1zM250 248h1.1v1.1h-1.1zM250.5 235.5h1.1v1.1h-1.1zM251 220.5h1.1v1.1h-1.1zM251 238.5h1.1v1.1h-1.1zM251 240.5h1.1v1.1h-1.1zM251.5 232h1.1v1.1h-1.1zM251.5 238.5h1.1v1.1h-1.1zM251.5 241.5h1.1v1.1h-1.1zM251.5 244h1.1v1.1h-1.1zM251.5 248.5h1.1v1.1h-1.1zM252 218.5h1.1v1.1h-1.1zM252 227h1.1v1.1h-1.1zM252 229.5h1.1v1.1h-1.1zM252 242h1.1v1.1h-1.1zM252.5 233.5h1.1v1.1h-1.1zM252.5 236.5h1.1v1.1h-1.1zM253 250.5h1.1v1.1h-1.1zM253.5 220.5h1.1v1.1h-1.1zM253.5 230.5h1.1v1.1h-1.1zM253.5 237h1.1v1.1h-1.1zM253.5 238h1.1v1.1h-1.1zM253.5 244h1.1v1.1h-1.1zM254 219h1.1v1.1h-1.1zM254 230.5h1.1v1.1h-1.1zM254 232.5h1.1v1.1h-1.1zM254 233h1.1v1.1h-1.1zM254 237h1.1v1.1h-1.1zM254 237.5h1.1v1.1h-1.1zM254 239h1.1v1.1h-1.1zM254 240h1.1v1.1h-1.1zM254 241h1.1v1.1h-1.1zM254.5 234.5h1.1v1.1h-1.1zM254.5 242.5h1.1v1.1h-1.1zM255 236.5h1.1v1.1h-1.1zM255 250.5h1.1v1.1h-1.1zM255.5 232.5h1.1v1.1h-1.1zM255.5 236h1.1v1.1h-1.1zM255.5 237h1.1v1.1h-1.1zM256.5 225h1.1v1.1h-1.1zM256.5 232h1.1v1.1h-1.1zM256.5 234.5h1.1v1.1h-1.1zM257 228.5h1.1v1.1h-1.1zM257 230.5h1.1v1.1h-1.1zM257 234.5h1.1v1.1h-1.1zM257 239h1.1v1.1h-1.1zM257 240.5h1.1v1.1h-1.1zM257 253.5h1.1v1.1h-1.1zM257.5 218h1.1v1.1h-1.1zM257.5 229h1.1v1.1h-1.1zM257.5 234.5h1.1v1.1h-1.1zM257.5 237.5h1.1v1.1h-1.1zM257.5 240.5h1.1v1.1h-1.1zM257.5 241.5h1.1v1.1h-1.1zM258 230.5h1.1v1.1h-1.1zM258 231.5h1.1v1.1h-1.1zM258 246.5h1.1v1.1h-1.1zM258.5 219.5h1.1v1.1h-1.1zM258.5 225h1.1v1.1h-1.1zM258.5 239h1.1v1.1h-1.1zM258.5 242h1.1v1.1h-1.1zM259 224.5h1.1v1.1h-1.1zM259 239h1.1v1.1h-1.1zM259 240.5h1.1v1.1h-1.1zM259 254h1.1v1.1h-1.1zM259 255.5h1.1v1.1h-1.1zM259.5 235.5h1.1v1.1h-1.1zM259.5 238h1.1v1.1h-1.1zM259.5 241.5h1.1v1.1h-1.1zM259.5 246h1.1v1.1h-1.1zM259.5 247h1.1v1.1h-1.1zM260 223h1.1v1.1h-1.1zM260 234.5h1.1v1.1h-1.1zM260 238.5h1.1v1.1h-1.1zM260.5 220.5h1.1v1.1h-1.1zM260.5 224.5h1.1v1.1h-1.1zM260.5 230h1.1v1.1h-1.1zM260.5 232h1.1v1.1h-1.1zM260.5 246h1.1v1.1h-1.1zM260.5 250.5h1.1v1.1h-1.1zM261 222.5h1.1v1.1h-1.1zM261.5 221h1.1v1.1h-1.1zM261.5 226h1.1v1.1h-1.1zM261.5 229h1.1v1.1h-1.1zM261.5 234h1.1v1.1h-1.1zM261.5 236.5h1.1v1.1h-1.1zM261.5 242h1.1v1.1h-1.1zM262 229h1.1v1.1h-1.1zM262 231.5h1.1v1.1h-1.1zM262 234.5h1.1v1.1h-1.1zM262 236h1.1v1.1h-1.1zM262.5 234h1.1v1.1h-1.1zM262.5 235h1.1v1.1h-1.1zM262.5 242h1.1v1.1h-1.1zM263 216.5h1.1v1.1h-1.1zM263 224h1.1v1.1h-1.1zM263 242.5h1.1v1.1h-1.1zM263.5 226h1.1v1.1h-1.1zM263.5 229h1.1v1.1h-1.1zM263.5 244.5h1.1v1.1h-1.1zM264 233h1.1v1.1h-1.1zM264 236.5h1.1v1.1h-1.1zM264 248h1.1v1.1h-1.1zM264.5 217.5h1.1v1.1h-1.1zM264.5 218h1.1v1.1h-1.1zM264.5 219h1.1v1.1h-1.1zM264.5 221h1.1v1.1h-1.1zM264.5 228.5h1.1v1.1h-1.1zM264.5 229h1.1v1.1h-1.1zM264.5 229.5h1.1v1.1h-1.1zM264.5 239h1.1v1.1h-1.1zM264.5 240.5h1.1v1.1h-1.1zM264.5 243h1.1v1.1h-1.1zM264.5 251h1.1v1.1h-1.1zM265 225.5h1.1v1.1h-1.1zM265 244h1.1v1.1h-1.1zM265 253.5h1.1v1.1h-1.1zM265.5 215.5h1.1v1.1h-1.1zM265.5 224.5h1.1v1.1h-1.1zM265.5 227.5h1.1v1.1h-1.1zM265.5 236.5h1.1v1.1h-1.1zM265.5 239h1.1v1.1h-1.1zM265.5 249.5h1.1v1.1h-1.1zM266 223h1.1v1.1h-1.1zM266 226h1.1v1.1h-1.1zM266 227h1.1v1.1h-1.1zM266 228.5h1.1v1.1h-1.1zM266 229h1.1v1.1h-1.1zM266 231.5h1.1v1.1h-1.1zM266 235h1.1v1.1h-1.1zM266.5 231h1.1v1.1h-1.1zM267 222.5h1.1v1.1h-1.1zM267 230.5h1.1v1.1h-1.1zM267 232.5h1.1v1.1h-1.1zM267.5 217h1.1v1.1h-1.1zM267.5 239h1.1v1.1h-1.1zM267.5 242h1.1v1.1h-1.1zM268 211.5h1.1v1.1h-1.1zM268 212h1.1v1.1h-1.1zM268 219h1.1v1.1h-1.1zM268 227.5h1.1v1.1h-1.1zM268 236h1.1v1.1h-1.1zM268 246.5h1.1v1.1h-1.1zM268.5 221.5h1.1v1.1h-1.1zM268.5 222h1.1v1.1h-1.1zM268.5 228.5h1.1v1.1h-1.1zM269 209.5h1.1v1.1h-1.1zM269 212h1.1v1.1h-1.1zM269 221.5h1.1v1.1h-1.1zM269 222h1.1v1.1h-1.1zM269 228h1.1v1.1h-1.1zM269 229.5h1.1v1.1h-1.1zM269 251h1.1v1.1h-1.1zM269.5 210.5h1.1v1.1h-1.1zM269.5 224h1.1v1.1h-1.1zM269.5 240h1.1v1.1h-1.1zM270 210h1.1v1.1h-1.1zM270 214h1.1v1.1h-1.1zM270 219.5h1.1v1.1h-1.1zM270.5 216h1.1v1.1h-1.1zM270.5 225h1.1v1.1h-1.1zM270.5 238.5h1.1v1.1h-1.1zM270.5 246h1.1v1.1h-1.1zM271 216.5h1.1v1.1h-1.1zM271 217h1.1v1.1h-1.1zM271 234h1.1v1.1h-1.1zM271.5 210.5h1.1v1.1h-1.1zM271.5 218h1.1v1.1h-1.1zM271.5 228h1.1v1.1h-1.1zM271.5 236.5h1.1v1.1h-1.1zM272 222h1.1v1.1h-1.1zM272 224.5h1.1v1.1h-1.1zM272.5 209h1.1v1.1h-1.1zM272.5 217h1.1v1.1h-1.1zM272.5 219h1.1v1.1h-1.1zM273 234.5h1.1v1.1h-1.1zM273 237.5h1.1v1.1h-1.1zM273 240h1.1v1.1h-1.1zM273.5 205.5h1.1v1.1h-1.1zM273.5 209h1.1v1.1h-1.1zM273.5 216.5h1.1v1.1h-1.1zM273.5 224h1.1v1.1h-1.1zM273.5 245.5h1.1v1.1h-1.1zM274 212.5h1.1v1.1h-1.1zM274 221.5h1.1v1.1h-1.1zM274.5 211h1.1v1.1h-1.1zM274.5 213.5h1.1v1.1h-1.1zM274.5 215h1.1v1.1h-1.1zM274.5 229.5h1.1v1.1h-1.1zM275 218.5h1.1v1.1h-1.1zM275.5 208.5h1.1v1.1h-1.1zM275.5 217.5h1.1v1.1h-1.1zM275.5 220.5h1.1v1.1h-1.1zM276 209h1.1v1.1h-1.1zM276 212.5h1.1v1.1h-1.1zM277 224h1.1v1.1h-1.1zM277.5 211.5h1.1v1.1h-1.1zM277.5 212.5h1.1v1.1h-1.1zM277.5 219h1.1v1.1h-1.1zM277.5 224.5h1.1v1.1h-1.1zM278 215h1.1v1.1h-1.1zM278.5 202.5h1.1v1.1h-1.1zM278.5 211.5h1.1v1.1h-1.1zM278.5 215h1.1v1.1h-1.1zM278.5 218.5h1.1v1.1h-1.1zM279.5 213h1.1v1.1h-1.1zM279.5 213.5h1.1v1.1h-1.1zM279.5 216.5h1.1v1.1h-1.1zM280 204.5h1.1v1.1h-1.1zM280 207.5h1.1v1.1h-1.1zM280 212.5h1.1v1.1h-1.1zM280 214h1.1v1.1h-1.1zM280 217h1.1v1.1h-1.1zM280 220h1.1v1.1h-1.1zM281 203.5h1.1v1.1h-1.1zM281 206.5h1.1v1.1h-1.1zM281 209h1.1v1.1h-1.1zM281 209.5h1.1v1.1h-1.1zM281 217h1.1v1.1h-1.1zM282 208h1.1v1.1h-1.1zM282.5 200.5h1.1v1.1h-1.1zM282.5 203h1.1v1.1h-1.1zM282.5 208h1.1v1.1h-1.1zM282.5 209h1.1v1.1h-1.1zM283 206.5h1.1v1.1h-1.1zM283 207h1.1v1.1h-1.1zM283 235h1.1v1.1h-1.1zM283.5 199.5h1.1v1.1h-1.1zM283.5 212.5h1.1v1.1h-1.1zM284 203.5h1.1v1.1h-1.1zM284 213h1.1v1.1h-1.1zM284.5 205.5h1.1v1.1h-1.1zM284.5 212h1.1v1.1h-1.1zM285 203.5h1.1v1.1h-1.1zM285.5 202.5h1.1v1.1h-1.1zM285.5 205h1.1v1.1h-1.1zM285.5 214h1.1v1.1h-1.1zM285.5 215.5h1.1v1.1h-1.1zM286 210.5h1.1v1.1h-1.1zM286 213.5h1.1v1.1h-1.1zM286.5 200h1.1v1.1h-1.1zM286.5 203h1.1v1.1h-1.1zM286.5 215.5h1.1v1.1h-1.1zM287.5 214.5h1.1v1.1h-1.1zM287.5 217.5h1.1v1.1h-1.1zM288.5 198h1.1v1.1h-1.1zM288.5 207h1.1v1.1h-1.1zM288.5 207.5h1.1v1.1h-1.1zM288.5 209h1.1v1.1h-1.1zM289 206.5h1.1v1.1h-1.1zM289 211.5h1.1v1.1h-1.1zM289.5 198h1.1v1.1h-1.1zM289.5 204.5h1.1v1.1h-1.1zM289.5 205h1.1v1.1h-1.1zM289.5 205.5h1.1v1.1h-1.1zM289.5 207h1.1v1.1h-1.1zM289.5 210h1.1v1.1h-1.1zM290 201h1.1v1.1h-1.1zM290 211.5h1.1v1.1h-1.1zM290.5 194h1.1v1.1h-1.1zM290.5 204h1.1v1.1h-1.1zM290.5 207h1.1v1.1h-1.1zM290.5 208h1.1v1.1h-1.1zM292 200.5h1.1v1.1h-1.1zM292.5 193.5h1.1v1.1h-1.1zM293 193.5h1.1v1.1h-1.1zM293 194h1.1v1.1h-1.1zM293 199.5h1.1v1.1h-1.1zM293 200.5h1.1v1.1h-1.1zM293.5 194.5h1.1v1.1h-1.1zM293.5 196h1.1v1.1h-1.1zM293.5 203.5h1.1v1.1h-1.1zM293.5 208h1.1v1.1h-1.1zM294 198h1.1v1.1h-1.1zM294.5 202h1.1v1.1h-1.1zM295 202.5h1.1v1.1h-1.1zM295.5 196.5h1.1v1.1h-1.1zM295.5 198.5h1.1v1.1h-1.1zM296 204h1.1v1.1h-1.1zM296 205.5h1.1v1.1h-1.1zM297 199h1.1v1.1h-1.1zM297 201.5h1.1v1.1h-1.1zM298 201h1.1v1.1h-1.1z"/>
<path fill="#222" d="M245.5 189h1.1v1.1h-1.1zM245.5 198h1.1v1.1h-1.1zM246 194.5h1.1v1.1h-1.1zM247.5 195.5h1.1v1.1h-1.1zM248 196.5h1.1v1.1h-1.1zM248.5 193h1.1v1.1h-1.1zM249.5 191.5h1.1v1.1h-1.1zM249.5 198.5h1.1v1.1h-1.1zM250.5 193h1.1v1.1h-1.1zM250.5 193.5h1.1v1.1h-1.1zM251 192h1.1v1.1h-1.1zM251 192.5h1.1v1.1h-1.1zM251 193.5h1.1v1.1h-1.1zM251.5 190h1.1v1.1h-1.1zM251.5 191.5h1.1v1.1h-1.1zM251.5 192h1.1v1.1h-1.1zM251.5 193h1.1v1.1h-1.1zM251.5 194h1.1v1.1h-1.1zM251.5 195h1.1v1.1h-1.1zM251.5 196h1.1v1.1h-1.1zM252 187.5h1.1v1.1h-1.1zM252 191.5h1.1v1.1h-1.1zM252 192h1.1v1.1h-1.1zM252 195.5h1.1v1.1h-1.1zM252 196h1.1v1.1h-1.1zM252 196.5h1.1v1.1h-1.1zM252.5 192.5h1.1v1.1h-1.1zM252.5 194h1.1v1.1h-1.1zM253 190h1.1v1.1h-1.1zM253 195h1.1v1.1h-1.1zM253.5 190h1.1v1.1h-1.1zM253.5 192.5h1.1v1.1h-1.1zM253.5 194h1.1v1.1h-1.1zM253.5 197h1.1v1.1h-1.1zM253.5 198.5h1.1v1.1h-1.1zM254 187.5h1.1v1.1h-1.1zM254 190.5h1.1v1.1h-1.1zM254 191.5h1.1v1.1h-1.1zM254 192h1.1v1.1h-1.1zM254 192.5h1.1v1.1h-1.1zM254 193h1.1v1.1h-1.1zM254 195h1.1v1.1h-1.1zM254.5 187.5h1.1v1.1h-1.1zM254.5 192.5h1.1v1.1h-1.1zM254.5 194h1.1v1.1h-1.1zM255 193h1.1v1.1h-1.1zM255 193.5h1.1v1.1h-1.1zM255 197h1.1v1.1h-1.1zM255 200h1.1v1.1h-1.1zM255.5 191h1.1v1.1h-1.1zM255.5 192h1.1v1.1h-1.1zM255.5 193h1.1v1.1h-1.1zM255.5 195.5h1.1v1.1h-1.1zM255.5 197h1.1v1.1h-1.1zM255.5 197.5h1.1v1.1h-1.1zM256 191.5h1.1v1.1h-1.1zM256 193h1.1v1.1h-1.1zM256 194h1.1v1.1h-1.1zM256.5 194h1.1v1.1h-1.1zM256.5 194.5h1.1v1.1h-1.1zM257 192.5h1.1v1.1h-1.1zM257 198h1.1v1.1h-1.1zM257.5 189.5h1.1v1.1h-1.1zM257.5 191h1.1v1.1h-1.1zM257.5 191.5h1.1v1.1h-1.1zM257.5 193h1.1v1.1h-1.1zM257.5 194h1.1v1.1h-1.1zM257.5 194.5h1.1v1.1h-1.1zM257.5 197h1.1v1.1h-1.1zM257.5 198.5h1.1v1.1h-1.1zM258 190h1.1v1.1h-1.1zM258 195.5h1.1v1.1h-1.1zM258.5 191.5h1.1v1.1h-1.1zM258.5 192h1.1v1.1h-1.1zM258.5 193h1.1v1.1h-1.1zM258.5 193.5h1.1v1.1h-1.1zM258.5 195h1.1v1.1h-1.1zM258.5 198.5h1.1v1.1h-1.1zM259 186.5h1.1v1.1h-1.1zM259 193h1.1v1.1h-1.1zM259 195h1.1v1.1h-1.1zM259.5 190h1.1v1.1h-1.1zM259.5 192h1.1v1.1h-1.1zM259.5 194h1.1v1.1h-1.1zM259.5 200h1.1v1.1h-1.1zM260 192h1.1v1.1h-1.1zM260 192.5h1.1v1.1h-1.1zM260 195h1.1v1.1h-1.1zM260 197.5h1.1v1.1h-1.1zM261 189.5h1.1v1.1h-1.1zM261 192h1.1v1.1h-1.1zM261 193h1.1v1.1h-1.1zM261.5 186.5h1.1v1.1h-1.1zM261.5 193.5h1.1v1.1h-1.1zM262 190h1.1v1.1h-1.1zM262 198h1.1v1.1h-1.1zM262.5 185.5h1.1v1.1h-1.1zM262.5 188h1.1v1.1h-1.1zM262.5 191h1.1v1.1h-1.1zM262.5 197h1.1v1.1h-1.1zM263 188.5h1.1v1.1h-1.1zM263 193.5h1.1v1.1h-1.1zM263 199.5h1.1v1.1h-1.1zM263.5 192h1.1v1.1h-1.1z"/>
<path fill="#111" d="M244 246.5h1.1v1.1h-1.1zM244.5 241h1.1v1.1h-1.1zM245 235h1.1v1.1h-1.1zM245 237h1.1v1.1h-1.1zM246.5 237.5h1.1v1.1h-1.1zM247 254h1.1v1.1h-1.1zM247.5 220.5h1.1v1.1h-1.1zM248 249.5h1.1v1.1h-1.1zM248.5 234h1.1v1.1h-1.1zM248.5 237h1.1v1.1h-1.1zM248.5 238h1.1v1.1h-1.1zM248.5 239h1.1v1.1h-1.1zM248.5 240.5h1.1v1.1h-1.1zM248.5 242h1.1v1.1h-1.1zM249 243.5h1.1v1.1h-1.1zM249 245h1.1v1.1h-1.1zM249.5 218h1.1v1.1h-1.1zM249.5 231h1.1v1.1h-1.1zM249.5 236.5h1.1v1.1h-1.1zM249.5 240.5h1.1v1.1h-1.1zM249.5 251.5h1.1v1.1h-1.1zM250 227h1.1v1.1h-1.1zM250 243.5h1.1v1.1h-1.1zM251 221h1.1v1.1h-1.1zM251 228.5h1.1v1.1h-1.1zM251 231h1.1v1.1h-1.1zM251 232.5h1.1v1.1h-1.1zM251 233.5h1.1v1.1h-1.1zM251 236.5h1.1v1.1h-1.1zM251.5 237h1.1v1.1h-1.1zM252 214.5h1.1v1.1h-1.1zM252.5 229h1.1v1.1h-1.1zM252.5 241.5h1.1v1.1h-1.1zM253 225.5h1.1v1.1h-1.1zM253 229h1.1v1.1h-1.1zM253 240.5h1.1v1.1h-1.1zM253.5 225h1.1v1.1h-1.1zM253.5 232.5h1.1v1.1h-1.1zM253.5 234h1.1v1.1h-1.1zM253.5 241.5h1.1v1.1h-1.1zM253.5 242h1.1v1.1h-1.1zM254 229.5h1.1v1.1h-1.1zM254 236.5h1.1v1.1h-1.1zM254 242h1.1v1.1h-1.1zM254 244h1.1v1.1h-1.1zM254 245.5h1.1v1.1h-1.1zM254.5 230.5h1.1v1.1h-1.1zM254.5 236h1.1v1.1h-1.1zM254.5 244h1.1v1.1h-1.1zM255 227h1.1v1.1h-1.1zM255 239.5h1.1v1.1h-1.1zM255 243h1.1v1.1h-1.1zM255.5 221h1.1v1.1h-1.1zM255.5 226h1.1v1.1h-1.1zM255.5 234h1.1v1.1h-1.1zM255.5 239h1.1v1.1h-1.1zM255.5 242.5h1.1v1.1h-1.1zM256 223h1.1v1.1h-1.1zM256 231h1.1v1.1h-1.1zM256 234.5h1.1v1.1h-1.1zM256 236.5h1.1v1.1h-1.1zM256 237.5h1.1v1.1h-1.1zM256 238h1.1v1.1h-1.1zM256 243.5h1.1v1.1h-1.1zM256.5 223.5h1.1v1.1h-1.1zM256.5 224.5h1.1v1.1h-1.1zM256.5 233h1.1v1.1h-1.1zM256.5 234h1.1v1.1h-1.1zM256.5 236h1.1v1.1h-1.1zM257 222h1.1v1.1h-1.1zM257 228h1.1v1.1h-1.1zM257 234h1.1v1.1h-1.1zM257 241.5h1.1v1.1h-1.1zM257 250h1.1v1.1h-1.1zM257.5 231h1.1v1.1h-1.1zM257.5 234.5h1.1v1.1h-1.1zM257.5 236h1.1v1.1h-1.1zM257.5 237.5h1.1v1.1h-1.1zM257.5 239.5h1.1v1.1h-1.1zM258 230.5h1.1v1.1h-1.1zM258.5 227h1.1v1.1h-1.1zM258.5 230.5h1.1v1.1h-1.1zM258.5 231h1.1v1.1h-1.1zM258.5 236h1.1v1.1h-1.1zM258.5 238h1.1v1.1h-1.1zM258.5 243h1.1v1.1h-1.1zM259 227h1.1v1.1h-1.1zM259 234h1.1v1.1h-1.1zM259 234.5h1.1v1.1h-1.1zM259 235.5h1.1v1.1h-1.1zM259 236.5h1.1v1.1h-1.1zM259 239h1.1v1.1h-1.1zM259 239.5h1.1v1.1h-1.1zM259.5 232.5h1.1v1.1h-1.1zM259.5 233.5h1.1v1.1h-1.1zM259.5 234.5h1.1v1.1h-1.1zM259.5 235h1.1v1.1h-1.1zM259.5 235.5h1.1v1.1h-1.1zM259.5 237h1.1v1.1h-1.1zM259.5 246.5h1.1v1.1h-1.1zM260 216h1.1v1.1h-1.1zM260 223.5h1.1v1.1h-1.1zM260 227.5h1.1v1.1h-1.1zM260 237h1.1v1.1h-1.1zM260 237.5h1.1v1.1h-1.1zM260 242h1.1v1.1h-1.1zM260.5 218.5h1.1v1.1h-1.1zM260.5 230h1.1v1.1h-1.1zM260.5 231.5h1.1v1.1h-1.1zM260.5 233.5h1.1v1.1h-1.1zM260.5 234.5h1.1v1.1h-1.1zM260.5 235h1.1v1.1h-1.1zM260.5 237h1.1v1.1h-1.1zM260.5 238h1.1v1.1h-1.1zM260.5 241h1.1v1.1h-1.1zM260.5 241.5h1.1v1.1h-1.1zM261 232h1.1v1.1h-1.1zM261 234h1.1v1.1h-1.1zM261 235h1.1v1.1h-1.1zM261 236h1.1v1.1h-1.1zM261.5 227h1.1v1.1h-1.1zM261.5 228.5h1.1v1.1h-1.1zM261.5 231h1.1v1.1h-1.1zM261.5 233h1.1v1.1h-1.1zM261.5 234h1.1v1.1h-1.1zM261.5 237.5h1.1v1.1h-1.1zM262 223.5h1.1v1.1h-1.1zM262 229.5h1.1v1.1h-1.1zM262 232.5h1.1v1.1h-1.1zM262 234.5h1.1v1.1h-1.1zM262 235.5h1.1v1.1h-1.1zM262 246h1.1v1.1h-1.1zM262.5 227h1.1v1.1h-1.1zM262.5 229.5h1.1v1.1h-1.1zM262.5 230h1.1v1.1h-1.1zM262.5 231.5h1.1v1.1h-1.1zM262.5 233h1.1v1.1h-1.1zM262.5 233.5h1.1v1.1h-1.1zM262.5 235h1.1v1.1h-1.1zM262.5 235.5h1.1v1.1h-1.1zM263 221h1.1v1.1h-1.1zM263 225h1.1v1.1h-1.1zM263 226h1.1v1.1h-1.1zM263 228h1.1v1.1h-1.1zM263 230.5h1.1v1.1h-1.1zM263 231h1.1v1.1h-1.1zM263 231.5h1.1v1.1h-1.1zM263 236h1.1v1.1h-1.1zM263.5 206h1.1v1.1h-1.1zM263.5 222.5h1.1v1.1h-1.1zM263.5 230.5h1.1v1.1h-1.1zM263.5 232.5h1.1v1.1h-1.1zM263.5 233h1.1v1.1h-1.1zM264 221h1.1v1.1h-1.1zM264 230h1.1v1.1h-1.1zM264 233h1.1v1.1h-1.1zM264.5 219h1.1v1.1h-1.1zM264.5 220h1.1v1.1h-1.1zM264.5 224h1.1v1.1h-1.1zM264.5 226.5h1.1v1.1h-1.1zM264.5 229.5h1.1v1.1h-1.1zM264.5 230.5h1.1v1.1h-1.1zM264.5 233h1.1v1.1h-1.1zM264.5 239h1.1v1.1h-1.1zM264.5 243h1.1v1.1h-1.1zM264.5 245.5h1.1v1.1h-1.1zM265 221h1.1v1.1h-1.1zM265 223h1.1v1.1h-1.1zM265 226h1.1v1.1h-1.1zM265 227.5h1.1v1.1h-1.1zM265 229.5h1.1v1.1h-1.1zM265 231.5h1.1v1.1h-1.1zM265 232.5h1.1v1.1h-1.1zM265 234h1.1v1.1h-1.1zM265.5 219h1.1v1.1h-1.1zM265.5 223h1.1v1.1h-1.1zM265.5 224h1.1v1.1h-1.1zM265.5 226h1.1v1.1h-1.1zM265.5 230h1.1v1.1h-1.1zM265.5 231.5h1.1v1.1h-1.1zM265.5 233h1.1v1.1h-1.1zM265.5 234h1.1v1.1h-1.1zM265.5 237.5h1.1v1.1h-1.1zM265.5 245h1.1v1.1h-1.1zM266 224h1.1v1.1h-1.1zM266 228h1.1v1.1h-1.1zM266 228.5h1.1v1.1h-1.1zM266 229h1.1v1.1h-1.1zM266 233h1.1v1.1h-1.1zM266 240.5h1.1v1.1h-1.1zM266 244h1.1v1.1h-1.1zM266.5 219h1.1v1.1h-1.1zM266.5 223.5h1.1v1.1h-1.1zM266.5 226.5h1.1v1.1h-1.1zM266.5 229.5h1.1v1.1h-1.1zM266.5 232.5h1.1v1.1h-1.1zM266.5 233h1.1v1.1h-1.1zM266.5 241h1.1v1.1h-1.1zM267 221h1.1v1.1h-1.1zM267 223h1.1v1.1h-1.1zM267 224.5h1.1v1.1h-1.1zM267 227h1.1v1.1h-1.1zM267 228h1.1v1.1h-1.1zM267 228.5h1.1v1.1h-1.1zM267 229.5h1.1v1.1h-1.1zM267.5 215.5h1.1v1.1h-1.1zM267.5 218h1.1v1.1h-1.1zM267.5 224.5h1.1v1.1h-1.1zM267.5 225.5h1.1v1.1h-1.1zM267.5 238h1.1v1.1h-1.1zM268 219h1.1v1.1h-1.1zM268 224h1.1v1.1h-1.1zM268 225.5h1.1v1.1h-1.1zM268 228h1.1v1.1h-1.1zM268 228.5h1.1v1.1h-1.1zM268 229.5h1.1v1.1h-1.1zM268 230.5h1.1v1.1h-1.1zM268 232h1.1v1.1h-1.1zM268 235.5h1.1v1.1h-1.1zM268 247h1.1v1.1h-1.1zM268.5 207h1.1v1.1h-1.1zM268.5 225h1.1v1.1h-1.1zM268.5 227.5h1.1v1.1h-1.1zM268.5 228.5h1.1v1.1h-1.1zM268.5 229h1.1v1.1h-1.1zM268.5 230h1.1v1.1h-1.1zM268.5 230.5h1.1v1.1h-1.1zM268.5 235h1.1v1.1h-1.1zM268.5 237h1.1v1.1h-1.1zM269 229.5h1.1v1.1h-1.1zM269 235h1.1v1.1h-1.1zM269.5 211h1.1v1.1h-1.1zM269.5 223h1.1v1.1h-1.1zM269.5 225.5h1.1v1.1h-1.1zM269.5 230.5h1.1v1.1h-1.1zM270 215h1.1v1.1h-1.1zM270 219h1.1v1.1h-1.1zM270 227.5h1.1v1.1h-1.1zM270 231h1.1v1.1h-1.1zM270 231.5h1.1v1.1h-1.1zM270 233h1.1v1.1h-1.1zM270 237h1.1v1.1h-1.1zM270 239.5h1.1v1.1h-1.1zM270 240.5h1.1v1.1h-1.1zM270.5 205.5h1.1v1.1h-1.1zM270.5 224.5h1.1v1.1h-1.1zM270.5 227.5h1.1v1.1h-1.1zM270.5 228.5h1.1v1.1h-1.1zM270.5 245.5h1.1v1.1h-1.1zM271 222h1.1v1.1h-1.1zM271 222.5h1.1v1.1h-1.1zM271 229h1.1v1.1h-1.1zM271 230.5h1.1v1.1h-1.1zM271 231.5h1.1v1.1h-1.1zM271 232.5h1.1v1.1h-1.1zM271 235.5h1.1v1.1h-1.1zM271.5 224h1.1v1.1h-1.1zM271.5 224.5h1.1v1.1h-1.1zM271.5 226.5h1.1v1.1h-1.1zM271.5 227.5h1.1v1.1h-1.1zM271.5 232h1.1v1.1h-1.1zM272 205.5h1.1v1.1h-1.1zM272 216.5h1.1v1.1h-1.1zM272 222.5h1.1v1.1h-1.1zM272 226.5h1.1v1.1h-1.1zM272 227.5h1.1v1.1h-1.1zM272.5 216h1.1v1.1h-1.1zM272.5 222h1.1v1.1h-1.1zM272.5 227.5h1.1v1.1h-1.1zM272.5 229.5h1.1v1.1h-1.1zM272.5 230h1.1v1.1h-1.1zM272.5 232h1.1v1.1h-1.1zM272.5 233h1.1v1.1h-1.1zM272.5 233.5h1.1v1.1h-1.1zM273 227h1.1v1.1h-1.1zM273 227.5h1.1v1.1h-1.1zM273.5 225h1.1v1.1h-1.1zM273.5 226h1.1v1.1h-1.1zM273.5 229h1.1v1.1h-1.1zM273.5 230.5h1.1v1.1h-1.1zM273.5 235.5h1.1v1.1h-1.1zM274 226.5h1.1v1.1h-1.1zM274 232h1.1v1.1h-1.1zM274 236h1.1v1.1h-1.1zM274.5 224h1.1v1.1h-1.1zM274.5 227h1.1v1.1h-1.1zM275 210.5h1.1v1.1h-1.1zM275 228h1.1v1.1h-1.1zM275 229.5h1.1v1.1h-1.1zM275 233h1.1v1.1h-1.1zM275 244.5h1.1v1.1h-1.1zM275.5 217.5h1.1v1.1h-1.1zM275.5 220.5h1.1v1.1h-1.1zM275.5 221h1.1v1.1h-1.1zM275.5 223h1.1v1.1h-1.1zM275.5 224.5h1.1v1.1h-1.1zM275.5 226.5h1.1v1.1h-1.1zM275.5 234h1.1v1.1h-1.1zM275.5 239h1.1v1.1h-1.1zM276 219h1.1v1.1h-1.1zM276 222.5h1.1v1.1h-1.1zM276 228h1.1v1.1h-1.1zM276.5 219.5h1.1v1.1h-1.1zM276.5 221h1.1v1.1h-1.1zM276.5 221.5h1.1v1.1h-1.1zM277.5 214h1.1v1.1h-1.1zM277.5 219.5h1.1v1.1h-1.1zM278 215.5h1.1v1.1h-1.1zM278 222h1.1v1.1h-1.1zM278 227h1.1v1.1h-1.1zM278 228h1.1v1.1h-1.1zM278.5 214h1.1v1.1h-1.1zM278.5 217h1.1v1.1h-1.1zM278.5 221h1.1v1.1h-1.1zM278.5 226h1.1v1.1h-1.1zM279 204.5h1.1v1.1h-1.1zM279 225.5h1.1v1.1h-1.1zM279.5 218h1.1v1.1h-1.1zM279.5 219h1.1v1.1h-1.1zM279.5 228.5h1.1v1.1h-1.1zM280 216.5h1.1v1.1h-1.1zM280 217.5h1.1v1.1h-1.1zM280 233h1.1v1.1h-1.1zM280 234.5h1.1v1.1h-1.1zM281 226.5h1.1v1.1h-1.1zM281 232h1.1v1.1h-1.1zM282.5 230.5h1.1v1.1h-1.1zM282.5 234h1.1v1.1h-1.1zM282.5 237h1.1v1.1h-1.1zM283 215h1.1v1.1h-1.1zM283.5 216h1.1v1.1h-1.1zM284 210h1.1v1.1h-1.1zM285.5 215.5h1.1v1.1h-1.1zM286 221.5h1.1v1.1h-1.1zM286 222.5h1.1v1.1h-1.1z"/>
<path d="M35.5 32.8H123.5" stroke="#7a7a7a" stroke-width="2.0" fill="none"/>
<path d="M123.5 32.8V128.3" stroke="#999" stroke-width="1.0" fill="none"/>
<path d="M35.5 32.8V128.3" stroke="#555" stroke-width="1.1" fill="none"/>
<path d="M35.5 128.3H123.5" stroke="#222" stroke-width="1.2" fill="none"/>
<path d="M34.1 128.3h2.2M35.5 127.5v2.2M34.4 121.11h1.6M42.12 127.8v1.6M34.4 116.91h1.6M46 127.8v1.6M34.4 113.93h1.6M48.75 127.8v1.6M34.4 111.61h1.6M50.88 127.8v1.6M34.4 109.72h1.6M52.62 127.8v1.6M34.4 108.12h1.6M54.09 127.8v1.6M34.4 106.74h1.6M55.37 127.8v1.6M34.4 105.52h1.6M56.49 127.8v1.6M34.1 104.43h2.2M57.5 127.5v2.2M34.4 97.24h1.6M64.12 127.8v1.6M34.4 93.03h1.6M68 127.8v1.6M34.4 90.05h1.6M70.75 127.8v1.6M34.4 87.74h1.6M72.88 127.8v1.6M34.4 85.85h1.6M74.62 127.8v1.6M34.4 84.25h1.6M76.09 127.8v1.6M34.4 82.86h1.6M77.37 127.8v1.6M34.4 81.64h1.6M78.49 127.8v1.6M34.1 80.55h2.2M79.5 127.5v2.2M34.4 73.36h1.6M86.12 127.8v1.6M34.4 69.16h1.6M90 127.8v1.6M34.4 66.18h1.6M92.75 127.8v1.6M34.4 63.86h1.6M94.88 127.8v1.6M34.4 61.97h1.6M96.62 127.8v1.6M34.4 60.37h1.6M98.09 127.8v1.6M34.4 58.99h1.6M99.37 127.8v1.6M34.4 57.77h1.6M100.49 127.8v1.6M34.1 56.67h2.2M101.5 127.5v2.2M34.4 49.49h1.6M108.12 127.8v1.6M34.4 45.28h1.6M112 127.8v1.6M34.4 42.3h1.6M114.75 127.8v1.6M34.4 39.99h1.6M116.88 127.8v1.6M34.4 38.1h1.6M118.62 127.8v1.6M34.4 36.5h1.6M120.09 127.8v1.6M34.4 35.11h1.6M121.37 127.8v1.6M34.4 33.89h1.6M122.49 127.8v1.6" stroke="#111" stroke-width="1" fill="none"/>
<polyline points="35.5,96.7 65.5,83 109.8,54.3 73,123 73,128.3" stroke="#2a2a2a" stroke-width="1.1" fill="none" stroke-linejoin="miter"/>
<text x="36" y="135.5" font-size="4.8" font-weight="bold" text-anchor="middle" fill="#222">10<tspan dy="-2.6" font-size="3.8">0</tspan></text>
<text transform="translate(32.2 127.8) rotate(-90)" font-size="4.8" font-weight="bold" text-anchor="middle" fill="#222">10<tspan dy="-2.6" font-size="3.8">0</tspan></text>
<text x="58" y="135.5" font-size="4.8" font-weight="bold" text-anchor="middle" fill="#222">10<tspan dy="-2.6" font-size="3.8">1</tspan></text>
<text transform="translate(32.2 103.93) rotate(-90)" font-size="4.8" font-weight="bold" text-anchor="middle" fill="#222">10<tspan dy="-2.6" font-size="3.8">1</tspan></text>
<text x="80" y="135.5" font-size="4.8" font-weight="bold" text-anchor="middle" fill="#222">10<tspan dy="-2.6" font-size="3.8">2</tspan></text>
<text transform="translate(32.2 80.05) rotate(-90)" font-size="4.8" font-weight="bold" text-anchor="middle" fill="#222">10<tspan dy="-2.6" font-size="3.8">2</tspan></text>
<text x="102" y="135.5" font-size="4.8" font-weight="bold" text-anchor="middle" fill="#222">10<tspan dy="-2.6" font-size="3.8">3</tspan></text>
<text transform="translate(32.2 56.17) rotate(-90)" font-size="4.8" font-weight="bold" text-anchor="middle" fill="#222">10<tspan dy="-2.6" font-size="3.8">3</tspan></text>
<text x="124" y="135.5" font-size="4.8" font-weight="bold" text-anchor="middle" fill="#222">10<tspan dy="-2.6" font-size="3.8">4</tspan></text>
<text transform="translate(32.2 32.3) rotate(-90)" font-size="4.8" font-weight="bold" text-anchor="middle" fill="#222">10<tspan dy="-2.6" font-size="3.8">4</tspan></text>
<text transform="translate(25.9 81.35) rotate(-90)" font-size="4.4" font-weight="bold" text-anchor="middle" fill="#000">FL2-Height</text>
<path d="M138.5 34.3H226.5" stroke="#333" stroke-width="1.4" fill="none"/>
<path d="M226.5 34.3V130" stroke="#333" stroke-width="1.3" fill="none"/>
<path d="M138.5 34.3V130" stroke="#555" stroke-width="1.1" fill="none"/>
<path d="M138.5 130H226.5" stroke="#222" stroke-width="1.2" fill="none"/>
<path d="M137.1 130h2.2M138.5 129.2v2.2M137.4 122.8h1.6M145.12 129.5v1.6M137.4 118.58h1.6M149 129.5v1.6M137.4 115.6h1.6M151.75 129.5v1.6M137.4 113.28h1.6M153.88 129.5v1.6M137.4 111.38h1.6M155.62 129.5v1.6M137.4 109.78h1.6M157.09 129.5v1.6M137.4 108.39h1.6M158.37 129.5v1.6M137.4 107.17h1.6M159.49 129.5v1.6M137.1 106.08h2.2M160.5 129.2v2.2M137.4 98.87h1.6M167.12 129.5v1.6M137.4 94.66h1.6M171 129.5v1.6M137.4 91.67h1.6M173.75 129.5v1.6M137.4 89.35h1.6M175.88 129.5v1.6M137.4 87.46h1.6M177.62 129.5v1.6M137.4 85.86h1.6M179.09 129.5v1.6M137.4 84.47h1.6M180.37 129.5v1.6M137.4 83.24h1.6M181.49 129.5v1.6M137.1 82.15h2.2M182.5 129.2v2.2M137.4 74.95h1.6M189.12 129.5v1.6M137.4 70.73h1.6M193 129.5v1.6M137.4 67.75h1.6M195.75 129.5v1.6M137.4 65.43h1.6M197.88 129.5v1.6M137.4 63.53h1.6M199.62 129.5v1.6M137.4 61.93h1.6M201.09 129.5v1.6M137.4 60.54h1.6M202.37 129.5v1.6M137.4 59.32h1.6M203.49 129.5v1.6M137.1 58.22h2.2M204.5 129.2v2.2M137.4 51.02h1.6M211.12 129.5v1.6M137.4 46.81h1.6M215 129.5v1.6M137.4 43.82h1.6M217.75 129.5v1.6M137.4 41.5h1.6M219.88 129.5v1.6M137.4 39.61h1.6M221.62 129.5v1.6M137.4 38.01h1.6M223.09 129.5v1.6M137.4 36.62h1.6M224.37 129.5v1.6M137.4 35.39h1.6M225.49 129.5v1.6" stroke="#111" stroke-width="1" fill="none"/>
<polyline points="138.5,96.8 167.9,83.1 210.6,55.3 174,124 174,130" stroke="#2a2a2a" stroke-width="1.1" fill="none" stroke-linejoin="miter"/>
<text x="139" y="137.2" font-size="4.8" font-weight="bold" text-anchor="middle" fill="#222">10<tspan dy="-2.6" font-size="3.8">0</tspan></text>
<text transform="translate(135.2 129.5) rotate(-90)" font-size="4.8" font-weight="bold" text-anchor="middle" fill="#222">10<tspan dy="-2.6" font-size="3.8">0</tspan></text>
<text x="161" y="137.2" font-size="4.8" font-weight="bold" text-anchor="middle" fill="#222">10<tspan dy="-2.6" font-size="3.8">1</tspan></text>
<text transform="translate(135.2 105.58) rotate(-90)" font-size="4.8" font-weight="bold" text-anchor="middle" fill="#222">10<tspan dy="-2.6" font-size="3.8">1</tspan></text>
<text x="183" y="137.2" font-size="4.8" font-weight="bold" text-anchor="middle" fill="#222">10<tspan dy="-2.6" font-size="3.8">2</tspan></text>
<text transform="translate(135.2 81.65) rotate(-90)" font-size="4.8" font-weight="bold" text-anchor="middle" fill="#222">10<tspan dy="-2.6" font-size="3.8">2</tspan></text>
<text x="205" y="137.2" font-size="4.8" font-weight="bold" text-anchor="middle" fill="#222">10<tspan dy="-2.6" font-size="3.8">3</tspan></text>
<text transform="translate(135.2 57.72) rotate(-90)" font-size="4.8" font-weight="bold" text-anchor="middle" fill="#222">10<tspan dy="-2.6" font-size="3.8">3</tspan></text>
<text x="227" y="137.2" font-size="4.8" font-weight="bold" text-anchor="middle" fill="#222">10<tspan dy="-2.6" font-size="3.8">4</tspan></text>
<text transform="translate(135.2 33.8) rotate(-90)" font-size="4.8" font-weight="bold" text-anchor="middle" fill="#222">10<tspan dy="-2.6" font-size="3.8">4</tspan></text>
<text transform="translate(128.9 82.95) rotate(-90)" font-size="4.4" font-weight="bold" text-anchor="middle" fill="#000">FL2-Height</text>
<text x="178.5" y="32.8" font-size="5.4" font-weight="bold" text-anchor="middle" fill="#000">%5</text>
<path d="M243.3 34.3H331.3" stroke="#333" stroke-width="1.4" fill="none"/>
<path d="M331.3 34.3V129.6" stroke="#666" stroke-width="1.3" fill="none"/>
<path d="M243.3 34.3V129.6" stroke="#555" stroke-width="1.1" fill="none"/>
<path d="M243.3 129.6H331.3" stroke="#222" stroke-width="1.2" fill="none"/>
<path d="M241.9 129.6h2.2M243.3 128.8v2.2M242.2 122.43h1.6M249.92 129.1v1.6M242.2 118.23h1.6M253.8 129.1v1.6M242.2 115.26h1.6M256.55 129.1v1.6M242.2 112.95h1.6M258.68 129.1v1.6M242.2 111.06h1.6M260.42 129.1v1.6M242.2 109.47h1.6M261.89 129.1v1.6M242.2 108.08h1.6M263.17 129.1v1.6M242.2 106.87h1.6M264.29 129.1v1.6M241.9 105.77h2.2M265.3 128.8v2.2M242.2 98.6h1.6M271.92 129.1v1.6M242.2 94.41h1.6M275.8 129.1v1.6M242.2 91.43h1.6M278.55 129.1v1.6M242.2 89.12h1.6M280.68 129.1v1.6M242.2 87.24h1.6M282.42 129.1v1.6M242.2 85.64h1.6M283.89 129.1v1.6M242.2 84.26h1.6M285.17 129.1v1.6M242.2 83.04h1.6M286.29 129.1v1.6M241.9 81.95h2.2M287.3 128.8v2.2M242.2 74.78h1.6M293.92 129.1v1.6M242.2 70.58h1.6M297.8 129.1v1.6M242.2 67.61h1.6M300.55 129.1v1.6M242.2 65.3h1.6M302.68 129.1v1.6M242.2 63.41h1.6M304.42 129.1v1.6M242.2 61.82h1.6M305.89 129.1v1.6M242.2 60.43h1.6M307.17 129.1v1.6M242.2 59.22h1.6M308.29 129.1v1.6M241.9 58.12h2.2M309.3 128.8v2.2M242.2 50.95h1.6M315.92 129.1v1.6M242.2 46.76h1.6M319.8 129.1v1.6M242.2 43.78h1.6M322.55 129.1v1.6M242.2 41.47h1.6M324.68 129.1v1.6M242.2 39.59h1.6M326.42 129.1v1.6M242.2 37.99h1.6M327.89 129.1v1.6M242.2 36.61h1.6M329.17 129.1v1.6M242.2 35.39h1.6M330.29 129.1v1.6" stroke="#111" stroke-width="1" fill="none"/>
<polyline points="243.3,91.9 257,86.5 272.3,79.4 316.9,50.6 280.4,118.3 280.4,129.6" stroke="#2a2a2a" stroke-width="1.1" fill="none" stroke-linejoin="miter"/>
<text x="243.8" y="136.8" font-size="4.8" font-weight="bold" text-anchor="middle" fill="#222">10<tspan dy="-2.6" font-size="3.8">0</tspan></text>
<text transform="translate(240 129.1) rotate(-90)" font-size="4.8" font-weight="bold" text-anchor="middle" fill="#222">10<tspan dy="-2.6" font-size="3.8">0</tspan></text>
<text x="265.8" y="136.8" font-size="4.8" font-weight="bold" text-anchor="middle" fill="#222">10<tspan dy="-2.6" font-size="3.8">1</tspan></text>
<text transform="translate(240 105.27) rotate(-90)" font-size="4.8" font-weight="bold" text-anchor="middle" fill="#222">10<tspan dy="-2.6" font-size="3.8">1</tspan></text>
<text x="287.8" y="136.8" font-size="4.8" font-weight="bold" text-anchor="middle" fill="#222">10<tspan dy="-2.6" font-size="3.8">2</tspan></text>
<text transform="translate(240 81.45) rotate(-90)" font-size="4.8" font-weight="bold" text-anchor="middle" fill="#222">10<tspan dy="-2.6" font-size="3.8">2</tspan></text>
<text x="309.8" y="136.8" font-size="4.8" font-weight="bold" text-anchor="middle" fill="#222">10<tspan dy="-2.6" font-size="3.8">3</tspan></text>
<text transform="translate(240 57.62) rotate(-90)" font-size="4.8" font-weight="bold" text-anchor="middle" fill="#222">10<tspan dy="-2.6" font-size="3.8">3</tspan></text>
<text x="331.8" y="136.8" font-size="4.8" font-weight="bold" text-anchor="middle" fill="#222">10<tspan dy="-2.6" font-size="3.8">4</tspan></text>
<text transform="translate(240 33.8) rotate(-90)" font-size="4.8" font-weight="bold" text-anchor="middle" fill="#222">10<tspan dy="-2.6" font-size="3.8">4</tspan></text>
<text transform="translate(233.7 82.75) rotate(-90)" font-size="4.4" font-weight="bold" text-anchor="middle" fill="#000">FL2-Height</text>
<text x="283" y="32.8" font-size="5.4" font-weight="bold" text-anchor="middle" fill="#000">%5</text>
<path d="M33 162.2H122.6" stroke="#555" stroke-width="1.3" fill="none"/>
<path d="M122.6 162.2V255.6" stroke="#444" stroke-width="1.0" fill="none"/>
<path d="M33 162.2V255.6" stroke="#555" stroke-width="1.1" fill="none"/>
<path d="M33 255.6H122.6" stroke="#222" stroke-width="1.2" fill="none"/>
<path d="M31.6 255.6h2.2M33 254.8v2.2M31.9 248.57h1.6M39.74 255.1v1.6M31.9 244.46h1.6M43.69 255.1v1.6M31.9 241.54h1.6M46.49 255.1v1.6M31.9 239.28h1.6M48.66 255.1v1.6M31.9 237.43h1.6M50.43 255.1v1.6M31.9 235.87h1.6M51.93 255.1v1.6M31.9 234.51h1.6M53.23 255.1v1.6M31.9 233.32h1.6M54.38 255.1v1.6M31.6 232.25h2.2M55.4 254.8v2.2M31.9 225.22h1.6M62.14 255.1v1.6M31.9 221.11h1.6M66.09 255.1v1.6M31.9 218.19h1.6M68.89 255.1v1.6M31.9 215.93h1.6M71.06 255.1v1.6M31.9 214.08h1.6M72.83 255.1v1.6M31.9 212.52h1.6M74.33 255.1v1.6M31.9 211.16h1.6M75.63 255.1v1.6M31.9 209.97h1.6M76.78 255.1v1.6M31.6 208.9h2.2M77.8 254.8v2.2M31.9 201.87h1.6M84.54 255.1v1.6M31.9 197.76h1.6M88.49 255.1v1.6M31.9 194.84h1.6M91.29 255.1v1.6M31.9 192.58h1.6M93.46 255.1v1.6M31.9 190.73h1.6M95.23 255.1v1.6M31.9 189.17h1.6M96.73 255.1v1.6M31.9 187.81h1.6M98.03 255.1v1.6M31.9 186.62h1.6M99.18 255.1v1.6M31.6 185.55h2.2M100.2 254.8v2.2M31.9 178.52h1.6M106.94 255.1v1.6M31.9 174.41h1.6M110.89 255.1v1.6M31.9 171.49h1.6M113.69 255.1v1.6M31.9 169.23h1.6M115.86 255.1v1.6M31.9 167.38h1.6M117.63 255.1v1.6M31.9 165.82h1.6M119.13 255.1v1.6M31.9 164.46h1.6M120.43 255.1v1.6M31.9 163.27h1.6M121.58 255.1v1.6" stroke="#111" stroke-width="1" fill="none"/>
<polyline points="33,213.1 60,208.1 91.9,185.6 68.9,255.6" stroke="#2a2a2a" stroke-width="1.1" fill="none" stroke-linejoin="miter"/>
<text x="33.5" y="262.8" font-size="4.8" font-weight="bold" text-anchor="middle" fill="#222">10<tspan dy="-2.6" font-size="3.8">0</tspan></text>
<text transform="translate(29.7 255.1) rotate(-90)" font-size="4.8" font-weight="bold" text-anchor="middle" fill="#222">10<tspan dy="-2.6" font-size="3.8">0</tspan></text>
<text x="55.9" y="262.8" font-size="4.8" font-weight="bold" text-anchor="middle" fill="#222">10<tspan dy="-2.6" font-size="3.8">1</tspan></text>
<text transform="translate(29.7 231.75) rotate(-90)" font-size="4.8" font-weight="bold" text-anchor="middle" fill="#222">10<tspan dy="-2.6" font-size="3.8">1</tspan></text>
<text x="78.3" y="262.8" font-size="4.8" font-weight="bold" text-anchor="middle" fill="#222">10<tspan dy="-2.6" font-size="3.8">2</tspan></text>
<text transform="translate(29.7 208.4) rotate(-90)" font-size="4.8" font-weight="bold" text-anchor="middle" fill="#222">10<tspan dy="-2.6" font-size="3.8">2</tspan></text>
<text x="100.7" y="262.8" font-size="4.8" font-weight="bold" text-anchor="middle" fill="#222">10<tspan dy="-2.6" font-size="3.8">3</tspan></text>
<text transform="translate(29.7 185.05) rotate(-90)" font-size="4.8" font-weight="bold" text-anchor="middle" fill="#222">10<tspan dy="-2.6" font-size="3.8">3</tspan></text>
<text x="123.1" y="262.8" font-size="4.8" font-weight="bold" text-anchor="middle" fill="#222">10<tspan dy="-2.6" font-size="3.8">4</tspan></text>
<text transform="translate(29.7 161.7) rotate(-90)" font-size="4.8" font-weight="bold" text-anchor="middle" fill="#222">10<tspan dy="-2.6" font-size="3.8">4</tspan></text>
<text transform="translate(23.4 209.7) rotate(-90)" font-size="4.4" font-weight="bold" text-anchor="middle" fill="#000">FL2-Height</text>
<text x="73.5" y="160.8" font-size="5.4" font-weight="bold" text-anchor="middle" fill="#000">%5</text>
<path d="M137.8 163.5H227.3" stroke="#555" stroke-width="1.3" fill="none"/>
<path d="M227.3 163.5V256.7" stroke="#555" stroke-width="1.2" fill="none"/>
<path d="M137.8 163.5V256.7" stroke="#555" stroke-width="1.1" fill="none"/>
<path d="M137.8 256.7H227.3" stroke="#222" stroke-width="1.2" fill="none"/>
<path d="M136.4 256.7h2.2M137.8 255.9v2.2M136.7 249.69h1.6M144.54 256.2v1.6M136.7 245.58h1.6M148.48 256.2v1.6M136.7 242.67h1.6M151.27 256.2v1.6M136.7 240.41h1.6M153.44 256.2v1.6M136.7 238.57h1.6M155.21 256.2v1.6M136.7 237.01h1.6M156.71 256.2v1.6M136.7 235.66h1.6M158.01 256.2v1.6M136.7 234.47h1.6M159.15 256.2v1.6M136.4 233.4h2.2M160.18 255.9v2.2M136.7 226.39h1.6M166.91 256.2v1.6M136.7 222.28h1.6M170.85 256.2v1.6M136.7 219.37h1.6M173.65 256.2v1.6M136.7 217.11h1.6M175.81 256.2v1.6M136.7 215.27h1.6M177.59 256.2v1.6M136.7 213.71h1.6M179.08 256.2v1.6M136.7 212.36h1.6M180.38 256.2v1.6M136.7 211.17h1.6M181.53 256.2v1.6M136.4 210.1h2.2M182.55 255.9v2.2M136.7 203.09h1.6M189.29 256.2v1.6M136.7 198.98h1.6M193.23 256.2v1.6M136.7 196.07h1.6M196.02 256.2v1.6M136.7 193.81h1.6M198.19 256.2v1.6M136.7 191.97h1.6M199.96 256.2v1.6M136.7 190.41h1.6M201.46 256.2v1.6M136.7 189.06h1.6M202.76 256.2v1.6M136.7 187.87h1.6M203.9 256.2v1.6M136.4 186.8h2.2M204.93 255.9v2.2M136.7 179.79h1.6M211.66 256.2v1.6M136.7 175.68h1.6M215.6 256.2v1.6M136.7 172.77h1.6M218.4 256.2v1.6M136.7 170.51h1.6M220.56 256.2v1.6M136.7 168.67h1.6M222.34 256.2v1.6M136.7 167.11h1.6M223.83 256.2v1.6M136.7 165.76h1.6M225.13 256.2v1.6M136.7 164.57h1.6M226.28 256.2v1.6" stroke="#111" stroke-width="1" fill="none"/>
<polyline points="137.8,213.1 166,201.5 195.9,175.3 172.5,228.1 172.5,256.7" stroke="#2a2a2a" stroke-width="1.1" fill="none" stroke-linejoin="miter"/>
<text x="138.3" y="263.9" font-size="4.8" font-weight="bold" text-anchor="middle" fill="#222">10<tspan dy="-2.6" font-size="3.8">0</tspan></text>
<text transform="translate(134.5 256.2) rotate(-90)" font-size="4.8" font-weight="bold" text-anchor="middle" fill="#222">10<tspan dy="-2.6" font-size="3.8">0</tspan></text>
<text x="160.68" y="263.9" font-size="4.8" font-weight="bold" text-anchor="middle" fill="#222">10<tspan dy="-2.6" font-size="3.8">1</tspan></text>
<text transform="translate(134.5 232.9) rotate(-90)" font-size="4.8" font-weight="bold" text-anchor="middle" fill="#222">10<tspan dy="-2.6" font-size="3.8">1</tspan></text>
<text x="183.05" y="263.9" font-size="4.8" font-weight="bold" text-anchor="middle" fill="#222">10<tspan dy="-2.6" font-size="3.8">2</tspan></text>
<text transform="translate(134.5 209.6) rotate(-90)" font-size="4.8" font-weight="bold" text-anchor="middle" fill="#222">10<tspan dy="-2.6" font-size="3.8">2</tspan></text>
<text x="205.43" y="263.9" font-size="4.8" font-weight="bold" text-anchor="middle" fill="#222">10<tspan dy="-2.6" font-size="3.8">3</tspan></text>
<text transform="translate(134.5 186.3) rotate(-90)" font-size="4.8" font-weight="bold" text-anchor="middle" fill="#222">10<tspan dy="-2.6" font-size="3.8">3</tspan></text>
<text x="227.8" y="263.9" font-size="4.8" font-weight="bold" text-anchor="middle" fill="#222">10<tspan dy="-2.6" font-size="3.8">4</tspan></text>
<text transform="translate(134.5 163) rotate(-90)" font-size="4.8" font-weight="bold" text-anchor="middle" fill="#222">10<tspan dy="-2.6" font-size="3.8">4</tspan></text>
<text transform="translate(128.2 210.9) rotate(-90)" font-size="4.4" font-weight="bold" text-anchor="middle" fill="#000">FL2-Height</text>
<text x="178.5" y="161.8" font-size="5.4" font-weight="bold" text-anchor="middle" fill="#000">%5</text>
<path d="M242.3 163.6H332" stroke="#666" stroke-width="1.3" fill="none"/>
<path d="M332 163.6V256.9" stroke="#666" stroke-width="1.3" fill="none"/>
<path d="M242.3 163.6V256.9" stroke="#555" stroke-width="1.1" fill="none"/>
<path d="M242.3 256.9H332" stroke="#222" stroke-width="1.2" fill="none"/>
<path d="M240.9 256.9h2.2M242.3 256.1v2.2M241.2 249.88h1.6M249.05 256.4v1.6M241.2 245.77h1.6M253 256.4v1.6M241.2 242.86h1.6M255.8 256.4v1.6M241.2 240.6h1.6M257.97 256.4v1.6M241.2 238.75h1.6M259.75 256.4v1.6M241.2 237.19h1.6M261.25 256.4v1.6M241.2 235.84h1.6M262.55 256.4v1.6M241.2 234.64h1.6M263.7 256.4v1.6M240.9 233.57h2.2M264.73 256.1v2.2M241.2 226.55h1.6M271.48 256.4v1.6M241.2 222.45h1.6M275.42 256.4v1.6M241.2 219.53h1.6M278.23 256.4v1.6M241.2 217.27h1.6M280.4 256.4v1.6M241.2 215.42h1.6M282.18 256.4v1.6M241.2 213.86h1.6M283.68 256.4v1.6M241.2 212.51h1.6M284.98 256.4v1.6M241.2 211.32h1.6M286.12 256.4v1.6M240.9 210.25h2.2M287.15 256.1v2.2M241.2 203.23h1.6M293.9 256.4v1.6M241.2 199.12h1.6M297.85 256.4v1.6M241.2 196.21h1.6M300.65 256.4v1.6M241.2 193.95h1.6M302.82 256.4v1.6M241.2 192.1h1.6M304.6 256.4v1.6M241.2 190.54h1.6M306.1 256.4v1.6M241.2 189.19h1.6M307.4 256.4v1.6M241.2 187.99h1.6M308.55 256.4v1.6M240.9 186.92h2.2M309.57 256.1v2.2M241.2 179.9h1.6M316.33 256.4v1.6M241.2 175.8h1.6M320.27 256.4v1.6M241.2 172.88h1.6M323.08 256.4v1.6M241.2 170.62h1.6M325.25 256.4v1.6M241.2 168.77h1.6M327.03 256.4v1.6M241.2 167.21h1.6M328.53 256.4v1.6M241.2 165.86h1.6M329.83 256.4v1.6M241.2 164.67h1.6M330.97 256.4v1.6" stroke="#111" stroke-width="1" fill="none"/>
<polyline points="242.3,213.1 271,206.5 311.5,179 277.5,239 279.4,256.9" stroke="#2a2a2a" stroke-width="1.1" fill="none" stroke-linejoin="miter"/>
<text x="242.8" y="264.1" font-size="4.8" font-weight="bold" text-anchor="middle" fill="#222">10<tspan dy="-2.6" font-size="3.8">0</tspan></text>
<text transform="translate(239 256.4) rotate(-90)" font-size="4.8" font-weight="bold" text-anchor="middle" fill="#222">10<tspan dy="-2.6" font-size="3.8">0</tspan></text>
<text x="265.23" y="264.1" font-size="4.8" font-weight="bold" text-anchor="middle" fill="#222">10<tspan dy="-2.6" font-size="3.8">1</tspan></text>
<text transform="translate(239 233.07) rotate(-90)" font-size="4.8" font-weight="bold" text-anchor="middle" fill="#222">10<tspan dy="-2.6" font-size="3.8">1</tspan></text>
<text x="287.65" y="264.1" font-size="4.8" font-weight="bold" text-anchor="middle" fill="#222">10<tspan dy="-2.6" font-size="3.8">2</tspan></text>
<text transform="translate(239 209.75) rotate(-90)" font-size="4.8" font-weight="bold" text-anchor="middle" fill="#222">10<tspan dy="-2.6" font-size="3.8">2</tspan></text>
<text x="310.07" y="264.1" font-size="4.8" font-weight="bold" text-anchor="middle" fill="#222">10<tspan dy="-2.6" font-size="3.8">3</tspan></text>
<text transform="translate(239 186.42) rotate(-90)" font-size="4.8" font-weight="bold" text-anchor="middle" fill="#222">10<tspan dy="-2.6" font-size="3.8">3</tspan></text>
<text x="332.5" y="264.1" font-size="4.8" font-weight="bold" text-anchor="middle" fill="#222">10<tspan dy="-2.6" font-size="3.8">4</tspan></text>
<text transform="translate(239 163.1) rotate(-90)" font-size="4.8" font-weight="bold" text-anchor="middle" fill="#222">10<tspan dy="-2.6" font-size="3.8">4</tspan></text>
<text transform="translate(232.7 211.05) rotate(-90)" font-size="4.4" font-weight="bold" text-anchor="middle" fill="#000">FL2-Height</text>
<text x="283" y="162" font-size="5.4" font-weight="bold" text-anchor="middle" fill="#000">%5</text>
<text x="0.6" y="18.9" font-size="25" font-weight="bold">A</text>
<text x="353.9" y="18.6" font-size="24" font-weight="bold">B</text>
<text x="77" y="26.8" font-size="10.3" font-weight="bold" text-anchor="middle">Day 0</text>
<text x="181.5" y="26.8" font-size="10.3" font-weight="bold" text-anchor="middle">Day 4</text>
<text x="283.8" y="26.8" font-size="10.3" font-weight="bold" text-anchor="middle">Day 16</text>
<text transform="translate(10.1 100.3) rotate(-90)" font-size="12" font-weight="bold">CD34</text>
<text transform="translate(10.1 217.3) rotate(-90)" font-size="12" font-weight="bold">CD4</text>
<path d="M17.6 52.1V125.7" stroke="#000" stroke-width="2"/>
<path d="M17.6 48.1L14.9 53L20.3 53z" fill="#000"/>
<path d="M17.6 174.1V248.7" stroke="#000" stroke-width="2"/>
<path d="M17.6 170.1L14.9 175L20.3 175z" fill="#000"/>
<path d="M51.2 141.4H306.8" stroke="#000" stroke-width="2"/>
<path d="M310.8 141.4L305.6 138.9L305.6 143.9z" fill="#000"/>
<path d="M51.2 273.9H306.8" stroke="#000" stroke-width="2"/>
<path d="M310.8 273.9L305.6 271.4L305.6 276.4z" fill="#000"/>
<text x="180.3" y="154.4" font-size="11.5" font-weight="bold" text-anchor="middle">FL2</text>
<text x="180" y="286.4" font-size="11.5" font-weight="bold" text-anchor="middle">CD8</text>
<path d="M359 42.46V141.3H500" stroke="#111" stroke-width="1.1" fill="none"/>
<path d="M357 141.3h2M357 127.18h2M357 113.06h2M357 98.94h2M357 84.82h2M357 70.7h2M357 56.58h2M357 42.46h2M388.6 141.3v2M425 141.3v2M461.5 141.3v2M497.9 141.3v2M357.5 134.24h1.5M357.5 120.12h1.5M357.5 106h1.5M357.5 91.88h1.5M357.5 77.76h1.5M357.5 63.64h1.5M357.5 49.52h1.5" stroke="#111" stroke-width="1" fill="none"/>
<text x="355.6" y="147.4" font-size="10" text-anchor="end">0</text>
<text x="355.6" y="133.28" font-size="10" text-anchor="end">1</text>
<text x="355.6" y="119.16" font-size="10" text-anchor="end">2</text>
<text x="355.6" y="105.04" font-size="10" text-anchor="end">3</text>
<text x="355.6" y="90.92" font-size="10" text-anchor="end">4</text>
<text x="355.6" y="76.8" font-size="10" text-anchor="end">5</text>
<text x="355.6" y="62.68" font-size="10" text-anchor="end">6</text>
<text x="355.6" y="48.56" font-size="10" text-anchor="end">7</text>
<text x="388.6" y="152.6" font-size="10" text-anchor="middle">0</text>
<text x="425" y="152.6" font-size="10" text-anchor="middle">4</text>
<text x="461.5" y="152.6" font-size="10" text-anchor="middle">12</text>
<text x="497.9" y="152.6" font-size="10" text-anchor="middle">16</text>
<text x="361.7" y="47.8" font-size="17" font-weight="bold">i</text>
<path d="M358.4 161V258.9" stroke="#111" stroke-width="1.1" fill="none"/>
<path d="M358.4 258.9H498.3" stroke="#555" stroke-width="1.1" fill="none"/>
<path d="M356.4 258.9h2M356.4 239.32h2M356.4 219.74h2M356.4 200.16h2M356.4 180.58h2M356.4 161h2M388.6 258.9v2M425 258.9v2M461.5 258.9v2M497.9 258.9v2" stroke="#111" stroke-width="1" fill="none"/>
<path d="M356.8 254h1.6M356.8 249.11h1.6M356.8 244.21h1.6M356.8 234.42h1.6M356.8 229.53h1.6M356.8 224.63h1.6M356.8 214.84h1.6M356.8 209.95h1.6M356.8 205.05h1.6M356.8 195.26h1.6M356.8 190.37h1.6M356.8 185.47h1.6M356.8 175.68h1.6M356.8 170.79h1.6M356.8 165.89h1.6" stroke="#222" stroke-width="1" fill="none"/>
<text x="355.6" y="264.5" font-size="10" text-anchor="end">0</text>
<text x="355.6" y="244.92" font-size="10" text-anchor="end">10</text>
<text x="355.6" y="225.34" font-size="10" text-anchor="end">20</text>
<text x="355.6" y="205.76" font-size="10" text-anchor="end">30</text>
<text x="355.6" y="186.18" font-size="10" text-anchor="end">40</text>
<text x="355.6" y="166.6" font-size="10" text-anchor="end">50</text>
<text x="388.6" y="269.6" font-size="10" text-anchor="middle">0</text>
<text x="425" y="269.6" font-size="10" text-anchor="middle">4</text>
<text x="461.5" y="269.6" font-size="10" text-anchor="middle">12</text>
<text x="497.9" y="269.6" font-size="10" text-anchor="middle">16</text>
<text x="361.7" y="166.3" font-size="16.5" font-weight="bold">ii</text>
<text x="396.9" y="280.2" font-size="11" font-weight="bold">Days of coculture</text>
<text transform="translate(343 163.9) rotate(-90)" font-size="11" font-weight="bold">Percentage</text>
<path d="M388.6 54.4V78.5M387.3 54.4h2.6M387.3 78.5h2.6M425 81.2V105M423.7 81.2h2.6M423.7 105h2.6M461.5 121.2V134.5M460.2 121.2h2.6M460.2 134.5h2.6M497.9 120.4V141M496.6 120.4h2.6M496.6 141h2.6" stroke="#222" stroke-width="1" fill="none"/>
<path d="M388.6 66.5 L425 93.1 L461.5 127.9 L497.9 131.9" stroke="#000" stroke-width="1.9" fill="none" stroke-linejoin="round"/>
<circle cx="388.6" cy="66.5" r="1.9" fill="#000"/>
<circle cx="425" cy="93.1" r="1.9" fill="#000"/>
<circle cx="461.5" cy="127.9" r="1.9" fill="#000"/>
<circle cx="497.9" cy="131.9" r="1.9" fill="#000"/>
<path d="M425 100V122M423.7 100h2.6M423.7 122h2.6" stroke="#222" stroke-width="1" fill="none"/>
<path d="M388.6 138.1 L425 111 L461.5 128.5 L497.9 134.6" stroke="#000" stroke-width="1.9" fill="none" stroke-linejoin="round"/>
<circle cx="388.6" cy="138.1" r="2.1" fill="#fff" stroke="#000" stroke-width="1"/>
<circle cx="425" cy="111" r="2.1" fill="#fff" stroke="#000" stroke-width="1"/>
<circle cx="461.5" cy="128.5" r="2.1" fill="#fff" stroke="#000" stroke-width="1"/>
<circle cx="497.9" cy="134.6" r="2.1" fill="#fff" stroke="#000" stroke-width="1"/>
<path d="M388.6 126.9 L425 134.7 L461.5 138.6 L497.9 139.9" stroke="#000" stroke-width="1.9" fill="none" stroke-linejoin="round"/>
<rect x="386.7" y="125" width="3.8" height="3.8" fill="#fff" stroke="#000" stroke-width="1"/>
<rect x="423.1" y="132.8" width="3.8" height="3.8" fill="#fff" stroke="#000" stroke-width="1"/>
<rect x="459.6" y="136.7" width="3.8" height="3.8" fill="#fff" stroke="#000" stroke-width="1"/>
<rect x="496" y="138" width="3.8" height="3.8" fill="#fff" stroke="#000" stroke-width="1"/>
<path d="M435.3 58.5H445.6" stroke="#000" stroke-width="1.6"/>
<circle cx="440.45" cy="58.5" r="2.1" fill="#fff" stroke="#000" stroke-width="1"/>
<text x="452.1" y="62.6" font-size="8.7">CD3+CD4+CD8+</text>
<path d="M435.3 67.3H445.6" stroke="#000" stroke-width="1.6"/>
<circle cx="440.45" cy="67.3" r="1.9" fill="#000"/>
<text x="451.3" y="72.1" font-size="8.7">CD34+</text>
<path d="M435.3 76.9H445.6" stroke="#000" stroke-width="1.6"/>
<rect x="438.55" y="75" width="3.8" height="3.8" fill="#fff" stroke="#000" stroke-width="1"/>
<text x="451.3" y="81.9" font-size="8.7">CD34+CD7+</text>
<path d="M461.3 197.5V223M460 197.5h2.6M460 223h2.6M497.3 163.1V193M496 163.1h2.6M496 193h2.6" stroke="#222" stroke-width="1" fill="none"/>
<path d="M388.1 258.5 L424.8 247.3 L461.3 210.4 L497.3 177.9" stroke="#000" stroke-width="1.9" fill="none" stroke-linejoin="round"/>
<circle cx="388.1" cy="258.5" r="2.1" fill="#fff" stroke="#000" stroke-width="1"/>
<circle cx="424.8" cy="247.3" r="2.1" fill="#fff" stroke="#000" stroke-width="1"/>
<circle cx="461.3" cy="210.4" r="2.1" fill="#fff" stroke="#000" stroke-width="1"/>
<circle cx="497.3" cy="177.9" r="2.1" fill="#fff" stroke="#000" stroke-width="1"/>
<path d="M461.5 203V226.5M460.2 203h2.6M460.2 226.5h2.6M497.5 189.5V202.5M496.2 189.5h2.6M496.2 202.5h2.6" stroke="#222" stroke-width="1" fill="none"/>
<path d="M388.3 258.8 L424.8 254 L461.5 215 L497.5 196" stroke="#000" stroke-width="1.9" fill="none" stroke-linejoin="round"/>
<circle cx="388.3" cy="258.8" r="1.9" fill="#000"/>
<circle cx="424.8" cy="254" r="1.9" fill="#000"/>
<circle cx="461.5" cy="215" r="1.9" fill="#000"/>
<circle cx="497.5" cy="196" r="1.9" fill="#000"/>
<path d="M369.4 189.4H378.8" stroke="#000" stroke-width="1.6"/>
<circle cx="374.1" cy="189.4" r="2.1" fill="#fff" stroke="#000" stroke-width="1"/>
<text x="382.5" y="192.6" font-size="8.7">CD3+</text>
<path d="M369.4 199.4H378.8" stroke="#000" stroke-width="1.6"/>
<circle cx="374.1" cy="199.4" r="1.9" fill="#000"/>
<text x="382.5" y="202.6" font-size="8.7">CD3+CD4+CD8-</text>
</svg>
</body></html>
